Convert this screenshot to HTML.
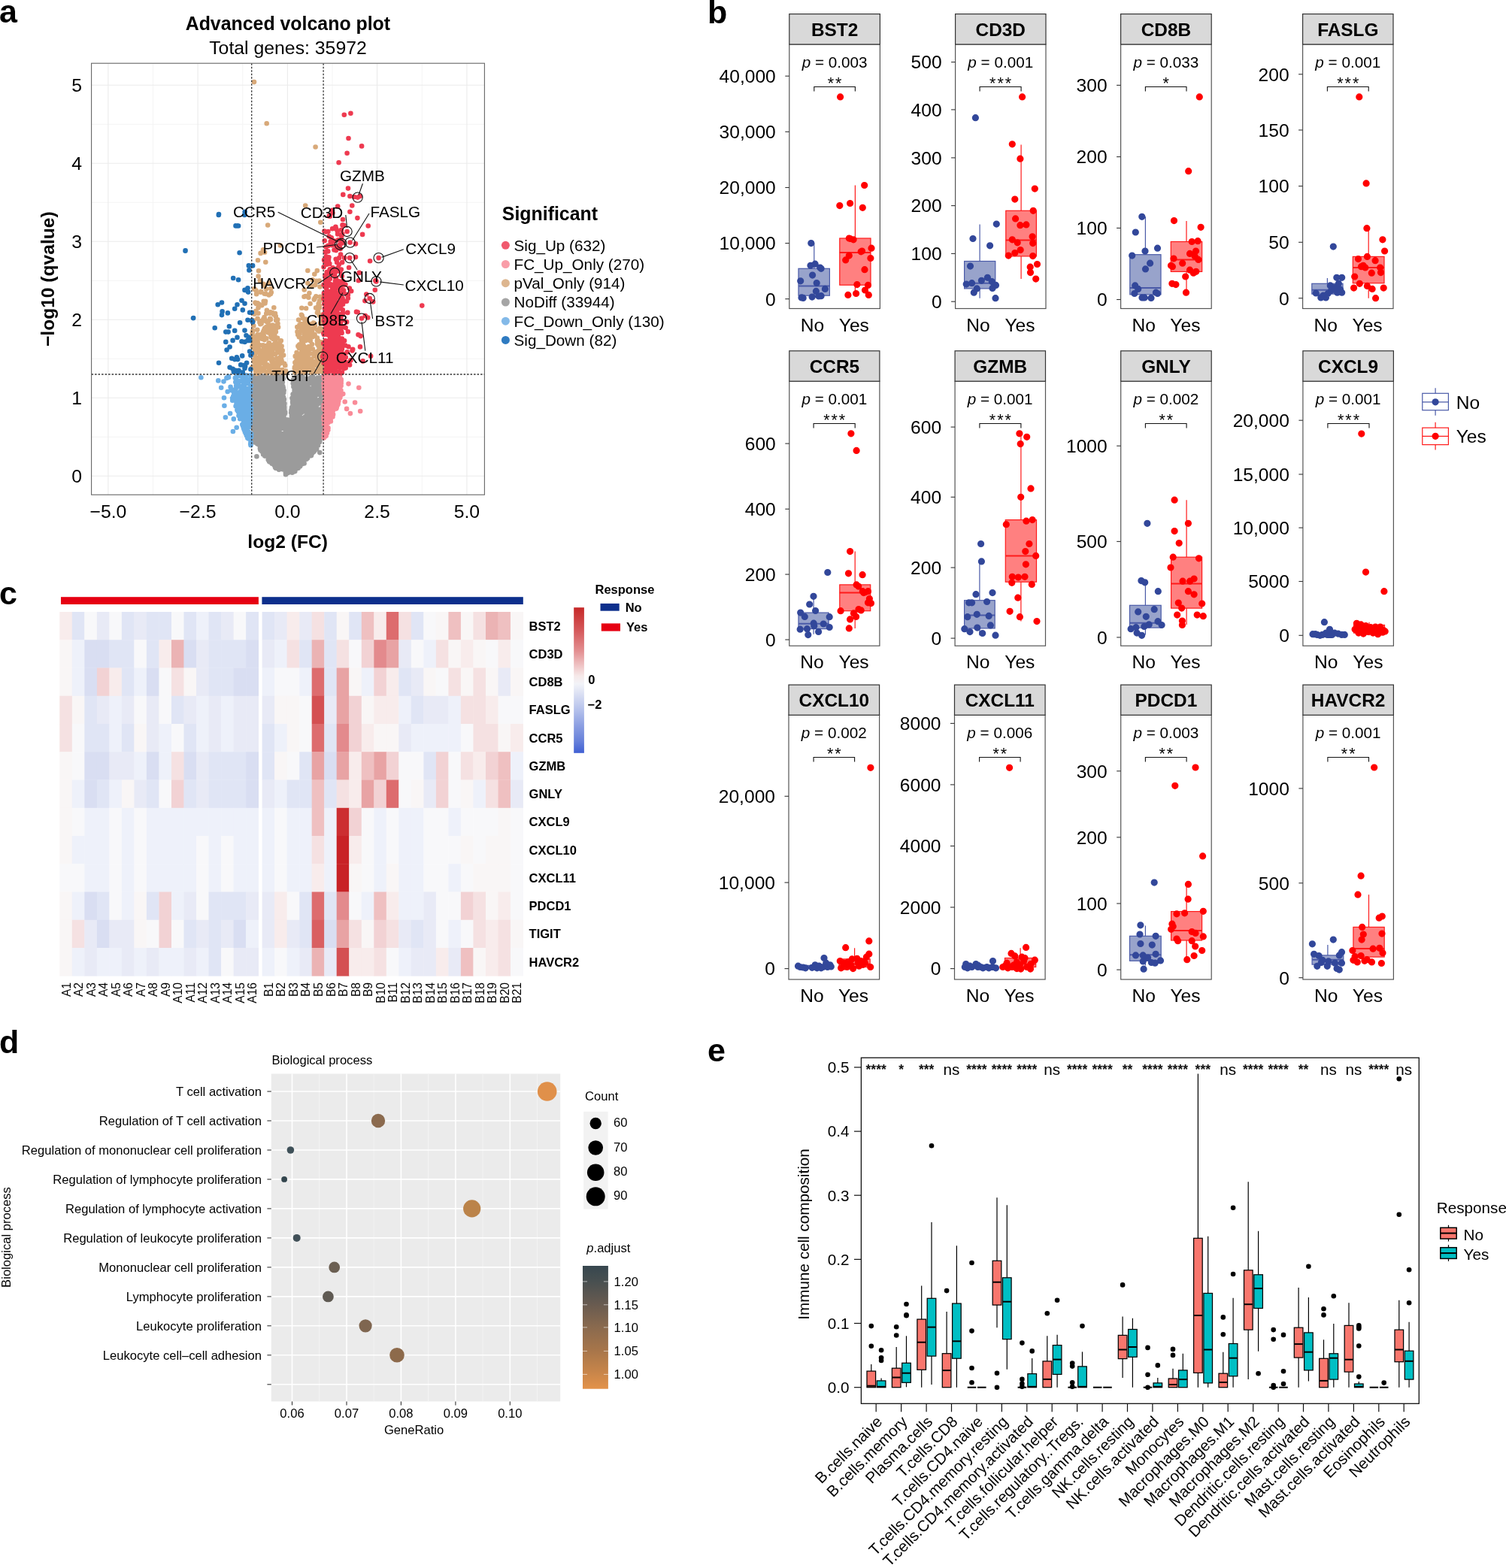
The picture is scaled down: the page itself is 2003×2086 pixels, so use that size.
<!DOCTYPE html><html><head><meta charset="utf-8"><title>Figure</title><style>html,body{margin:0;padding:0;background:#fff}svg{display:block}text{font-family:"Liberation Sans",Arial,Helvetica,sans-serif}</style></head><body>
<svg width="2003" height="2086" viewBox="0 0 2003 2086">
<rect width="2003" height="2086" fill="#fff"/>
<line x1="203.5" y1="84.2" x2="203.5" y2="658.2" stroke="#f4f4f4" stroke-width="1"/>
<line x1="322.8" y1="84.2" x2="322.8" y2="658.2" stroke="#f4f4f4" stroke-width="1"/>
<line x1="442" y1="84.2" x2="442" y2="658.2" stroke="#f4f4f4" stroke-width="1"/>
<line x1="561.3" y1="84.2" x2="561.3" y2="658.2" stroke="#f4f4f4" stroke-width="1"/>
<line x1="121.6" y1="581.3" x2="644.4" y2="581.3" stroke="#f4f4f4" stroke-width="1"/>
<line x1="121.6" y1="477.3" x2="644.4" y2="477.3" stroke="#f4f4f4" stroke-width="1"/>
<line x1="121.6" y1="373.3" x2="644.4" y2="373.3" stroke="#f4f4f4" stroke-width="1"/>
<line x1="121.6" y1="269.3" x2="644.4" y2="269.3" stroke="#f4f4f4" stroke-width="1"/>
<line x1="121.6" y1="165.3" x2="644.4" y2="165.3" stroke="#f4f4f4" stroke-width="1"/>
<line x1="143.9" y1="84.2" x2="143.9" y2="658.2" stroke="#ebebeb" stroke-width="1.1"/>
<line x1="263.1" y1="84.2" x2="263.1" y2="658.2" stroke="#ebebeb" stroke-width="1.1"/>
<line x1="382.4" y1="84.2" x2="382.4" y2="658.2" stroke="#ebebeb" stroke-width="1.1"/>
<line x1="501.6" y1="84.2" x2="501.6" y2="658.2" stroke="#ebebeb" stroke-width="1.1"/>
<line x1="620.9" y1="84.2" x2="620.9" y2="658.2" stroke="#ebebeb" stroke-width="1.1"/>
<line x1="121.6" y1="633.3" x2="644.4" y2="633.3" stroke="#ebebeb" stroke-width="1.1"/>
<line x1="121.6" y1="529.3" x2="644.4" y2="529.3" stroke="#ebebeb" stroke-width="1.1"/>
<line x1="121.6" y1="425.3" x2="644.4" y2="425.3" stroke="#ebebeb" stroke-width="1.1"/>
<line x1="121.6" y1="321.3" x2="644.4" y2="321.3" stroke="#ebebeb" stroke-width="1.1"/>
<line x1="121.6" y1="217.3" x2="644.4" y2="217.3" stroke="#ebebeb" stroke-width="1.1"/>
<line x1="121.6" y1="113.3" x2="644.4" y2="113.3" stroke="#ebebeb" stroke-width="1.1"/>
<g>
<path d="M394.3 512h0M408.7 602.9h0M363.3 515.2h0M335.2 522.3h0M410.7 570h0M363.6 595.7h0M359 573.1h0M382.8 558.5h0M338.1 563.7h0M394.7 563.8h0M382.1 599.8h0M400.7 606.2h0M360.2 514.3h0M395.7 533h0M343.4 560.1h0M369.2 552.4h0M340.4 580.9h0M365.5 613h0M412.6 582h0M428.1 553.5h0M392.4 547h0M399.2 612.9h0M376.7 600.9h0M373.1 620.2h0M398.8 592.7h0M418.1 543.8h0M347.3 519h0M424.8 511.1h0M389.1 613.6h0M353.1 507.8h0M387.4 608.9h0M419 546.6h0M389 582.4h0M373.9 600.9h0M338.3 514.8h0M379.3 559.3h0M365.4 531.7h0M337.1 583h0M427 544.4h0M375.6 562.5h0M418 586.8h0M391 540.9h0M368.6 563.1h0M407.7 510.4h0M349.1 507.1h0M335.2 531.5h0M374.7 523.1h0M336.1 548.3h0M410.4 563.9h0M403.9 602.7h0M353.6 584.2h0M351.8 586.5h0M425.2 555.8h0M367.1 596.6h0M425.5 573.2h0M428.2 563.6h0M405.6 554.8h0M375.4 514.6h0M374 508.5h0M341.3 575.2h0M358.6 524.3h0M399.2 536.3h0M394.8 501.9h0M366.4 579.5h0M355 509.5h0M392.3 568.5h0M391.4 544.2h0M364 503.3h0M379.1 548.4h0M395.3 608.4h0M340.6 577.7h0M407.6 523.1h0M421.8 524.9h0M418.4 562.5h0M358.8 599.7h0M352.6 556.6h0M338.4 553.5h0M350.5 541.7h0M424.2 560.5h0M412.1 544.3h0M393 607.4h0M389.5 627.9h0M411.2 503.5h0M367 590.3h0M345.5 548.6h0M410.8 590.9h0M417 525.5h0M347 529.6h0M389.4 546.9h0M392.8 620.3h0M397.8 547.9h0M413.3 524.7h0M365.9 535.7h0M417.4 512.6h0M396.8 604.3h0M370.9 599.1h0M378.3 544.4h0M344.3 581.8h0M347.5 543.7h0M413.9 582.3h0M370.2 560.4h0M355.2 599.9h0M366.2 571.5h0M342.5 531.5h0M389.9 592.8h0M342.1 530.1h0M421.2 596.9h0M363.9 520.7h0M393.8 608h0M376.2 513.8h0M370.5 537.2h0M343.9 535h0M408.8 521.7h0M399 583.2h0M340.8 563.2h0M407 607.5h0M360.1 560.8h0M406.1 512.1h0M411 546.2h0M424.3 519.3h0M408.8 579.9h0M395.9 608.4h0M407.2 530.9h0M403.5 573.2h0M370.8 576.5h0M337.9 519.1h0M386.4 580.9h0M371.1 521h0M422.4 580.9h0M347.8 530.5h0M402.7 521.7h0M389.6 573h0M406.3 607.5h0M379.9 628.9h0M364.6 591.1h0M403.4 571.8h0M419.5 509.4h0M358.2 580h0M337.9 565.2h0M416.8 567.8h0M352.2 542.7h0M360.1 562.1h0M361.7 563.5h0M394.7 560.8h0M372.4 526.4h0M428.2 506h0M356.7 502.2h0M354.5 564.8h0M391.9 624.3h0M357.3 570.4h0M418.7 530.4h0M413.8 530.4h0M402.2 518.4h0M399.7 533.8h0M363.5 610.6h0M406.9 610.9h0M422.4 552.6h0M366.1 506.7h0M349.5 563.7h0M343.4 502.8h0M389.6 524.6h0M361.6 524.9h0M401.8 546.3h0M425.4 574.7h0M374.3 539.7h0M414.4 588h0M398.6 605h0M340.9 534.9h0M336.2 503.7h0M379.4 578h0M403.4 562.5h0M388.4 557.8h0M377.9 548h0M387.2 623.3h0M391.3 603.3h0M353.4 514.5h0M353.6 571.9h0M406.3 537.7h0M379.1 549.4h0M412.8 541.6h0M395.9 578.4h0M388 579.7h0M405.7 581.9h0M382.7 587.6h0M413.6 581.8h0M415.3 527.1h0M377.4 536.9h0M338 580.6h0M416.8 554.9h0M387.9 543.4h0M399.3 554.4h0M374.8 608.5h0M362.6 593.7h0M368.3 572.8h0M370.2 554.7h0M425.1 513.1h0M370.7 597.2h0M419.1 566.5h0M417.4 591h0M381.9 606.5h0M374.8 521.3h0M413.7 569.3h0M408 571.4h0M370.3 559.5h0M353.9 590.5h0M402.1 529.1h0M340.1 534.2h0M412.7 573.1h0M340.7 541h0M358.2 546.3h0M370.6 547.2h0M359.3 568.9h0M354.1 503.2h0M362.3 591.9h0M375 528.9h0M402.4 606.9h0M347.8 589.8h0M408 567.3h0M422.8 544.6h0M393.9 529.5h0M406.3 586.8h0M359.2 574.1h0M381.4 614.1h0M376.8 546.8h0M351.3 595h0M380 631.3h0M378.4 611.3h0M360.4 526.2h0M352.3 549.9h0M373.5 576.8h0M422.8 512.5h0M398 552.1h0M408.4 604.4h0M425.7 513.5h0M345.6 590.7h0M337.8 521h0M393.1 543.3h0M399.4 556.2h0M425.6 551.1h0M366.7 564h0M336.5 535.4h0M400.9 576.4h0M415.9 531.2h0M366.8 622.8h0M363.7 572.8h0M420.4 541.3h0M416.1 578.8h0M358.1 614h0M411 540.5h0M355 597.1h0M401.7 615.8h0M383.9 628.5h0M407.7 551.1h0M364.5 548.3h0M362.6 530.9h0M395.3 533.2h0M370.8 535.3h0M401.3 580.9h0M337.2 503.1h0M402.8 605.6h0M404.4 595.6h0M377.4 594.4h0M355.6 596.6h0M379.1 604.3h0M405.2 508.6h0M360.7 555.9h0M383 623.1h0M346.6 513.7h0M341.1 552.9h0M417.3 516.1h0M335.2 562.8h0M369.9 530.5h0M412.2 569.8h0M372.1 612.6h0M342.5 556.5h0M425.7 555h0M396.4 589.5h0M389.2 531.6h0M390.9 524.8h0M387.2 606.5h0M390.3 566.9h0M350.5 549.6h0M373.1 596.8h0M370.2 560.1h0M400.2 557.7h0M344.9 522.7h0M358.5 609.8h0M415.7 510.2h0M338.9 588.4h0M353.1 569.8h0M351 567.5h0M376.5 614.2h0M368.4 500.5h0M411.8 591.3h0M378.2 543.8h0M383.2 610.9h0M348 594.8h0M347.1 570.5h0M368.7 554h0M366.3 531.2h0M359.1 578.6h0M406.7 578.3h0M419.3 509.2h0M364.3 533.8h0M358.8 614.4h0M376.5 551.8h0M402.7 569h0M347.3 501.8h0M401.1 615.9h0M343.5 588.5h0M422.3 550.6h0M341.1 556.4h0M378.5 557h0M405 541.6h0M412.2 577.7h0M409.4 512.7h0M424.9 582.9h0M424.4 578.4h0M370.5 531h0M379.7 572.7h0M371.5 574.8h0M406.6 557h0M398.8 524.8h0M356.7 601.7h0M361.2 592.2h0M407.3 582.7h0M365.5 547.3h0M401.2 531h0M363 547.3h0M338 578.6h0M389.8 599h0M367.9 550.9h0M391 612.5h0M358.9 606.2h0M401.7 587.9h0M338.1 558.9h0M337.6 508h0M376.2 605.6h0M358.1 503.4h0M420.3 547.3h0M343.6 590.3h0M395.1 619.7h0M349.6 511.2h0M366.7 588.3h0M343 525.7h0M399.2 559.3h0M393.6 619.7h0M359.5 554.4h0M425.5 522.8h0M395.8 563.2h0M336.1 512.9h0M400.8 523.5h0M409.7 572.1h0M415.9 501.1h0M358 516.2h0M373.1 591.2h0M376.9 606.3h0M402.7 565.4h0M417.6 512.1h0M364.9 595.4h0M424.3 565.2h0M429.2 555h0M339.9 564.2h0M382.8 574.4h0M425.5 505h0M373.6 520.5h0M394.2 534.6h0M389.7 604.9h0M401.3 607h0M386.1 625.6h0M375.6 544h0M336.4 560.3h0M371.1 565.2h0M362.9 544.5h0M351.2 510.7h0M426.3 566.6h0M362.4 524.7h0M362.1 536h0M366.6 551.8h0M411.7 560h0M370.9 585.9h0M394.1 620.1h0M398.6 503.2h0M428.3 513.1h0M417.6 514.6h0M394 562.8h0M353.8 563.1h0M362.4 616.3h0M346.9 525h0M390.3 576.2h0M375.6 605.5h0M398.1 594.2h0M372.8 570.6h0M403.3 591.5h0M420 580h0M398.9 620.5h0M350.1 604.5h0M342.9 569.5h0M391.2 590.3h0M345.1 523.7h0M411.4 557.3h0M347.8 560h0M394.8 575.4h0M417.1 580.6h0M383.4 617.9h0M388.5 529.7h0M404.5 598.6h0M429.3 536h0M375.1 577.2h0M409 609.5h0M395.7 536.1h0M379.4 570.4h0M361.9 509h0M364.9 539.3h0M373.8 506.8h0M429.6 551.5h0M341.7 566.1h0M339.4 559.1h0M352.4 583.6h0M363.8 551.9h0M413.2 506.7h0M366.1 556.3h0M335.3 583h0M417.7 545.1h0M362.7 528.1h0M362.3 512.3h0M406.3 572.6h0M348.8 563.9h0M363 559h0M405.7 517.5h0M340.3 553.2h0M428.5 571.1h0M418 554.6h0M419.4 526.9h0M403 606.7h0M360.1 589.4h0M391.1 548.4h0M353.2 584.4h0M412.7 559h0M397.2 594.1h0M343 570.8h0M418.7 552.4h0M339.8 573.8h0M371.4 554.6h0M390.7 504.7h0M367 578.1h0M393.2 513.5h0M402.1 569.6h0M412.4 567.7h0M346.9 521h0M363.1 518.7h0M392.8 564.5h0M343 527h0M341 502.8h0M418.4 592.3h0M346.9 513.6h0M380.5 616.4h0M382.3 599.9h0M373.6 546.7h0M422 525h0M350.1 568.8h0M343 564.2h0M421.9 579.4h0M359.7 558.1h0M365.2 508h0M342.7 537.1h0M362.7 511.6h0M420 506.7h0M371.7 503.2h0M401.7 509.3h0M427 536.5h0M417 519.5h0M368.9 619.9h0M404.1 614.8h0M388.1 562.8h0M369.4 589.1h0M346.8 509.5h0M419.6 552.4h0M398.8 534.2h0M382.4 626.5h0M397.4 549.9h0M385.6 626.5h0M373.8 559.4h0M403.3 506.6h0M404.9 586.3h0M341.9 537.7h0M408.6 609.5h0M378.6 562.6h0M400.3 580.2h0M402.9 570.2h0M374.1 583.9h0M381.8 595.3h0M357.8 613.2h0M376.7 593.7h0M414.5 518.7h0M367.5 549.6h0M420.8 584.7h0M387.6 573.3h0M396.7 503.5h0M347.9 502.8h0M398.2 525.7h0M395.3 515.6h0M365.8 537.6h0M359.9 564.5h0M399.7 606.1h0M340.5 526.4h0M411.9 543.3h0M365.4 544.3h0M342.7 543.7h0M389.7 549.9h0M377.3 602.9h0M403.9 570.5h0M405.8 584.1h0M343.1 560h0M394.1 508.7h0M408.3 598h0M401.2 582h0M365.4 567.3h0M395.6 541.6h0M371.3 541.7h0M367.6 551.2h0M378.5 557.2h0M336.4 565.9h0M355.7 581.1h0M341.7 544.5h0M419.9 585.4h0M344.7 549.4h0M346.8 512.8h0M346.4 584.4h0M381.9 617.4h0M365.1 596.1h0M369.3 526.4h0M348.1 554.9h0M376 594.3h0M413.1 532.4h0M347.5 593.8h0M393 515.4h0M428.6 533.2h0M396.2 603.4h0M370 549h0M423.1 592.5h0M401.2 573.3h0M410.8 601.7h0M397.6 542.3h0M379 607.8h0M373.1 532.6h0M378.8 601.6h0M411.1 522.8h0M424.9 519.8h0M396.5 608h0M413.2 534.9h0M406 539h0M413.9 593h0M398.9 563.4h0M366.9 589.1h0M349.5 566.8h0M369.9 576.3h0M415.9 541.2h0M399.6 500.3h0M355.5 564.6h0M343.5 580.2h0M407 516.3h0M376.8 585.5h0M382.9 607h0M364 592h0M356.5 506.2h0M347.9 502.7h0M416.1 545.8h0M375.5 606.6h0M368 578.3h0M422.8 560.8h0M429.2 535.8h0M348.7 558.5h0M424.7 587.6h0M396.9 571h0M335.8 536.6h0M359.2 527.8h0M381.3 560.9h0M378.3 541.9h0M429.2 525.4h0M341.3 566.4h0M353.3 599.8h0M426.3 532.6h0M416.1 538.8h0M364.8 580.4h0M376.7 593.6h0M374.9 529h0M396.3 535.3h0M364.2 595.2h0M363.1 524.7h0M422.9 552.9h0M368 585.3h0M395.1 516.5h0M367.2 607.5h0M415.9 548.9h0M369.6 525.7h0M373 547.1h0M400.3 572.2h0M352.7 502.7h0M385.7 622.4h0M352.9 606.2h0M374.3 589.8h0M369.3 522.9h0M411.8 561.1h0M376.6 597.2h0M386.4 603.3h0M416.6 521.9h0M419.4 592.9h0M397.4 517.3h0M410.9 516.7h0M378.7 597.6h0M380.6 588h0M407.9 520.9h0M371.3 570.7h0M425.9 506h0M427 534.6h0M399.3 596.7h0M414.2 596h0M342.3 590.6h0M365.5 535.4h0M420.2 517.7h0M394.7 557.7h0M355.9 515h0M407.3 564h0M350.1 604.1h0M370.9 588.5h0M340.5 578.4h0M377.5 594.5h0M371.4 588.4h0M370.7 549.6h0M382.1 606.6h0M410.6 563.9h0M378.4 536.9h0M406.5 518.5h0M412.1 542.8h0M403.5 612.1h0M401.4 598.9h0M397.4 532.2h0M395.9 520h0M360.2 570.8h0M351.1 560.4h0M367.5 544.7h0M358.2 537.7h0M404.8 535.7h0M341.2 505.4h0M389.7 596.5h0M376.1 563.3h0M384.1 599.8h0M360 584.1h0M409.2 574.2h0M338.4 572.2h0M386 584.9h0M339.8 511.5h0M374.6 582.8h0M350.7 543.8h0M409.3 530.6h0M356.6 563.7h0M401.8 581.1h0M377.6 519.6h0M374.4 545.5h0M349.3 519.8h0M353.4 538.1h0M350.1 514.1h0M353.9 534.4h0M414.7 598.8h0M343.6 554.1h0M382.3 568.5h0M409.2 570.7h0M382.1 567.4h0M378.1 578.4h0M350.1 593.4h0M360 599.7h0M354.3 562.1h0M364.5 600.8h0M370.3 565.4h0M399 501.9h0M416 575.2h0M377.8 577.1h0M357.5 504.6h0M397.9 553.6h0M361.3 506.6h0M373.8 552.7h0M343.4 512.9h0M344.5 580h0M419.2 505.5h0M420.9 521.4h0M377.8 624.8h0M365.8 605.8h0M336 565.8h0M342 511.6h0M400.3 583.3h0M415 525.6h0M365.8 518.8h0M423.4 549.5h0M368.3 511.5h0M424.6 586.3h0M342.9 516h0M398.1 601.9h0M388.8 591.6h0M422.4 587h0M355.5 571.4h0M362.8 522.3h0M343.8 507.8h0M391.2 558.2h0M400.9 591.8h0M371.3 600.7h0M362.5 609.5h0M421 513.3h0M369 539.6h0M381.5 595.3h0M368.1 502.8h0M367.3 555.1h0M404.7 524.2h0M414.6 501.5h0M402.5 501.2h0M361.3 562.8h0M376.6 536h0M362.6 520.8h0M420 533.7h0M366.5 570.7h0M414.3 585h0M411.5 527.6h0M371.4 531.9h0M395.7 588.5h0M385.9 618.3h0M429.3 502.6h0M338.3 505.6h0M385.4 616.3h0M413 574.8h0M402.7 521.5h0M386 626.6h0M413.2 539.5h0M409.6 515.3h0M368.6 577.8h0M356.8 588.5h0M345 529.8h0M375.4 556.5h0M361.9 584.6h0M406.6 569.8h0M391.6 576.2h0M360.2 563.1h0M426.5 565.9h0M358.1 530.5h0M412.5 548h0M422.2 546.6h0M392.2 580.8h0M389.2 558.3h0M421 521.5h0M405 508.4h0M341 529.2h0M363 570.1h0M362.5 567.3h0M415.9 596.8h0M413.2 600.2h0M363.6 558.4h0M397.1 514.3h0M418.6 599.5h0M405.8 547.4h0M371.5 528.4h0M420.3 568.5h0M350.6 530h0M363.8 554.2h0M382.1 613.6h0M406.7 533.1h0M348.6 598.2h0M411.1 510h0M417.7 565.4h0M369.7 573.1h0M351.5 566.2h0M356.7 611.4h0M371 624.7h0M396.8 501.4h0M419.2 547.6h0M420.3 573.2h0M410.9 594.8h0M391.8 564.8h0M409.8 591.1h0M357.4 609.3h0M359.3 505.5h0M389.5 538.2h0M408.5 581.5h0M355.7 518.1h0M356.8 566.7h0M424.6 534.8h0M388.5 562.8h0M400.9 548.6h0M366.8 620.8h0M353.9 527.5h0M395.2 525.5h0M338.9 511.5h0M371.2 508.1h0M391.4 559.3h0M412.7 548.7h0M399.1 612h0M392.4 585.1h0M380.5 597.8h0M364.6 564.4h0M354.7 605.1h0M373.1 526.5h0M338.4 520.1h0M429.2 557.7h0M369 601.7h0M352.2 589.6h0M409.7 543.1h0M404.8 542.3h0M364.6 516.9h0M354.7 575.6h0M345.7 546h0M407.8 565.7h0M397.8 534.1h0M392.6 606.6h0M401.3 617.6h0M360.4 572.7h0M396.9 533h0M370.1 580.6h0M354.5 562.8h0M390.1 507.1h0M338.6 510.4h0M403.9 521.8h0M396.8 594.2h0M394.1 514.7h0M344.9 568.4h0M336.9 519.1h0M405.9 539.8h0M346.7 562.3h0M400.5 587.9h0M395.3 565.4h0M415.9 532.9h0M414.4 555.1h0M389.7 561.6h0M404.8 588.7h0M382.1 569.8h0M397.8 604.1h0M351.8 517.4h0M403.1 531.9h0M377.1 619.4h0M370.4 613h0M394.5 567.7h0M367.7 598.3h0M401.1 590.3h0M389.6 598.2h0M406.6 582.6h0M403.2 533.7h0M367.1 519.7h0M420.2 544.2h0M414 559.7h0M404.6 616.4h0M429 525.1h0M348.3 600.5h0M389.6 530.2h0M348.9 503.4h0M406.5 567.7h0M369.3 620.3h0M343.1 548.2h0M408.5 510.6h0M369.5 506.5h0M363 506.2h0M416.8 538.2h0M401.7 519.7h0M385.9 564.8h0M369.7 516.3h0M408.4 596.1h0M352.2 606.6h0M389.4 595.5h0M365.7 528.6h0M336.8 568h0M392.2 626.6h0M362.7 510.7h0M429.6 518.3h0M350.9 530h0M377.7 610.2h0M418.4 580.4h0M340.7 511.5h0M428.8 564.2h0M356.2 559.8h0M401.1 568.1h0M368.3 599.8h0M359 504.4h0M335.5 534.9h0M410 578.6h0M391.5 603.4h0M398.4 537.6h0M404.8 566.8h0M427.3 516.2h0M389.3 541h0M360.9 505.7h0M396.2 512.3h0M362.2 500.5h0M344.8 561.6h0M371.2 607.4h0M366.8 517.5h0M400.2 538.2h0M398.1 532.6h0M406.1 536.8h0M408.4 550.6h0M385.6 621.1h0M406.1 587.2h0M381.8 619.8h0M409.1 557.6h0M357.1 503.1h0M399.8 587.8h0M416.3 581.9h0M404.8 593.9h0M375.1 547.3h0M344.6 533.3h0M355.8 565.9h0M366 601.4h0M423.9 564.7h0M396.8 538.1h0M413 597.7h0M342.2 570.1h0M422.4 548.6h0M374.2 614.9h0M407.3 561.2h0M351.3 500.5h0M425.4 508h0M413.6 561.4h0M363.4 545.2h0M349.1 549.9h0M403 587h0M401.2 527.9h0M414.4 550h0M415.5 544.2h0M423.2 512h0M371.8 599.2h0M351.6 515.2h0M407.2 603.1h0M359.3 502.5h0M407.5 572.6h0M347.7 596.9h0M428.3 526.3h0M341.4 537.7h0M370.6 536h0M362.9 615.7h0M416.8 512.8h0M399.9 532.2h0M353.3 585.4h0M377 528.4h0M362.9 544.9h0M371.9 570.4h0M378.8 595.6h0M336.5 529.7h0M401.1 519.7h0M349.3 601.3h0M391.6 506.7h0M379.7 606.1h0M391.4 503.8h0M417.5 511.8h0M373.9 597.8h0M417.8 526.8h0M415.9 580.4h0M362 600.8h0M417.8 509h0M369.7 515.1h0M371.1 572.7h0M388.7 603.4h0M360.2 597.2h0M359.5 563.6h0M344.3 527.8h0M351.4 573.3h0M395.9 614.6h0M373.7 557.2h0M414.2 559h0M399.4 611.7h0M410.8 524.4h0M355.4 520.7h0M388.9 542.9h0M415.9 578.5h0M422.4 514.2h0M411.8 581.9h0M385.1 609.9h0M407.1 512.8h0M350 532.6h0M422.2 568.5h0M409.3 587.6h0M383.7 607h0M392.6 579.6h0M411.6 543.2h0M403.6 599.3h0M340.8 514.3h0M424 546.3h0M422.6 537.8h0M392.5 576.6h0M368.6 567.1h0M355.9 575.5h0M383.1 629.1h0M372.2 594.8h0M395.2 523.5h0M393.3 543.5h0M393.3 598.7h0M370.6 519.2h0M335.7 503.3h0M416.7 551.2h0M412.6 553h0M377.1 542.6h0M355.3 536.7h0M359.7 537.3h0M411.4 576h0M429.2 547.9h0M345.5 537.1h0M424.7 548.4h0M419.8 514.7h0M394.7 575.2h0M402 600.3h0M398.4 539.4h0M386.2 598.1h0M414.2 604.6h0M418.4 517.7h0M427.1 513.7h0M377.7 614.1h0M394.1 597.5h0M412.6 606.2h0M374.8 603.6h0M416.8 549.6h0M394.9 590.8h0M351.5 517.4h0M407.6 534h0M351.7 550.9h0M362.1 564h0M378.5 557.1h0M422.6 523.8h0M374.3 522.8h0M416.8 528.7h0M381.6 619h0M360.7 544.4h0M370.9 576.1h0M373.1 607.3h0M398.9 589.5h0M394.5 523.7h0M407.4 504.4h0M341.1 581.4h0M425.3 570.5h0M340.4 512.2h0M373.9 564.6h0M427.1 579.7h0M358.3 601.7h0M384.2 570.2h0M392.5 527.7h0M366.3 505.3h0M381.7 603.2h0M365.4 573.9h0M377.4 559.2h0M379.9 628.9h0M360.2 503.2h0M337.3 534.1h0M366.4 583.3h0M366 621.7h0M338.3 514.1h0M364.6 617.1h0M391.6 519.1h0M391.9 612.8h0M373.4 597.3h0M336.3 502.7h0M378.5 615.1h0M412.5 599h0M352.9 562.3h0M390.4 514.5h0M427 510.2h0M367.3 554.1h0M346.5 563.1h0M346.3 592.5h0M364.2 538h0M397.3 542.3h0M402.5 535.9h0M397.9 558.6h0M354.9 533.1h0M353.1 561.5h0M359.5 575h0M414.3 544h0M377.2 596.3h0M411.5 544.5h0M376.7 515.8h0M400.8 500.7h0M398.1 511.6h0M340.2 526.6h0M403 506.7h0M370.2 569.9h0M421.7 577.7h0M414.3 576.3h0M366.9 595.8h0M355.1 575h0M350.1 521.4h0M399.6 592.2h0M353.6 600h0M417.2 556.5h0M357.2 605.1h0M397.2 548.2h0M365 588.1h0M395.8 557.3h0M352.1 589.7h0M418 579.9h0M415.1 506.5h0M389.9 619.5h0M406.9 543.3h0M362.4 516.6h0M380.8 625.6h0M392.9 523.1h0M394.1 577.9h0M376.8 522.3h0M422.4 502.5h0M349.1 553.9h0M383.8 579.7h0M373.5 597h0M360.5 601.1h0M344.5 558.4h0M377.2 536.9h0M395.7 504.5h0M367.1 514h0M371.4 544h0M411.5 579.7h0M377.3 548h0M345.3 561.4h0M394.1 501.9h0M348.7 563.2h0M376.8 582h0M408 537.4h0M388.3 549.3h0M390.2 541.8h0M423.2 505.3h0M428.1 517.1h0M344.7 572.2h0M409.3 593.5h0M392.6 625.8h0M354.1 579.2h0M341.4 575.9h0M356.7 516.8h0M365.1 581.8h0M411.2 557.6h0M393 606.3h0M358.4 549.1h0M381.9 596.9h0M388 547.6h0M364.1 514.5h0M339.6 586.4h0M353.3 539.3h0M417.1 539.2h0M355.4 509.5h0M362.7 526.7h0M341.9 571.6h0M414.5 559.4h0M339.6 575.2h0M399.6 578.5h0M369.5 529.5h0M343.8 522.8h0M398.7 574.4h0M402.5 579.5h0M348.4 576.9h0M376.6 521.7h0M354.1 565.6h0M428.1 521.4h0M420.7 542h0M390.9 554.6h0M392.1 570.4h0M369.1 601h0M340.9 583.4h0M408.1 558.6h0M350.3 523.2h0M338.7 507.4h0M396.9 558.1h0M374.1 521.8h0M384.3 593.1h0M373 560.8h0M338.9 500.4h0M399.3 619.9h0M405.2 561.3h0M400.2 533.6h0M353.9 582.8h0M369.5 512.2h0M384.7 624.3h0M402.9 566h0M417.2 512.6h0M335.5 568.8h0M346.3 561.7h0M343.2 513.4h0M352.2 543h0M397.1 589.9h0M355.2 509.6h0M365.9 554.3h0M369.9 618.2h0M389.1 535.4h0M401.9 567.1h0M376.8 503.6h0M354 523.2h0M403.3 511.7h0M422.6 578.8h0M399.5 504.5h0M391.5 554.5h0M341.5 552.6h0M357.7 580.8h0M370.7 501.7h0M395.5 535.3h0M351.2 592.2h0M425.6 575.5h0M371.9 563.7h0M377 569.7h0M375.1 538.4h0M361.1 610.8h0M376.2 621.4h0M377.4 566.5h0M372.6 527.8h0M367 520.2h0M371.5 529.7h0M429.1 542h0M360.7 552.9h0M425.2 551.2h0M372.9 602.5h0M387.4 586.8h0M345.3 536.9h0M400.7 501.9h0M347.8 510.2h0M410.8 599.1h0M364.7 618.8h0M381.5 574.1h0M420.8 557.7h0M375.2 501.2h0M368.3 535.1h0M357 530.9h0M406.4 521.3h0M380.9 603.3h0M395 510.2h0M352.3 507.2h0M344.1 512.7h0M371.3 539.8h0M402 574.6h0M404.6 570.9h0M386.4 591.8h0M360 596.1h0M418.5 584.4h0M344.5 548.1h0M386.1 625.5h0M368 550.7h0M410.9 565.1h0M356.1 509.6h0M383.2 610.3h0M389.1 534.6h0M392.3 627.1h0M338.2 578.3h0M396 574h0M342.9 514.8h0M369.9 513.9h0M392.8 549.3h0M375.2 542.4h0M357.9 598.5h0M371.5 532.6h0M366.2 583.8h0M357.7 513.4h0M361 588.6h0M418.8 589.9h0M415.5 602.8h0M355.4 531.6h0M413.6 602.9h0M354.4 600.4h0M347.8 576.4h0M345.9 596.8h0M352.4 506.7h0M370.3 614.5h0M398.3 501.8h0M410.5 545.7h0M370.8 578.8h0M363.5 524.3h0M411.3 567.1h0M416.9 545.1h0M400.1 597h0M357.7 602.5h0M421.8 525.1h0M420.5 522.1h0M411.5 574.3h0M407.7 610.8h0M426.8 514.4h0M350.4 529.4h0M388.7 576.5h0M393.7 513.5h0M403.7 604.8h0M387.6 557.4h0M369 609.2h0M357.3 541.9h0M426.4 571.4h0M396.3 530.4h0M398.9 544.5h0M406.8 593.7h0M424.9 548.4h0M415.2 568.8h0M395.8 575.7h0M376.7 589.2h0M351.7 569.3h0M359 512.6h0M351.8 502.5h0M416.8 581.4h0M408.4 554.8h0M414 606.1h0M335.2 567.9h0M363.4 576.2h0M380.4 570h0M421.3 509.2h0M367.7 594.4h0M397.1 606.5h0M372.9 536.2h0M335.2 528.9h0M404.7 580.9h0M358.3 560.3h0M362.9 522.3h0M391 591.8h0M411.8 551.2h0M347.3 577.3h0M365.3 572.7h0M427.9 575.7h0M372.3 608.4h0M419 558.6h0M374.9 620.3h0M364.3 610.7h0M369.2 610.8h0M405.4 588.2h0M404.2 529.1h0M347.6 531h0M424.9 556.6h0M396.2 589.7h0M351.3 532.7h0M413 605.4h0M345.5 585.7h0M394.4 583.9h0M426.7 526.3h0M422.1 552.2h0M406.8 504.7h0M338.1 555.6h0M352.5 525.8h0M356.9 533h0M366.4 545.2h0M399.5 510.4h0M417.9 574.1h0M400.4 608.6h0M344.1 536.8h0M421.2 532.4h0M404.3 556.3h0M369.3 518.3h0M369.9 511.1h0M411 526.1h0M429.1 565.5h0M370.7 534.2h0M427 548.1h0M419.4 582.6h0M384 563.9h0M384.7 565.1h0M416 596.6h0M348.6 505.3h0M426.1 502.2h0M398.7 514.3h0M411.9 597.9h0M396.2 560.9h0M406 524.2h0M418.6 507.2h0M408 581.4h0M358.4 509.9h0M374.8 567.3h0M401.3 540.2h0M400.9 549h0M372.5 597.8h0M421.4 518.9h0M403.2 610.6h0M339.1 508.6h0M372.3 538.1h0M369.1 524.2h0M400.4 582.5h0M351.3 586.1h0M387.8 550.8h0M368.4 520.9h0M387.8 553.2h0M358.5 528.3h0M391.7 520.8h0M362.7 592.5h0M349 551.8h0M385.8 560.3h0M344.9 561.6h0M360.6 606.4h0M367.5 549.7h0M417.3 601h0M374 510.5h0M427.2 509.6h0M373.9 532.7h0M397.4 601h0M366.1 604.7h0M416.9 592.7h0M425.5 531.9h0M359.9 564.4h0M350.1 578.2h0M337.2 541.1h0M391.3 596.6h0M336 506.3h0M346.6 589h0M337.1 581.5h0M373 561.2h0M365.6 599.5h0M409.7 595.6h0M366.4 566.9h0M360.8 535.1h0M342.7 589.6h0M374.9 598.4h0M414.8 585.4h0M374.8 569.9h0M413.9 603.7h0M413.8 505.1h0M360.1 610.4h0M409.9 591h0M393.3 506.6h0M418.8 553.7h0M376.5 501.3h0M397.7 504h0M400.4 539.1h0M401.6 616.3h0M392.4 612.2h0M346.6 573h0M372 606.8h0M343.2 545.8h0M364.2 592.7h0M373.9 516.2h0M372 592.3h0M407.8 519.5h0M353.5 570.8h0M427 549.4h0M394.2 589.1h0M388.1 542.1h0M412 523.3h0M371.6 596.7h0M428.2 558.5h0M361.6 614.6h0M411.3 518.6h0M389.1 581.4h0M397.6 500.8h0M389.9 526.9h0M418.8 531h0M381.1 609.2h0M401.2 520.9h0M345.5 547.3h0M393.3 597.3h0M342.5 527.5h0M363.4 576.6h0M347.2 588.6h0M347.4 598.5h0M389.9 592.9h0M398.4 511.5h0M367.7 562.1h0M393.7 587.1h0M376.7 548.6h0M378.3 595h0M373.9 581.3h0M362.6 552.1h0M383.6 577.7h0M402.4 523.4h0M396.6 587.2h0M411.5 576.3h0M372.5 519.3h0M397.2 501.6h0M342.6 560h0M345.8 594.2h0M367.5 594.7h0M375.9 520.6h0M425.4 586.4h0M425.1 587.9h0M395.7 543.9h0M376.8 616.1h0M362.9 606.8h0M364.6 571.7h0M364.4 587.9h0M375.8 508.5h0M344.2 509.9h0M374 518.9h0M369.2 588.5h0M377.9 531.4h0M342.7 508.1h0M380.2 583.8h0M401.3 595.9h0M402.7 577.1h0M380.3 607.7h0M354.1 516.8h0M389.7 576.2h0M408.6 510h0M336 550.3h0M359.9 599.2h0M376.4 536.8h0M357.4 550.9h0M373.8 590.7h0M421.4 506.1h0M412.9 586.4h0M419 537.3h0M351.3 504.4h0M358.3 541.1h0M401 510.5h0M398.3 500.4h0M353.4 555.5h0M375.1 622.1h0M354 555h0M373.1 530.1h0M407.1 566.5h0M368.9 604.4h0M362.6 585.3h0M369.2 609.1h0M379.8 618.2h0M417.6 558.9h0M343.8 589h0M359 612.2h0M380.6 608.5h0M349.2 538.4h0M375.7 542.4h0M379.5 565.2h0M364.3 575.7h0M380.6 587h0M413.5 600h0M355.7 586.8h0M409.6 518.7h0M388.6 584.5h0M396.6 521.6h0M357.9 543h0M402.4 580.5h0M348.5 551.2h0M354.8 583.5h0M339.1 546.5h0M337.3 558.8h0M346.1 544.2h0M369.1 544.8h0M352.1 596.3h0M386.6 574.1h0M413.4 566h0M416.1 554.2h0M338.2 571.2h0M337.8 551.5h0M340.9 560.3h0M349 517.6h0M343.7 544.1h0M401.8 596.1h0M391.3 588.7h0M359.4 598.2h0M336.2 542.3h0M343 524.6h0M385.2 570.1h0M390.3 524h0M394.2 563.9h0M364.6 563.4h0M428.9 556.3h0M410 505.9h0M335.6 555.3h0M347.8 557.4h0M417.7 599.2h0M387.5 585.5h0M367.4 578.8h0M360 585h0M350.2 588h0M401.4 500.3h0M353.5 516.1h0M393.3 619.6h0M336.1 513.8h0M397.2 537.8h0M420.1 565.7h0M364.5 590.3h0M354.2 547.4h0M371.6 585.7h0M342.4 552.9h0M404.1 511.5h0M360.5 509.1h0M406.1 546h0M353.2 595.8h0M344.4 512.2h0M385.4 604.5h0M407.7 555.8h0M424.9 535h0M344.3 582.9h0M389.7 510h0M370.1 607.9h0M361.7 599.7h0M349.4 586.8h0M358.5 564.3h0M420 504.3h0M349.9 556.3h0M399 612.7h0M385.4 606.3h0M369.4 589.5h0M412.4 601.6h0M366.2 507.6h0M366.4 589.2h0M400.8 567.4h0M403.8 612.6h0M348.8 533.8h0M371.8 517.4h0M357 600.8h0M417.1 584.4h0M408.1 597.4h0M392.9 531.5h0M418.3 558.8h0M366 614.7h0M408.3 557.9h0M338.9 514.6h0M391.6 573.4h0M348.1 569.8h0M422.2 554.3h0M378.5 551.1h0M387.2 549h0M335.9 520.8h0M390.5 565.7h0M382.2 593.9h0M378.1 540.3h0M365.4 543.4h0M336.6 559.5h0M421.3 507h0M357.2 593.1h0M377.4 564.5h0M412.9 572.8h0M339.3 538.7h0M355.9 514h0M354.9 593.3h0M347.8 592.4h0M392 597.2h0M339.3 554h0M375.2 624.1h0M336.3 582.7h0M362 515h0M336 545.9h0M404.7 576.9h0M382.5 599.9h0M347.8 535.4h0M378.4 564.1h0M362.8 611.5h0M362.9 531.6h0M363.1 504.7h0M351.4 562h0M386 565.6h0M339.5 559.4h0M376.7 578.6h0M401.8 511.9h0M398.1 596.9h0M399.9 540.1h0M393.1 581.5h0M379 598.2h0M365.3 555.9h0M351.9 517.8h0M380.5 583.2h0M391 595.3h0M339 554.9h0M363.7 518.9h0M400.7 535.8h0M419.6 523.8h0M366.1 556.4h0M359.4 606.1h0M357.5 602.9h0M398.9 599.3h0M339.2 576.3h0M353.9 540.1h0M355.9 558h0M351.5 568.1h0M417.4 592.3h0M385 574h0M415.1 587.3h0M400.2 577.5h0M380.9 559.2h0M369.3 569.1h0M390.9 614.2h0M404.6 603h0M376.8 593h0M371.7 584.2h0M362.1 517.3h0M414.9 507h0M394.4 511.7h0M344.9 521.4h0M382.2 600.6h0M376.6 624.3h0M369.1 578.1h0M424.8 567.1h0M354.8 502.3h0M379.9 574.2h0M370.6 514.1h0M415.2 567.2h0M392.1 513.6h0M381.9 595.9h0M385.4 565.7h0M363.2 602h0M368.8 533.9h0M357.1 596.4h0M346.4 580.3h0M370.2 541.1h0M411.9 591.6h0M373.5 616h0M419.9 582.8h0M401.2 602.7h0M377.8 542.2h0M351 562h0M379.3 608.4h0M348.4 567.1h0M378.3 546.3h0M416.5 537.8h0M366.8 567.6h0M399 519.9h0M399.8 565.4h0M347.4 515.9h0M361.5 578.5h0M343 563.9h0M410.6 578.9h0M415.1 579.7h0M361.7 616.7h0M405.3 569.8h0M397.2 601.1h0M342.2 590.2h0M417.6 518.2h0M388.4 621.7h0M375.8 555.4h0M359.4 576.2h0M369.6 621.9h0M341.2 527.7h0M345.8 590.2h0M422.2 510.2h0M407.9 599.1h0M416 522.5h0M365.6 616h0M347.6 578h0M375.7 585.4h0M397.2 589.6h0M396.4 522.1h0M413.4 519h0M362.6 596h0M346.4 598.8h0M346.1 527.3h0M410.1 529.4h0M427.6 581.4h0M339 524h0M362 528.8h0M391.8 540.8h0M388.3 561.3h0M391.7 615.6h0M340.8 586.1h0M387 599.7h0M351.8 572.9h0M373.8 597h0M423.1 505.8h0M339.2 568.4h0M357.4 587.9h0M396.6 622.7h0M419.2 524.8h0M360.4 539.8h0M388.1 570.4h0M364.3 594.4h0M343 545.8h0M353.6 576.1h0M423.2 586.2h0M364.9 507.2h0M390.4 556.2h0M355.9 546.6h0M370.9 559.8h0M372.6 622.3h0M418.4 539.8h0M361.5 615h0M363.9 589.3h0M352.2 597.5h0M362.8 517.3h0M377.3 522.5h0M341.3 563.3h0M362.4 607h0M392.8 550.9h0M352.6 560.4h0M388.6 628.8h0M415.4 502.4h0M366 528.6h0M358.5 505.1h0M341.2 571.3h0M338.4 500.8h0M394.9 556.4h0M394.4 576.8h0M419.2 536.9h0M375.8 594.9h0M348.5 590.7h0M368.4 622.4h0M386.2 624.4h0M387.4 546h0M342.3 501.4h0M350.3 597.8h0M405 587.8h0M364.7 539.7h0M416.7 513.8h0M362.2 561.5h0M373.9 541.9h0M356.4 519.9h0M402.7 609.7h0M364.7 587.9h0M423.4 571.6h0M393.5 507.5h0M372.5 505.4h0M344.5 539.7h0M371.1 520.6h0M368.3 553.9h0M401.3 582.4h0M423.3 585.9h0M341.1 519.4h0M407.5 583.5h0M415.8 559.2h0M402.8 513.7h0M390 505.2h0M372.7 582.1h0M395.8 578.5h0M402.2 561.5h0M405.5 521.7h0M409.2 517.4h0M395.2 588.3h0M418 580.3h0M405.7 600h0M394.8 511.5h0M341.4 607.3h0M425.3 602.1h0" stroke="#9b9b9b" stroke-width="6.6" stroke-linecap="round" fill="none"/>
<path d="M324.7 571.8h0M329.5 538.6h0M325.9 501.8h0M325.9 574.7h0M332.8 562.9h0M328.5 558.2h0M317.6 507.3h0M330.8 576.5h0M323 566.5h0M313.6 540.2h0M327.6 499.3h0M328.4 542.3h0M314.5 501.4h0M326.2 544.6h0M328 579.6h0M325.9 548.8h0M324 560.9h0M320.1 520.6h0M328.4 552.4h0M326.6 499.5h0M319.9 507.1h0M301.7 503h0M311.5 532.2h0M330.7 526.2h0M333.4 588.6h0M328 553.2h0M316.1 511.5h0M329.1 565.4h0M328.1 507.7h0M314.4 512.2h0M328.3 508.9h0M322.6 526.2h0M328.9 565.4h0M329.7 528.7h0M318.5 549.6h0M325.9 553h0M319.2 557.3h0M326.2 533.2h0M327 561.8h0M326.5 567.5h0M319.2 500.2h0M321 538.6h0M320.1 514.1h0M331.9 580.9h0M324.1 534.9h0M324.1 521.2h0M332.3 517.4h0M332.5 532h0M322.3 564.7h0M323.2 503.8h0M325.7 546.3h0M315.7 509.2h0M317.4 536.9h0M313.5 518.4h0M333.2 590.7h0M326 548.3h0M319.5 542.9h0M326.3 556h0M333.4 554.6h0M317.5 536.3h0M330 561.8h0M318.5 500.1h0M319.5 532.4h0M325 525.1h0M303.8 500.9h0M328.8 556.9h0M310.9 521.7h0M333.3 546.4h0M318.2 522.7h0M334 543.1h0M321.6 499.8h0M333.2 548.6h0M326.1 571.9h0M323.8 500.9h0M321.1 533.6h0M331 539h0M321.4 516.9h0M330.3 510.5h0M334.1 577.2h0M323 528.4h0M309.2 532.8h0M332 557.4h0M327.3 555.1h0M334 550.2h0M325.4 551.3h0M331.5 529.7h0M331.8 550.2h0M326 504.4h0M332.8 576.4h0M315.5 545.7h0M314.4 538.6h0M325.3 543.2h0M330.4 583.5h0M332.9 583.3h0M332.6 538.5h0M319.4 548.4h0M329.3 507.9h0M331 547.2h0M307.4 519.1h0M317.4 500.1h0M333.7 556.1h0M330.8 574.9h0M316.8 533.6h0M330.4 554.3h0M320.3 549.6h0M323.5 499.5h0M326.2 525.9h0M333.1 503.8h0M333.1 519.3h0M332.2 565.3h0M316.5 523.1h0M306.6 514.9h0M311.1 518.8h0M312.8 502.8h0M314.5 535.7h0M330.9 568.4h0M330.4 506.6h0M327.4 508.1h0M331.8 539.7h0M323.6 508.5h0M323.6 550.5h0M327.3 534.5h0M325.7 519.6h0M332.7 504.6h0M326.7 544.3h0M327.3 558.2h0M333.7 513.4h0M322.6 526.6h0M315 513.7h0M325.8 562.2h0M321.3 544.5h0M326.5 561.9h0M326.2 506.1h0M316.8 530h0M326.2 520.9h0M318.4 526.4h0M324.8 513.3h0M333.8 532.4h0M323.7 538.6h0M326 510.1h0M307.8 518.1h0M321.9 500.5h0M323.9 569.6h0M310.3 527.1h0M332.4 555.8h0M331.5 579.5h0M328 524.7h0M323.8 558.9h0M304 501.9h0M325.7 569.5h0M315.1 527.2h0M331.1 520.3h0M333.5 592.3h0M334.1 581.3h0M329 535.2h0M314.2 513.5h0M328.8 553.9h0M333.2 543h0M326.9 503.2h0M317.3 512.8h0M323.6 529.7h0M332.7 560.8h0M330 542.4h0M321.9 553.2h0M329.4 517.3h0M324.2 524.3h0M333.2 545.8h0M301.4 502.9h0M331.5 553.3h0M329.4 523.7h0M323.6 527.3h0M323 544.7h0M316.6 514.5h0M323.3 502.3h0M325.6 556.6h0M327.1 573.9h0M325.5 522.9h0M315.4 545.4h0M332.3 582.9h0M328.3 551.7h0M320.2 546.8h0M313.3 508.2h0M322.4 519h0M316.7 547.4h0M332.8 521.8h0M325.6 524.3h0M316.2 530.5h0M314 526.1h0M328 523.4h0M333.4 499.2h0M309.1 529.9h0M329.3 582.7h0M315.8 535.1h0M317.5 553h0M323.3 531.9h0M318.6 552.7h0M327 577.1h0M332 544.4h0M313.9 532.9h0M326.1 567.3h0M267.4 502.3h0M290.3 506.4h0M297.5 507.5h0M294.2 515.8h0M302.7 521h0M298 529.3h0M298.4 539.7h0M299.9 555.3h0M306.1 550.1h0M310.8 557.4h0M309.9 574h0M314.7 568.8h0" stroke="#6aaee6" stroke-width="6.6" stroke-linecap="round" fill="none"/>
<path d="M453.6 513.3h0M448.9 510.5h0M435.9 542h0M436 514.6h0M436.2 506.9h0M441.3 544.9h0M433 511.9h0M434.1 576.3h0M441.2 503.4h0M449.5 499.9h0M441.1 517.7h0M435.6 549.9h0M433.2 550.2h0M441.9 526.9h0M434.2 500.3h0M443.1 546.1h0M431 520.7h0M448.9 524.3h0M441 548.3h0M449.7 504.4h0M444.3 531.8h0M434.3 521.3h0M450.2 521.1h0M430.9 544.3h0M446.9 506.8h0M433.7 501.5h0M439.9 520h0M441.7 500.1h0M432.6 577.4h0M452.4 520.1h0M441.5 500.7h0M437.8 547.8h0M432.8 580.6h0M439 539.6h0M443.6 532.2h0M434.6 564.6h0M433.1 507h0M433.8 532.6h0M443.5 521.5h0M437.4 555.4h0M433.5 509.5h0M439.2 512.3h0M452.3 529h0M436.7 549.5h0M443.6 521.4h0M441.9 505.6h0M437.7 539.8h0M440.7 521.6h0M436.4 532.7h0M440.6 535.6h0M432.7 529.3h0M436.4 572h0M438.2 504.7h0M430.8 582.5h0M446.5 535.6h0M436 499.5h0M448 541h0M438.5 516h0M446.8 508.9h0M449.8 506.2h0M435 532.9h0M450.3 516.9h0M437.1 550.1h0M433.3 570h0M436.5 535.2h0M447.2 521.8h0M433.9 520.5h0M440.4 544.8h0M444.3 511.4h0M432.5 522.2h0M438.3 551.7h0M453.7 506.7h0M444.4 530h0M446.8 507.9h0M434.4 532.8h0M434.5 559.1h0M449.2 534.7h0M435 576.1h0M436 528.1h0M437.6 506.9h0M447.7 516.2h0M435.4 507.4h0M447.2 500.6h0M434.7 552.4h0M448.8 536.8h0M447.3 535.2h0M448.8 519.6h0M441.1 541.3h0M432 521.4h0M431.1 564.3h0M433.2 575.9h0M439.7 559.3h0M444.7 541.2h0M447.4 541.6h0M451.8 529.3h0M448.8 511h0M453.7 509.7h0M443.3 527.4h0M438.5 500.2h0M453.3 525.5h0M435.6 539h0M446.4 515.6h0M445.5 516.9h0M448.6 530.6h0M432.9 522.7h0M441.3 516.9h0M432.7 545.9h0M437.7 546.5h0M453.5 519.6h0M451.1 513.2h0M431.6 524.2h0M447.8 520.8h0M436.1 556.7h0M442.2 553.1h0M435 549.2h0M451.9 520.3h0M437.4 518.2h0M449.4 504.8h0M446.8 533.9h0M445.2 529.3h0M439.2 525.6h0M430.9 504.1h0M449.7 515.3h0M449.2 528.8h0M431.2 564.5h0M443.8 540.1h0M435.7 553h0M443.8 542.3h0M432.9 560h0M431.7 523.9h0M435.4 520.1h0M440 538.4h0M430.7 558.6h0M439.9 534.8h0M445.8 506.6h0M445.5 529.3h0M432.3 550.1h0M435.1 563.2h0M431.9 555.5h0M433.7 563.4h0M430.9 500.4h0M439.9 560.5h0M446.5 521.5h0M443.1 551.4h0M435.3 510.4h0M440.8 524.4h0M435 527.4h0M437.5 541h0M444 515.6h0M451.1 502.8h0M430.8 577.3h0M433.9 536.1h0M441.3 535.8h0M449.6 503.9h0M439.7 552.2h0M450 522.7h0M446.3 516.5h0M439.6 547.7h0M432 560.6h0M441.1 516.5h0M452.8 505.3h0M450.4 527.7h0M433.4 552.2h0M433.2 537.9h0M432.3 512.4h0M446.3 533.7h0M450.8 512.8h0M439.5 536.5h0M447.8 531h0M447.4 522h0M441.7 540.9h0M439.8 534.5h0M448.4 523.5h0M445 520.3h0M433.8 538.9h0M431.9 513.7h0M430.9 514.5h0M433.7 579.8h0M445.5 519.9h0M438.8 531.4h0M443.5 511.4h0M439.9 513.5h0M436.2 515.2h0M432.2 511.3h0M440.8 514h0M441.2 542.4h0M430.7 555.3h0M433.3 570.4h0M450.3 533.5h0M438.5 508.5h0M436.5 516.3h0M438.3 543.5h0M439.7 509.3h0M438.1 503.5h0M435.6 524h0M430.8 538.6h0M448.7 531.1h0M447.6 525.9h0M447.3 543.6h0M433.3 559.4h0M435.9 502h0M448.6 506.2h0M450.6 506.8h0M439.7 544.2h0M442.5 516.1h0M434.4 506h0M432.2 533.7h0M444.1 522.2h0M442.1 513.8h0M434.1 516.7h0M440.8 511.4h0M433.4 541.3h0M432.3 575.8h0M438.5 540h0M437.4 501.2h0M430.7 554.4h0M450.3 527.7h0M452.3 515.2h0M439.7 512.7h0M436.8 501.5h0M440.1 544.4h0M444.9 535.4h0M434.1 575.8h0M430.8 557.2h0M438.5 506.5h0M439.4 517.7h0M441.5 545.9h0M439.4 526.3h0M430.9 515.7h0M445.9 523.2h0M432.6 524.6h0M442.4 524.6h0M442.6 508.4h0M449.4 538.3h0M438.4 510.9h0M434.5 519.8h0M443.2 499.7h0M431.3 564h0M435.1 525.9h0M441.9 538.2h0M451.7 529.4h0M443.4 518.7h0M436.5 569.4h0M452.4 528.2h0M442.8 505.6h0M447.9 541.7h0M448.5 529.4h0M431.2 544.8h0M446 510.3h0M449.1 530.7h0M443.7 536.4h0M434.3 505h0M446.3 527h0M430.7 542h0M444.8 510.1h0M449.7 537.2h0M433.9 551.6h0M436.5 562.3h0M431.4 519.5h0M431.8 516.5h0M445.5 539.2h0M439.3 507.1h0M432.8 566.9h0M433.8 565.1h0M434.8 551h0M435.3 562.9h0M439.3 524.5h0M432.5 567.2h0M430.6 510.3h0M447.1 503.6h0M451.4 504.1h0M444.2 501.2h0M435.7 561.6h0M445.7 533h0M439 533.1h0M432.2 544.5h0M450 524.4h0M448.3 505.8h0M452.1 499.9h0M431.6 515.7h0M449.1 507.9h0M431.7 572.3h0M441.4 510.6h0M447.5 502.4h0M433.9 514.6h0M450 532.3h0M437 525.5h0M438.1 558.6h0M434.5 529.1h0M442.5 554.5h0M437.9 534.6h0M447.9 522.5h0M443.3 500.1h0M453.7 504.7h0M437.2 522.2h0M433.1 531.2h0M440.7 515.9h0M448.8 520.9h0M439.1 559h0M446.2 527.3h0M463.5 510.6h0M477.3 515.8h0M472.1 535.5h0M461.1 543.9h0M465.9 550.1h0M479.2 547h0M456.3 524.1h0M458.7 534.5h0" stroke="#f98b98" stroke-width="6.6" stroke-linecap="round" fill="none"/>
<path d="M416.9 436.5h0M418.6 445h0M357.7 392.4h0M362.7 477.9h0M337.2 458.5h0M361 438.3h0M411.8 446.6h0M340.1 493.2h0M360.8 462.8h0M351 439.2h0M417.8 430.1h0M342.9 448h0M358.9 487.9h0M350.7 464.9h0M348.1 466.5h0M359.9 425.3h0M350.6 426.4h0M412 481.4h0M357.2 442.3h0M421.8 360.1h0M425.9 461h0M394.4 485.8h0M427.3 455.2h0M368 492.6h0M348.2 406.3h0M346.8 474.7h0M358 464.2h0M421.3 468.1h0M348 447.6h0M372.4 467.8h0M366 458.2h0M402 439.7h0M355.8 428.8h0M427.7 494.3h0M407.9 442.2h0M426.9 464.8h0M343.5 485.1h0M342.3 468.6h0M374.6 460.6h0M401.1 452.8h0M367.3 435.7h0M336.7 462.3h0M349.9 459.3h0M357.7 376.2h0M398.1 443.8h0M356.3 438.6h0M424.3 440.7h0M336.3 440h0M425.8 475.2h0M408.5 478.1h0M406.6 487.1h0M349.9 469.4h0M421.9 449.5h0M407 424.8h0M362.6 432.5h0M422.3 456.9h0M340.4 496.5h0M373.8 453.3h0M427.4 466.5h0M405.1 474.8h0M397.9 442.6h0M400.4 431h0M412.4 480.1h0M418.3 364.7h0M406.7 494.5h0M359 463.1h0M357.1 426.9h0M347.2 387.7h0M417.8 398.6h0M417.2 484.6h0M422.8 469.5h0M345.8 495.3h0M351.5 489.6h0M351.3 441.6h0M345.3 427h0M373.7 481.9h0M359 489.8h0M350.8 461.7h0M349.8 493.5h0M362.9 469.8h0M405.2 486.1h0M413.3 487.5h0M367.6 490.3h0M395.8 483.4h0M338.8 457.5h0M342.8 496.2h0M375.3 481.7h0M351 483.7h0M372.9 454.3h0M402 456.7h0M401.3 409.8h0M354.5 427.7h0M420.3 394.4h0M339.1 460.4h0M401.7 435.3h0M395.4 485.1h0M347.2 493h0M350.7 400.8h0M428.3 494.3h0M415.2 448.1h0M338.2 487h0M354 460.1h0M403.4 451.1h0M428.5 438h0M365.1 485.5h0M341.7 482.6h0M391.8 488.9h0M415 458h0M394.6 469h0M344.4 459h0M411.4 390h0M365.7 486.7h0M360.3 467.8h0M369.1 449.9h0M367.1 437h0M373 475.1h0M415.3 439.8h0M341.2 496.9h0M366.4 455.4h0M357.1 442.1h0M335.3 451.5h0M347.6 430.5h0M357.6 474h0M393.3 485.6h0M335.7 425.7h0M344 360.2h0M364.9 462.9h0M420.8 472.8h0M424.7 373.6h0M349.3 482.5h0M407.1 473.1h0M338.9 384.9h0M410.4 395.7h0M401.3 439.3h0M417.9 473.8h0M426.1 469.9h0M340.6 386.6h0M424 471.4h0M364.7 444.6h0M342.8 475.8h0M404.5 484.9h0M365.7 440.9h0M344 463.3h0M348.8 492.8h0M339.3 466.4h0M361.2 449.5h0M410 469.5h0M361.6 469.9h0M404.5 445h0M408.9 449.2h0M362.1 416.1h0M365.3 471h0M354.5 450.3h0M345.9 459.2h0M405.8 453.2h0M413.9 495.4h0M368 461.9h0M427 477.8h0M396.1 471.5h0M406.2 394h0M362.7 480.4h0M354.2 435h0M358.3 457.4h0M370.1 435.3h0M374.3 478.5h0M422.5 494.4h0M337.1 426.6h0M368.3 494.1h0M406.2 475.8h0M377.1 472.6h0M369.5 430.5h0M407.7 485.3h0M400.9 418.8h0M400.2 470.6h0M425.9 394.8h0M348.9 450.6h0M397.7 482.6h0M337.3 433.4h0M416.9 429.5h0M422.5 408.3h0M361.7 496.1h0M350.4 377.8h0M360.6 464.5h0M342.6 446h0M421.9 453.4h0M396.6 482.8h0M402.6 433.7h0M342.3 438.8h0M352.4 436.6h0M341.1 458.7h0M349.9 441.8h0M404.7 494.8h0M347.9 477.6h0M429.6 479.9h0M346.6 479.1h0M402.3 456.8h0M408.4 433h0M392.9 490.2h0M364.3 418.4h0M352.4 482h0M350.3 424.5h0M341.1 391.2h0M401.4 477.3h0M405 438.1h0M424.2 492h0M403.2 458.9h0M398.6 433h0M419.8 485.8h0M345.4 466.3h0M335.5 461h0M359.1 432.9h0M367.1 495.3h0M397.2 479.2h0M422.7 475.6h0M339.5 485.5h0M409.7 469h0M392.7 473.9h0M402.2 462.6h0M360.7 459.9h0M365.3 461.4h0M421.7 470h0M351.9 423.7h0M353.4 390.9h0M423 414h0M346.8 388.8h0M410.5 467h0M356.2 471h0M408.5 439.3h0M397.8 448.2h0M340.8 404h0M410.8 480.7h0M358.1 494.3h0M395.7 479.7h0M379.2 494.8h0M422.1 480.3h0M364.5 462h0M409.2 474.3h0M418.6 396.8h0M402.3 487.8h0M397.8 462.9h0M396.4 460.5h0M411.3 483.4h0M405.8 475.5h0M412.6 404h0M392.7 495.5h0M412.2 463.3h0M403.4 471.2h0M421.9 416h0M350.1 468.1h0M421.5 470.5h0M351.6 452.1h0M403 450.8h0M361 434.2h0M343.6 477.3h0M338.7 451.4h0M342.3 462.2h0M414.4 477.9h0M358 471.4h0M414.6 381.1h0M414.6 490h0M395.6 492.8h0M424.9 463.5h0M419.8 470.5h0M396.7 474.5h0M413.2 462.6h0M408 464.7h0M406.6 480.2h0M371.9 456.2h0M357.5 415.2h0M414.6 437.9h0M421.9 457.6h0M379.7 494.6h0M391.8 490.2h0M366.4 491.9h0M350.8 446.6h0M346.6 445.3h0M336.5 456.1h0M397.1 425.6h0M403.2 456.2h0M338.9 458.3h0M425.5 436.4h0M347.5 490.7h0M425.5 381.5h0M377.7 496.6h0M421.7 478.4h0M405.8 495.2h0M355.6 485.4h0M429 484.2h0M410.5 451.3h0M394.4 479.6h0M351.7 379.8h0M342.6 423.8h0M361.3 433h0M404.5 394.8h0M423.7 404.1h0M352.1 436.7h0M423.6 483.8h0M420.1 409.6h0M415.9 464.2h0M343 346.3h0M362 481.5h0M368.4 426.7h0M399.5 483.8h0M350 332.2h0M406.9 471.8h0M424.4 486.5h0M371.4 462.4h0M414.8 495.6h0M427.5 430h0M426.1 429.8h0M375.3 492.1h0M413.7 482h0M409.3 376.8h0M396.7 472.6h0M423.5 460h0M400.7 449.9h0M341 489.1h0M415.8 372.4h0M404 495.4h0M359.2 423.7h0M412.5 477.8h0M395.1 479h0M353.3 470.3h0M345.8 373.4h0M423.7 466.3h0M406.9 448.1h0M371.7 457.2h0M396.9 461h0M407.9 427.1h0M354.5 495.2h0M366 463.1h0M346.3 494.6h0M345.5 470.6h0M363.5 489.5h0M358.5 469.8h0M362.2 438.4h0M395.3 435.1h0M344.1 491.6h0M364.3 409.3h0M339 473.2h0M338.6 447.9h0M393.4 489.1h0M419.6 481h0M427.4 486h0M351 460.2h0M366 417h0M355.7 461.2h0M363.4 451.1h0M350.7 489.6h0M424.6 439.2h0M398.7 488.3h0M342.7 455.1h0M338.6 478.6h0M354.6 496.1h0M395.5 441.4h0M342.5 445.3h0M415.3 444.7h0M343.1 446.4h0M351.8 390.7h0M354.9 412.7h0M408.5 432.8h0M404.7 385.5h0M337.8 480.9h0M354 384.4h0M343.5 409.5h0M410.5 442.5h0M361.7 459.7h0M349.4 492.1h0M424.6 489.1h0M345.4 429.1h0M425.8 461h0M403.3 491.9h0M424.9 400.4h0M372.5 469.2h0M344.5 480.5h0M412.9 470.5h0M359.8 415.2h0M410.5 470.4h0M406.5 478.2h0M366.9 441.5h0M352.6 480.7h0M360.3 471.9h0M352.5 403.4h0M354.8 485.9h0M345 405.1h0M364.7 470.9h0M358 456.3h0M357.6 456.4h0M338.1 472.1h0M356.8 442.5h0M402.1 459.8h0M406.8 453h0M362.4 482.9h0M369.2 468.8h0M340.8 488.2h0M347.3 445.8h0M426.8 484h0M422.4 473.1h0M400.6 437.5h0M411.9 488.6h0M408.2 486.7h0M355.2 494.9h0M342.9 451.5h0M363.9 449.8h0M339.5 402.5h0M426.6 492.8h0M345.3 487.9h0M399.6 458.1h0M357.2 489h0M354.7 462.7h0M424.7 419.5h0M402.3 488.3h0M335.2 488.9h0M378.2 496.2h0M365.3 445.9h0M397.7 459h0M351.4 473.6h0M351.1 476h0M427.8 487.9h0M351.5 422h0M427.7 418.9h0M420.9 373.7h0M426.9 421.9h0M406.3 464.9h0M367.7 433.1h0M392.4 482.2h0M405.2 433.7h0M404.2 477.2h0M423.1 453.3h0M370.2 486.3h0M415.6 448.3h0M360.1 445.2h0M364.9 457.8h0M418 470.1h0M408 472.5h0M360.3 383.8h0M428.8 477.9h0M335.7 442.8h0M404.3 460.6h0M392.5 495.8h0M346.3 431.2h0M380.3 494.2h0M405.6 428.5h0M410.8 461h0M356.8 476.9h0M348.4 450.8h0M360.8 389h0M396.2 477.9h0M425 406.8h0M422.2 439.1h0M360.2 442.6h0M350.1 449.6h0M403.1 423.6h0M409.3 360h0M360.5 447h0M375.7 466.4h0M401.5 450.6h0M342.7 403.4h0M338.3 416h0M338.4 417.7h0M378.2 483.7h0M402.2 474.6h0M351.7 379.3h0M351.2 450h0M369.2 466h0M426.3 483.1h0M409.1 490.1h0M359.5 433.5h0M372.3 495.4h0M411.7 431.8h0M343.6 367.5h0M367.5 482h0M407.1 410.3h0M369 494.1h0M370.5 478.3h0M396.2 445.3h0M401.4 467h0M402.8 433h0M343.5 416.7h0M353.8 475.9h0M411 430.9h0M424.2 489.7h0M355.2 465h0M380 493.5h0M368.4 476.5h0M361.3 475.4h0M342.1 462.6h0M379.2 486.2h0M338.3 384.2h0M416.9 491.9h0M365.6 496.2h0M419.2 379.1h0M401.8 420.1h0M360 424.8h0M398.5 458.2h0M401.5 460.8h0M366.6 470.5h0M359.9 391h0M367.2 426.2h0M345.4 449.2h0M421.8 486.6h0M398.9 463.3h0M428.3 457.7h0M380.2 495.3h0M366.8 420.9h0M362.3 446.7h0M353 400.7h0M358.4 468.8h0M361.4 480.6h0M365.3 439.8h0M407.6 462.3h0M353.1 468.7h0M352 335.7h0M338.2 452h0M335.4 445.7h0M366.9 434.3h0M369.2 425.2h0M353.3 348.7h0M349.6 473.8h0M367.3 492.3h0M350.9 465.1h0M404 438.4h0M425.2 476.9h0M359 438.6h0M356.3 460.8h0M362.7 465.3h0M359.8 486.9h0M424.8 409.5h0M340.4 413.7h0M420.9 481.2h0M407.3 488.3h0M346.7 476.1h0M358.9 416.8h0M425.5 477.6h0M398.4 432.3h0M372.4 483.6h0M406.5 434h0M412.8 453.6h0M405.9 469.4h0M412 461.8h0M407.2 487.9h0M419.4 494h0M421.2 473.2h0M428.7 485.2h0M426.8 428.5h0M409.6 437.4h0M401.3 472.8h0M427.3 397.4h0M335.2 446h0M396.6 481.3h0M351.4 489.2h0M354.2 417.3h0M410.3 478.6h0M397.4 470.9h0M399.1 494.6h0M401.3 481.7h0M370 491.1h0M341.7 492.6h0M343.4 492.8h0M418.9 433.3h0M338 109.1h0M354.7 164.3h0M419.6 195.5h0M406.2 273.5h0M356.2 299.5h0M426.3 295.8h0M346.6 336.9h0M372.9 326.5h0" stroke="#d8a979" stroke-width="6.6" stroke-linecap="round" fill="none"/>
<path d="M291 285.1h0M325.7 281.8h0M313.5 300.4h0M316.2 300.4h0M246.6 333.3h0M318.6 336.2h0M330.8 353.4h0M336.1 353.4h0M331.4 359.4h0M310.2 370h0M317.1 372.3h0M329.5 383.3h0M325.5 385.9h0M330.1 388.6h0M321.5 399.8h0M325.5 403.8h0M295 402.5h0M289.7 405.2h0M315.5 405.2h0M312.2 410.7h0M322.8 412.4h0M295.6 414.4h0M295 419.1h0M302.9 416.4h0M332.1 415.8h0M334.8 415.8h0M329.5 425.7h0M334.8 426.4h0M336.1 428.4h0M257.2 423.1h0M319.1 429.3h0M285.7 436.3h0M304.9 434.3h0M312.2 439.9h0M325.5 439.6h0M300.3 441.6h0M303.6 441.6h0M315.5 448.9h0M327.5 446.3h0M330.8 448.9h0M332.1 452.9h0M309.6 452.9h0M321.5 454.2h0M325.5 454.9h0M329.5 452.9h0M300.3 454.9h0M305.6 461.5h0M301.6 465.5h0M332.1 467.5h0M334.8 470.1h0M333.4 472.8h0M322.2 473.4h0M308.2 476.8h0M312.2 478.1h0M316.2 478.1h0M314.9 475.4h0M291 482.7h0M328.1 482.7h0M320.2 485.4h0M324.2 486h0M326.1 487.4h0M305.6 488.7h0M309.6 490.7h0M313.5 492.7h0M317.5 492.7h0M325.5 490h0M333.4 491.3h0M310.9 494.7h0M316.2 495.3h0M322.8 495.3h0M246.5 333.8h0M256.9 423.2h0M290.8 285.9h0M315.1 300.5h0M317.1 300.5h0M325.2 285.9h0" stroke="#2170b5" stroke-width="6.6" stroke-linecap="round" fill="none"/>
<path d="M438.5 447.3h0M447.1 454.8h0M449.4 467h0M431.3 404.2h0M438.2 412.9h0M456.1 404.8h0M453.1 465.8h0M437.6 399.4h0M456.9 434.8h0M444.7 413.8h0M446.4 401.5h0M436.7 417.3h0M439.9 401.6h0M445.7 495.8h0M443 411.2h0M454.8 450.6h0M456.2 453.2h0M489.2 422.5h0M445 456.6h0M447.2 445.2h0M439.5 419h0M446.4 395.3h0M452.7 454.2h0M438.8 493.8h0M453 437.1h0M442.4 283.3h0M443.2 357.6h0M448.3 417h0M439.2 461.9h0M455 419.1h0M452.6 439.5h0M453.4 463.9h0M456.1 416.6h0M446.2 452h0M434.7 433h0M448.8 307.3h0M442.1 396.9h0M441.7 487.3h0M431.4 467.5h0M462.9 396.8h0M452.8 434.7h0M459.7 489.5h0M447.5 389.5h0M432.4 379.6h0M453.1 383h0M435.5 461h0M441.8 481.4h0M442.8 438.4h0M452.8 439.9h0M433.6 328.5h0M437.8 439.1h0M438.2 461.5h0M435.9 364.1h0M485.8 420.1h0M433.2 493.1h0M444.6 438.2h0M435.5 494.2h0M454.6 483.9h0M456 434.4h0M435.9 415.1h0M436.8 361.4h0M459.7 436.1h0M439.3 398.6h0M438 408.3h0M434.1 344.1h0M435 494.7h0M441.4 409.8h0M454.3 319.7h0M436.9 439.9h0M438.5 467.6h0M464.8 383.6h0M453 409.6h0M450.2 451.1h0M438.4 379.6h0M444.1 365.3h0M453 431.6h0M475.7 415.2h0M445.5 481.4h0M442.7 414h0M440.6 416.9h0M443.9 466.7h0M437.2 436.8h0M431.1 469.1h0M453.9 466.6h0M430.6 355.3h0M453.6 394.6h0M431.8 431.5h0M443.7 487.9h0M451 389h0M456.3 389h0M446.3 488.2h0M454.7 367.2h0M453.4 439.9h0M434.3 384.3h0M432.4 366.5h0M453.8 484.3h0M445 437.6h0M442 477.7h0M433.7 341.3h0M450.8 352.1h0M444.3 494.4h0M436.3 326.9h0M448.1 413.7h0M452.8 442.2h0M442 491.5h0M431.1 421.1h0M445.7 387.8h0M459.8 475.2h0M446.2 402.6h0M431.4 307.6h0M436.4 308.1h0M442.1 304.3h0M463.5 461.2h0M446.9 465.7h0M449.5 356.3h0M432.5 348.8h0M447.4 448.2h0M451.7 418h0M435.4 462.8h0M451 402.7h0M450.3 448.7h0M446.1 472.6h0M459.2 459.5h0M468.5 466.4h0M430.8 426.4h0M459.7 485.3h0M444.7 473.1h0M451.5 439.8h0M487.3 391.5h0M453.4 381h0M443.8 365.5h0M450 487.2h0M433.3 403.8h0M434.1 453.6h0M439.7 462.2h0M445.5 396.9h0M443.8 404h0M445.1 470.1h0M436.2 442.3h0M441 441h0M456.9 379.4h0M438 479.7h0M446.3 490.4h0M438.2 486.9h0M455.8 412.2h0M443.2 460.4h0M454.8 426.6h0M437.7 439.2h0M449.5 482.5h0M433.1 375.4h0M449.8 319.2h0M430.9 390.4h0M436.7 400.1h0M453 470.3h0M455.5 299.4h0M458.2 479.7h0M440.6 379.1h0M443.8 417.5h0M456 322.8h0M452.4 361.3h0M435.8 419.2h0M436 477h0M447 457.5h0M441.3 418.8h0M442.6 479.6h0M444 401h0M431.9 410.5h0M438.7 481.5h0M436.9 433.7h0M450.7 374.2h0M436.7 423.4h0M454.4 461.4h0M438.1 481.5h0M445.1 365.7h0M437.2 414.6h0M437.7 287.4h0M443.8 468.9h0M453.2 409.7h0M441 399h0M430.9 390.2h0M439 471h0M435.4 445.2h0M432.7 410.5h0M438.1 478.3h0M437.7 468.7h0M435.6 410.9h0M456 292h0M452.7 330.9h0M430.4 472.4h0M448.1 422.6h0M432.8 400h0M438.1 468.6h0M431.5 478.9h0M438.2 465.9h0M447.6 462h0M435.1 348.7h0M437.8 467.8h0M451.8 475.8h0M433.1 462.3h0M443.8 434.8h0M444 432.3h0M456.1 456.9h0M432.8 453.3h0M438 466.2h0M434.2 456h0M432.9 463.3h0M431.2 466.2h0M441.7 386h0M441.2 428.1h0M433.6 414.2h0M432.8 368.7h0M435.6 474.9h0M441.1 362.2h0M447.3 431.7h0M444 398h0M455.1 457h0M445.9 477.6h0M462.9 441.3h0M443.5 442.5h0M461.7 468.4h0M439.7 321.4h0M443.9 452.2h0M450.6 392.6h0M454.2 397.3h0M463.7 482.4h0M434.6 420.5h0M446.4 301.9h0M454.2 401.6h0M450.9 494.4h0M451.9 458h0M439 479.1h0M464.1 356h0M454.3 314.3h0M443.6 443.4h0M439.7 438.4h0M430.3 456.9h0M493.1 473.8h0M447.8 328h0M430.5 397.2h0M446.1 426.6h0M450.4 443.6h0M445.5 468h0M442.7 356.4h0M447.3 304.7h0M462.9 392.2h0M435.7 402.1h0M454 440.8h0M450.6 469.5h0M453.8 496.2h0M441 447.6h0M442.4 446h0M445.8 404.4h0M432.7 381.5h0M476.5 445.2h0M458.1 453.2h0M442.5 424.6h0M436 484.3h0M450.5 410.7h0M446.6 371.7h0M446.5 361.5h0M435.7 471.9h0M439 455.5h0M442.3 390.5h0M456.8 485.8h0M434.6 470.2h0M444.6 378.2h0M434.7 351.7h0M436.5 407h0M447.4 345.5h0M436 388.8h0M454.3 402h0M456.4 485.2h0M443.5 426.9h0M438.3 350.9h0M437.3 416.3h0M446.6 435.3h0M432.3 458.4h0M433.7 491.3h0M454.6 442.9h0M432.5 461.4h0M452.7 484h0M446.1 369.1h0M432.8 335.2h0M440.7 443.5h0M437.4 342.3h0M454.3 455.8h0M457.5 299.7h0M443.1 382.6h0M450.4 435.8h0M447.1 444.2h0M443.4 423h0M437 460.7h0M434.6 407h0M434.6 422.1h0M445.7 476.6h0M432.4 468.3h0M431.3 444.7h0M436.3 334.4h0M437.6 394.1h0M453.8 358.5h0M451.3 464h0M432.6 381.4h0M440.5 392h0M439.4 441.6h0M442.3 492.1h0M436.4 428h0M439.6 407.1h0M436.6 420.1h0M445.2 395.3h0M445.3 408h0M445.1 449.7h0M447 376.2h0M436.8 410.7h0M446.7 344.8h0M433.4 308.5h0M440.5 396h0M437 345.8h0M455.4 479.6h0M458.4 400.9h0M440.6 463.4h0M438.8 287.8h0M449.7 357.6h0M443.5 457.4h0M440.7 402.8h0M443.6 421.2h0M441.7 326.2h0M445.5 492.6h0M435.5 407.9h0M437.8 474.4h0M432 441.9h0M451.2 343.1h0M431.7 320.2h0M443 432h0M437.8 408.4h0M435.5 490.8h0M449.8 447.1h0M439 377.9h0M451 392.4h0M453.2 422.2h0M448.5 416.7h0M439.2 431.3h0M441.3 489.2h0M432.7 492.4h0M455.2 349.1h0M433.8 341.9h0M453.4 421.2h0M442.4 452.1h0M449.7 417.8h0M435.4 414.4h0M430.6 378.7h0M450.2 410.1h0M446.8 412.3h0M458.2 343.1h0M445.9 374.1h0M431.8 399.8h0M440.3 408.8h0M446.2 398.9h0M442.3 364.7h0M438 428.4h0M462.3 415.9h0M447.5 472.3h0M449.8 438.9h0M436.2 491.4h0M449.1 311.4h0M444 405.8h0M435.2 421.7h0M447.5 383.3h0M434.4 488.1h0M435.4 442.1h0M446.9 333.1h0M438.7 358.2h0M461.2 391.7h0M432.2 479.1h0M439.2 417.4h0M436.9 348.9h0M434 436.4h0M449.3 410.7h0M437.7 314.6h0M450.1 479.6h0M433.6 410.2h0M444.5 382.2h0M438.5 405.6h0M467.2 387.3h0M447 369.6h0M432.2 401.5h0M436.8 420h0M442.7 425.8h0M437.3 453.4h0M452.2 425.4h0M441.8 483.9h0M457.2 471h0M438.4 441.1h0M433.7 472.6h0M457.3 483.4h0M436.3 485.2h0M438.6 388.1h0M437.9 444.5h0M435.4 347.3h0M448.1 349h0M449.6 417.4h0M479 461.4h0M439.4 485.4h0M442.2 463.3h0M455.3 311.2h0M446.6 471h0M455.6 397h0M442.8 357.4h0M432.9 484.7h0M439.9 437h0M444.4 431.1h0M446.5 428.4h0M437 410.7h0M450.7 452.8h0M444.8 484.5h0M455.8 473.6h0M441.5 396h0M433 492h0M452.2 435.4h0M441.5 432.2h0M431.7 393.5h0M454.9 464.2h0M433.4 437.6h0M442.3 421h0M447.5 486.3h0M448.3 488.1h0M438.3 441.2h0M446.2 380.1h0M453.8 398.2h0M441 452.8h0M432.5 403.3h0M430.3 443.5h0M440 463h0M439 489.6h0M440.6 435.7h0M446.7 421.7h0M445.3 360.5h0M430.1 420h0M444.6 398.4h0M443.7 418.8h0M433.1 494.7h0M432.7 492.8h0M433.4 371.9h0M444.3 480h0M454.9 489.1h0M438.8 433.7h0M438.9 371h0M455.8 374.1h0M431 389.7h0M442 482.9h0M431 417.7h0M439.2 486.1h0M453.1 407.7h0M452.3 396.5h0M453.7 401.4h0M446.9 392.9h0M455.7 458.9h0M452.4 488.7h0M442.4 379.1h0M443.7 433.4h0M454.1 305.8h0M442.7 476.2h0M453.1 338.5h0M446.4 418.5h0M434.7 362.1h0M444.5 332.5h0M432.7 480.7h0M431.1 345.9h0M434.8 490.2h0M444.6 320.6h0M436 433.4h0M459.4 378.6h0M435.3 401.8h0M451.9 383.4h0M496.2 401.4h0M443.5 408.4h0M465.1 485.5h0M445.2 415h0M457.2 490.6h0M455.6 417.7h0M448.1 439.8h0M461.1 400.7h0M438.6 452h0M444.2 496.3h0M450.4 379.5h0M454.9 495.8h0M439.1 470.9h0M453 382.4h0M430.6 471h0M430.9 444.9h0M439 489.5h0M435.4 429.4h0M436.4 394.7h0M439.6 432.1h0M440.2 491.8h0M448.1 425.6h0M449.2 406.3h0M440.5 456.5h0M433.2 390.2h0M457.5 401.3h0M441.1 396.1h0M436.6 411.7h0M451.5 450.1h0M439.6 407.1h0M430.9 483.3h0M446.2 429.1h0M452.9 475h0M452.5 431.9h0M436.7 374.8h0M454.7 379.6h0M441.6 457.7h0M441.6 470.3h0M434.9 403.9h0M461.1 428.4h0M440.8 316.2h0M431.8 419.2h0M442.8 489.6h0M440.6 416.9h0M447.8 465.3h0M450.3 484.9h0M442.2 384h0M457.8 152.8h0M466.4 150.7h0M463.5 184h0M481.1 194.4h0M461.6 203.8h0M450.6 216.3h0M463 250.6h0M465.4 261h0M471.1 262h0M478.8 261h0M468.3 273.5h0M465.4 281.8h0M489.7 300.5h0M482.1 311.9h0M473 324.4h0M561.3 406.6h0M498.8 385.8h0M485.4 400.3h0M476.8 373.3h0M477.8 362.9h0M474 414.9h0M479.7 447.1h0M469.2 464.8h0M466.4 479.4h0M461.1 482.5h0M482.6 480.4h0M473 342.1h0M492.1 347.3h0M499.3 373.3h0M475.4 290.1h0M456.3 258.9h0M449.2 274.5h0M442 279.7h0" stroke="#ee3a50" stroke-width="6.6" stroke-linecap="round" fill="none"/>
<path d="M475.7 262.6h0M461.6 308h0M465.6 322.6h0M454.3 323.8h0M452 325.5h0M503.6 343.1h0M465.1 343.1h0M445.2 363h0M500.4 374.4h0M457.1 386.4h0M491.7 397h0M481 423.6h0M429.2 474.6h0" stroke="#ee3a50" stroke-width="6.6" stroke-linecap="round" fill="none"/>
</g>
<line x1="334.7" y1="84.2" x2="334.7" y2="658.2" stroke="#333" stroke-width="1.3" stroke-dasharray="2.5 2"/>
<line x1="430.1" y1="84.2" x2="430.1" y2="658.2" stroke="#333" stroke-width="1.3" stroke-dasharray="2.5 2"/>
<line x1="121.6" y1="498" x2="644.4" y2="498" stroke="#333" stroke-width="1.3" stroke-dasharray="2.5 2"/>
<circle cx="475.7" cy="262.6" r="6.6" fill="none" stroke="#111" stroke-width="1.1"/>
<circle cx="461.6" cy="308" r="6.6" fill="none" stroke="#111" stroke-width="1.1"/>
<circle cx="465.6" cy="322.6" r="6.6" fill="none" stroke="#111" stroke-width="1.1"/>
<circle cx="454.3" cy="323.8" r="6.6" fill="none" stroke="#111" stroke-width="1.1"/>
<circle cx="452" cy="325.5" r="6.6" fill="none" stroke="#111" stroke-width="1.1"/>
<circle cx="503.6" cy="343.1" r="6.6" fill="none" stroke="#111" stroke-width="1.1"/>
<circle cx="465.1" cy="343.1" r="6.6" fill="none" stroke="#111" stroke-width="1.1"/>
<circle cx="445.2" cy="363" r="6.6" fill="none" stroke="#111" stroke-width="1.1"/>
<circle cx="500.4" cy="374.4" r="6.6" fill="none" stroke="#111" stroke-width="1.1"/>
<circle cx="457.1" cy="386.4" r="6.6" fill="none" stroke="#111" stroke-width="1.1"/>
<circle cx="491.7" cy="397" r="6.6" fill="none" stroke="#111" stroke-width="1.1"/>
<circle cx="481" cy="423.6" r="6.6" fill="none" stroke="#111" stroke-width="1.1"/>
<circle cx="429.2" cy="474.6" r="6.6" fill="none" stroke="#111" stroke-width="1.1"/>
<line x1="482.4" y1="244.3" x2="477" y2="259.4" stroke="#111" stroke-width="1.1"/>
<line x1="459.8" y1="286" x2="461.6" y2="303" stroke="#111" stroke-width="1.1"/>
<line x1="491" y1="284" x2="468.5" y2="320" stroke="#111" stroke-width="1.1"/>
<line x1="369.7" y1="282.2" x2="449.5" y2="321.4" stroke="#111" stroke-width="1.1"/>
<line x1="420.9" y1="329" x2="447" y2="325.5" stroke="#111" stroke-width="1.1"/>
<line x1="536.8" y1="331.7" x2="507.6" y2="342.3" stroke="#111" stroke-width="1.1"/>
<line x1="475.2" y1="359" x2="466.4" y2="345.7" stroke="#111" stroke-width="1.1"/>
<line x1="422.6" y1="377.6" x2="442.5" y2="364.3" stroke="#111" stroke-width="1.1"/>
<line x1="536.8" y1="379" x2="505" y2="375" stroke="#111" stroke-width="1.1"/>
<line x1="439.9" y1="417.5" x2="455.8" y2="389.6" stroke="#111" stroke-width="1.1"/>
<line x1="495.6" y1="424" x2="492.2" y2="400" stroke="#111" stroke-width="1.1"/>
<line x1="485.8" y1="466.6" x2="481" y2="428.1" stroke="#111" stroke-width="1.1"/>
<line x1="417.3" y1="497.3" x2="428" y2="478.1" stroke="#111" stroke-width="1.1"/>
<text x="452" y="241.3" font-size="20.7">GZMB</text>
<text x="399.8" y="290" font-size="20.7">CD3D</text>
<text x="492.5" y="289.4" font-size="20.7">FASLG</text>
<text x="309.9" y="289.3" font-size="20.7">CCR5</text>
<text x="349.5" y="337.2" font-size="20.7">PDCD1</text>
<text x="539.3" y="338.3" font-size="20.7">CXCL9</text>
<text x="452.9" y="375" font-size="20.7">GNLY</text>
<text x="336.2" y="384.3" font-size="20.7">HAVCR2</text>
<text x="538.5" y="387" font-size="20.7">CXCL10</text>
<text x="407.5" y="433.4" font-size="20.7">CD8B</text>
<text x="498.6" y="434" font-size="20.7">BST2</text>
<text x="446.8" y="483.4" font-size="20.7">CXCL11</text>
<text x="361.3" y="506.8" font-size="20.7">TIGIT</text>
<rect x="121.6" y="84.2" width="522.8" height="574" fill="none" stroke="#666" stroke-width="1.1"/>
<text x="109" y="642.2" font-size="24.8" text-anchor="end">0</text>
<text x="109" y="538.2" font-size="24.8" text-anchor="end">1</text>
<text x="109" y="434.2" font-size="24.8" text-anchor="end">2</text>
<text x="109" y="330.2" font-size="24.8" text-anchor="end">3</text>
<text x="109" y="226.2" font-size="24.8" text-anchor="end">4</text>
<text x="109" y="122.2" font-size="24.8" text-anchor="end">5</text>
<text x="143.9" y="689.3" font-size="24.8" text-anchor="middle">−5.0</text>
<text x="263.1" y="689.3" font-size="24.8" text-anchor="middle">−2.5</text>
<text x="382.4" y="689.3" font-size="24.8" text-anchor="middle">0.0</text>
<text x="501.6" y="689.3" font-size="24.8" text-anchor="middle">2.5</text>
<text x="620.9" y="689.3" font-size="24.8" text-anchor="middle">5.0</text>
<text x="382.6" y="729" font-size="24.6" text-anchor="middle" font-weight="bold">log2 (FC)</text>
<text transform="translate(71.5,371.2) rotate(-90)" font-size="24.6" text-anchor="middle" font-weight="bold">−log10 (qvalue)</text>
<text x="382.9" y="39.5" font-size="24.9" text-anchor="middle" font-weight="bold">Advanced volcano plot</text>
<text x="383" y="71.7" font-size="24.8" text-anchor="middle">Total genes: 35972</text>
<text x="667.8" y="292.6" font-size="24.9" font-weight="bold">Significant</text>
<circle cx="672.4" cy="326.3" r="5.5" fill="#f05a6e"/>
<text x="683.5" y="333.7" font-size="20.7">Sig_Up (632)</text>
<circle cx="672.4" cy="351.5" r="5.5" fill="#f99da8"/>
<text x="683.5" y="358.9" font-size="20.7">FC_Up_Only (270)</text>
<circle cx="672.4" cy="376.7" r="5.5" fill="#ddb68f"/>
<text x="683.5" y="384.1" font-size="20.7">pVal_Only (914)</text>
<circle cx="672.4" cy="402" r="5.5" fill="#a5a5a5"/>
<text x="683.5" y="409.4" font-size="20.7">NoDiff (33944)</text>
<circle cx="672.4" cy="427.2" r="5.5" fill="#83b9e8"/>
<text x="683.5" y="434.6" font-size="20.7">FC_Down_Only (130)</text>
<circle cx="672.4" cy="452.4" r="5.5" fill="#2f7bc1"/>
<text x="683.5" y="459.8" font-size="20.7">Sig_Down (82)</text>
<text x="-1" y="30" font-size="43" font-weight="bold">a</text>
<rect x="1049.8" y="59" width="120.6" height="351.5" fill="#fff" stroke="#555" stroke-width="1.2"/>
<rect x="1049.8" y="18.6" width="120.6" height="40.4" fill="#d9d9d9" stroke="#333" stroke-width="1.2"/>
<text x="1110.1" y="47.6" font-size="24.4" text-anchor="middle" font-weight="bold">BST2</text>
<line x1="1044.3" y1="101.2" x2="1049.8" y2="101.2" stroke="#333" stroke-width="1.1"/>
<text x="1031.8" y="110" font-size="24.6" text-anchor="end">40,000</text>
<line x1="1044.3" y1="175.3" x2="1049.8" y2="175.3" stroke="#333" stroke-width="1.1"/>
<text x="1031.8" y="184.1" font-size="24.6" text-anchor="end">30,000</text>
<line x1="1044.3" y1="249.5" x2="1049.8" y2="249.5" stroke="#333" stroke-width="1.1"/>
<text x="1031.8" y="258.3" font-size="24.6" text-anchor="end">20,000</text>
<line x1="1044.3" y1="323.6" x2="1049.8" y2="323.6" stroke="#333" stroke-width="1.1"/>
<text x="1031.8" y="332.4" font-size="24.6" text-anchor="end">10,000</text>
<line x1="1044.3" y1="397.7" x2="1049.8" y2="397.7" stroke="#333" stroke-width="1.1"/>
<text x="1031.8" y="406.5" font-size="24.6" text-anchor="end">0</text>
<line x1="1082.8" y1="323.6" x2="1082.8" y2="357.3" stroke="#4a5aa8" stroke-width="1.2"/>
<line x1="1082.8" y1="393.2" x2="1082.8" y2="395.9" stroke="#4a5aa8" stroke-width="1.2"/>
<rect x="1062" y="357.3" width="41.4" height="35.9" fill="#98a3cb" stroke="#4a5aa8" stroke-width="1.2"/>
<line x1="1062" y1="380.4" x2="1103.5" y2="380.4" stroke="#4a5aa8" stroke-width="2.0"/>
<path d="M1078.8 323.6h0M1078 353.3h0M1084.1 351.2h0M1090.7 356h0M1092.1 357.3h0M1080.6 366.1h0M1064.7 373.8h0M1086.2 376.5h0M1097.4 384.4h0M1085.4 387.4h0M1066 395.9h0M1068.2 396.4h0M1080.1 395.1h0M1088.9 394h0M1092.1 393.7h0" stroke="#32479a" stroke-width="9.2" stroke-linecap="round" fill="none"/>
<line x1="1137.4" y1="246.5" x2="1137.4" y2="317" stroke="#ff1a1a" stroke-width="1.2"/>
<line x1="1137.4" y1="379.1" x2="1137.4" y2="392.4" stroke="#ff1a1a" stroke-width="1.2"/>
<rect x="1116.8" y="317" width="41.2" height="62.2" fill="#ff8080" stroke="#ff1a1a" stroke-width="1.2"/>
<line x1="1116.8" y1="336.1" x2="1157.9" y2="336.1" stroke="#ff1a1a" stroke-width="2.0"/>
<path d="M1117.6 128.9h0M1149.7 246.5h0M1116.8 273.6h0M1130.6 270.5h0M1147.3 276.3h0M1129.3 317h0M1135.1 318.8h0M1130.6 317.5h0M1159 330.2h0M1146.5 334h0M1129.3 340.1h0M1124.7 345.9h0M1157.9 343.5h0M1150 358.7h0M1139.9 378.6h0M1154.5 379.4h0M1127.9 392.4h0M1138.6 390.5h0M1150.5 386h0M1155.3 392.4h0M1145.2 334.8h0" stroke="#ff0000" stroke-width="9.2" stroke-linecap="round" fill="none"/>
<text x="1080.6" y="440.7" font-size="24.6" text-anchor="middle">No</text>
<text x="1135.8" y="440.7" font-size="24.6" text-anchor="middle">Yes</text>
<text x="1110.1" y="89.5" font-size="20.7" text-anchor="middle"><tspan font-style="italic">p</tspan> = 0.003</text>
<path d="M1082.8 121.5V115.5H1137.4V121.5" fill="none" stroke="#111" stroke-width="1.1"/>
<text x="1111.1" y="117.5" font-size="21.5" text-anchor="middle" letter-spacing="2">**</text>
<rect x="1270.6" y="59" width="120.4" height="351.5" fill="#fff" stroke="#555" stroke-width="1.2"/>
<rect x="1270.6" y="18.6" width="120.4" height="40.4" fill="#d9d9d9" stroke="#333" stroke-width="1.2"/>
<text x="1330.8" y="47.6" font-size="24.4" text-anchor="middle" font-weight="bold">CD3D</text>
<line x1="1265.1" y1="82.6" x2="1270.6" y2="82.6" stroke="#333" stroke-width="1.1"/>
<text x="1252.6" y="91.4" font-size="24.6" text-anchor="end">500</text>
<line x1="1265.1" y1="145.9" x2="1270.6" y2="145.9" stroke="#333" stroke-width="1.1"/>
<text x="1252.6" y="154.7" font-size="24.6" text-anchor="end">400</text>
<line x1="1265.1" y1="209.9" x2="1270.6" y2="209.9" stroke="#333" stroke-width="1.1"/>
<text x="1252.6" y="218.7" font-size="24.6" text-anchor="end">300</text>
<line x1="1265.1" y1="273.6" x2="1270.6" y2="273.6" stroke="#333" stroke-width="1.1"/>
<text x="1252.6" y="282.4" font-size="24.6" text-anchor="end">200</text>
<line x1="1265.1" y1="337.4" x2="1270.6" y2="337.4" stroke="#333" stroke-width="1.1"/>
<text x="1252.6" y="346.2" font-size="24.6" text-anchor="end">100</text>
<line x1="1265.1" y1="401.2" x2="1270.6" y2="401.2" stroke="#333" stroke-width="1.1"/>
<text x="1252.6" y="410" font-size="24.6" text-anchor="end">0</text>
<line x1="1303.1" y1="298.4" x2="1303.1" y2="347.5" stroke="#4a5aa8" stroke-width="1.2"/>
<line x1="1303.1" y1="383.9" x2="1303.1" y2="396.7" stroke="#4a5aa8" stroke-width="1.2"/>
<rect x="1282.6" y="347.5" width="41.2" height="36.4" fill="#98a3cb" stroke="#4a5aa8" stroke-width="1.2"/>
<line x1="1282.6" y1="376.7" x2="1323.7" y2="376.7" stroke="#4a5aa8" stroke-width="2.0"/>
<path d="M1297.4 156.7h0M1294 317.5h0M1325.3 298.1h0M1316.6 326.8h0M1290.5 354.1h0M1305.4 373.3h0M1313.4 369.3h0M1285.2 378.1h0M1292.6 376.7h0M1299.3 383.9h0M1295.3 389.2h0M1319.2 374.6h0M1320 383.4h0M1324.5 379.4h0M1324 396.7h0" stroke="#32479a" stroke-width="9.2" stroke-linecap="round" fill="none"/>
<line x1="1358.1" y1="192.6" x2="1358.1" y2="280.3" stroke="#ff1a1a" stroke-width="1.2"/>
<line x1="1358.1" y1="340.9" x2="1358.1" y2="371.1" stroke="#ff1a1a" stroke-width="1.2"/>
<rect x="1337.8" y="280.3" width="40.6" height="60.6" fill="#ff8080" stroke="#ff1a1a" stroke-width="1.2"/>
<line x1="1337.8" y1="319.6" x2="1378.5" y2="319.6" stroke="#ff1a1a" stroke-width="2.0"/>
<path d="M1359.6 128.9h0M1346.3 191.8h0M1356.9 211.2h0M1376.3 251.1h0M1349.8 265.1h0M1374.2 280.3h0M1350.6 290.9h0M1356.9 299.7h0M1364.9 298.9h0M1346.3 318.8h0M1353.2 322.8h0M1373.1 314.8h0M1373.7 323.6h0M1341.3 340.1h0M1349.8 336.6h0M1357.2 332.6h0M1373.7 340.6h0M1370.2 355.2h0M1379.5 351.5h0M1370.5 362.6h0M1377.7 371.1h0" stroke="#ff0000" stroke-width="9.2" stroke-linecap="round" fill="none"/>
<text x="1300.9" y="440.7" font-size="24.6" text-anchor="middle">No</text>
<text x="1356.5" y="440.7" font-size="24.6" text-anchor="middle">Yes</text>
<text x="1330.8" y="89.5" font-size="20.7" text-anchor="middle"><tspan font-style="italic">p</tspan> = 0.001</text>
<path d="M1303.1 121.5V115.5H1358.1V121.5" fill="none" stroke="#111" stroke-width="1.1"/>
<text x="1331.6" y="117.5" font-size="21.5" text-anchor="middle" letter-spacing="2">***</text>
<rect x="1490.6" y="59" width="120.6" height="351.5" fill="#fff" stroke="#555" stroke-width="1.2"/>
<rect x="1490.6" y="18.6" width="120.6" height="40.4" fill="#d9d9d9" stroke="#333" stroke-width="1.2"/>
<text x="1550.9" y="47.6" font-size="24.4" text-anchor="middle" font-weight="bold">CD8B</text>
<line x1="1485.1" y1="113.4" x2="1490.6" y2="113.4" stroke="#333" stroke-width="1.1"/>
<text x="1472.6" y="122.2" font-size="24.6" text-anchor="end">300</text>
<line x1="1485.1" y1="208.6" x2="1490.6" y2="208.6" stroke="#333" stroke-width="1.1"/>
<text x="1472.6" y="217.4" font-size="24.6" text-anchor="end">200</text>
<line x1="1485.1" y1="303.4" x2="1490.6" y2="303.4" stroke="#333" stroke-width="1.1"/>
<text x="1472.6" y="312.2" font-size="24.6" text-anchor="end">100</text>
<line x1="1485.1" y1="398.5" x2="1490.6" y2="398.5" stroke="#333" stroke-width="1.1"/>
<text x="1472.6" y="407.3" font-size="24.6" text-anchor="end">0</text>
<line x1="1523.4" y1="288.3" x2="1523.4" y2="338.7" stroke="#4a5aa8" stroke-width="1.2"/>
<line x1="1523.4" y1="391.9" x2="1523.4" y2="395.9" stroke="#4a5aa8" stroke-width="1.2"/>
<rect x="1502.8" y="338.7" width="41.2" height="53.1" fill="#98a3cb" stroke="#4a5aa8" stroke-width="1.2"/>
<line x1="1502.8" y1="383.1" x2="1544" y2="383.1" stroke="#4a5aa8" stroke-width="2.0"/>
<path d="M1518.8 288.3h0M1510.3 309h0M1523 334h0M1539.5 330.2h0M1505.7 340.1h0M1529.6 350.2h0M1523.5 357.9h0M1509.7 379.9h0M1513.7 384.4h0M1508.9 390.5h0M1519 395.9h0M1522.2 395.9h0M1531 396.4h0M1537.4 389.2h0M1539.5 390.5h0" stroke="#32479a" stroke-width="9.2" stroke-linecap="round" fill="none"/>
<line x1="1578" y1="294.1" x2="1578" y2="321.5" stroke="#ff1a1a" stroke-width="1.2"/>
<line x1="1578" y1="361.3" x2="1578" y2="389.2" stroke="#ff1a1a" stroke-width="1.2"/>
<rect x="1557.3" y="321.5" width="41.4" height="39.9" fill="#ff8080" stroke="#ff1a1a" stroke-width="1.2"/>
<line x1="1557.3" y1="345.4" x2="1598.7" y2="345.4" stroke="#ff1a1a" stroke-width="2.0"/>
<path d="M1595.3 128.9h0M1580.7 227.7h0M1561.5 293.6h0M1597.1 302.3h0M1585.2 321.5h0M1593.1 320.7h0M1590.5 334h0M1582.5 337.4h0M1589.2 340.9h0M1593.9 345.4h0M1561 344h0M1572.7 350.2h0M1557.5 353.3h0M1558.9 377.3h0M1563.9 378.6h0M1576.7 368h0M1582.5 359.2h0M1587.3 363.2h0M1590.8 361.3h0M1577.5 389.2h0M1559.4 354.7h0" stroke="#ff0000" stroke-width="9.2" stroke-linecap="round" fill="none"/>
<text x="1521.2" y="440.7" font-size="24.6" text-anchor="middle">No</text>
<text x="1576.4" y="440.7" font-size="24.6" text-anchor="middle">Yes</text>
<text x="1550.9" y="89.5" font-size="20.7" text-anchor="middle"><tspan font-style="italic">p</tspan> = 0.033</text>
<path d="M1523.4 121.5V115.5H1578V121.5" fill="none" stroke="#111" stroke-width="1.1"/>
<text x="1551.7" y="117.5" font-size="21.5" text-anchor="middle" letter-spacing="2">*</text>
<rect x="1732.6" y="59" width="120.4" height="351.5" fill="#fff" stroke="#555" stroke-width="1.2"/>
<rect x="1732.6" y="18.6" width="120.4" height="40.4" fill="#d9d9d9" stroke="#333" stroke-width="1.2"/>
<text x="1792.8" y="47.6" font-size="24.4" text-anchor="middle" font-weight="bold">FASLG</text>
<line x1="1727.1" y1="98.8" x2="1732.6" y2="98.8" stroke="#333" stroke-width="1.1"/>
<text x="1714.6" y="107.6" font-size="24.6" text-anchor="end">200</text>
<line x1="1727.1" y1="173" x2="1732.6" y2="173" stroke="#333" stroke-width="1.1"/>
<text x="1714.6" y="181.8" font-size="24.6" text-anchor="end">150</text>
<line x1="1727.1" y1="247.6" x2="1732.6" y2="247.6" stroke="#333" stroke-width="1.1"/>
<text x="1714.6" y="256.4" font-size="24.6" text-anchor="end">100</text>
<line x1="1727.1" y1="322.3" x2="1732.6" y2="322.3" stroke="#333" stroke-width="1.1"/>
<text x="1714.6" y="331.1" font-size="24.6" text-anchor="end">50</text>
<line x1="1727.1" y1="396.7" x2="1732.6" y2="396.7" stroke="#333" stroke-width="1.1"/>
<text x="1714.6" y="405.5" font-size="24.6" text-anchor="end">0</text>
<line x1="1765.4" y1="370.1" x2="1765.4" y2="377.3" stroke="#4a5aa8" stroke-width="1.2"/>
<line x1="1765.4" y1="391.1" x2="1765.4" y2="396.7" stroke="#4a5aa8" stroke-width="1.2"/>
<rect x="1744.8" y="377.3" width="41.2" height="13.8" fill="#98a3cb" stroke="#4a5aa8" stroke-width="1.2"/>
<line x1="1744.8" y1="385.8" x2="1786" y2="385.8" stroke="#4a5aa8" stroke-width="2.0"/>
<path d="M1773.3 328.1h0M1777.8 369.3h0M1784.7 369.3h0M1769.3 379.9h0M1775.9 382.6h0M1780.4 377.3h0M1782.6 385.2h0M1784.7 389.2h0M1750.2 390h0M1756.8 395.9h0M1763.4 395.9h0M1760 393.2h0M1770.6 386.6h0M1778.6 389.2h0M1766.1 390.5h0" stroke="#32479a" stroke-width="9.2" stroke-linecap="round" fill="none"/>
<line x1="1820.2" y1="303.7" x2="1820.2" y2="341.4" stroke="#ff1a1a" stroke-width="1.2"/>
<line x1="1820.2" y1="376.7" x2="1820.2" y2="396.7" stroke="#ff1a1a" stroke-width="1.2"/>
<rect x="1799.3" y="341.4" width="41.7" height="35.3" fill="#ff8080" stroke="#ff1a1a" stroke-width="1.2"/>
<line x1="1799.3" y1="356" x2="1841" y2="356" stroke="#ff1a1a" stroke-width="2.0"/>
<path d="M1807.8 128.9h0M1817.1 243.9h0M1817.9 303.7h0M1838.9 318.8h0M1841.6 334h0M1806.5 344.6h0M1818.4 341.4h0M1829.1 346.7h0M1810.5 354.7h0M1815.8 356h0M1835.7 356h0M1824.3 363.2h0M1836.5 362.6h0M1801.7 368h0M1808.3 377.3h0M1818.4 380.4h0M1825.1 384.4h0M1800.6 383.1h0M1840.2 383.1h0M1829.6 396.7h0M1813.1 353.3h0" stroke="#ff0000" stroke-width="9.2" stroke-linecap="round" fill="none"/>
<text x="1763.2" y="440.7" font-size="24.6" text-anchor="middle">No</text>
<text x="1818.6" y="440.7" font-size="24.6" text-anchor="middle">Yes</text>
<text x="1792.8" y="89.5" font-size="20.7" text-anchor="middle"><tspan font-style="italic">p</tspan> = 0.001</text>
<path d="M1765.4 121.5V115.5H1820.2V121.5" fill="none" stroke="#111" stroke-width="1.1"/>
<text x="1793.8" y="117.5" font-size="21.5" text-anchor="middle" letter-spacing="2">***</text>
<rect x="1049.8" y="507.2" width="120.1" height="352" fill="#fff" stroke="#555" stroke-width="1.2"/>
<rect x="1049.8" y="466.8" width="120.1" height="40.4" fill="#d9d9d9" stroke="#333" stroke-width="1.2"/>
<text x="1109.9" y="495.8" font-size="24.4" text-anchor="middle" font-weight="bold">CCR5</text>
<line x1="1044.3" y1="590.1" x2="1049.8" y2="590.1" stroke="#333" stroke-width="1.1"/>
<text x="1031.8" y="598.9" font-size="24.6" text-anchor="end">600</text>
<line x1="1044.3" y1="677.2" x2="1049.8" y2="677.2" stroke="#333" stroke-width="1.1"/>
<text x="1031.8" y="686" font-size="24.6" text-anchor="end">400</text>
<line x1="1044.3" y1="764.1" x2="1049.8" y2="764.1" stroke="#333" stroke-width="1.1"/>
<text x="1031.8" y="772.9" font-size="24.6" text-anchor="end">200</text>
<line x1="1044.3" y1="851" x2="1049.8" y2="851" stroke="#333" stroke-width="1.1"/>
<text x="1031.8" y="859.8" font-size="24.6" text-anchor="end">0</text>
<line x1="1082.1" y1="793.3" x2="1082.1" y2="815.1" stroke="#4a5aa8" stroke-width="1.2"/>
<line x1="1082.1" y1="836.7" x2="1082.1" y2="843.8" stroke="#4a5aa8" stroke-width="1.2"/>
<rect x="1062" y="815.1" width="40.1" height="21.5" fill="#98a3cb" stroke="#4a5aa8" stroke-width="1.2"/>
<line x1="1062" y1="829.7" x2="1102.2" y2="829.7" stroke="#4a5aa8" stroke-width="2.0"/>
<path d="M1100.8 761.5h0M1082 793.3h0M1076.7 804h0M1064.7 815.1h0M1070.3 820.4h0M1084.6 812.5h0M1103.2 820.7h0M1082.2 829.2h0M1095.2 830h0M1103.2 834.5h0M1064.2 837.2h0M1073.5 836.7h0M1088.6 840.4h0M1074.8 844.6h0M1082.8 832.7h0" stroke="#32479a" stroke-width="9.2" stroke-linecap="round" fill="none"/>
<line x1="1137.2" y1="733.6" x2="1137.2" y2="777.9" stroke="#ff1a1a" stroke-width="1.2"/>
<line x1="1137.2" y1="812.7" x2="1137.2" y2="835.9" stroke="#ff1a1a" stroke-width="1.2"/>
<rect x="1116.8" y="777.9" width="40.9" height="34.8" fill="#ff8080" stroke="#ff1a1a" stroke-width="1.2"/>
<line x1="1116.8" y1="788.6" x2="1157.7" y2="788.6" stroke="#ff1a1a" stroke-width="2.0"/>
<path d="M1131.9 576.8h0M1139.1 599.4h0M1130.6 733.6h0M1128.5 762.8h0M1147.1 764.7h0M1139.1 777.9h0M1141.7 780.1h0M1147.3 786.7h0M1154.5 786.7h0M1148.7 788.6h0M1156.4 796.5h0M1158.5 802.6h0M1154.5 801.8h0M1118.1 812.7h0M1142 810.6h0M1135.4 815.9h0M1138.6 820.4h0M1130.6 823.9h0M1129.3 835.9h0M1150.5 788h0M1145.2 811.9h0" stroke="#ff0000" stroke-width="9.2" stroke-linecap="round" fill="none"/>
<text x="1079.9" y="889.4" font-size="24.6" text-anchor="middle">No</text>
<text x="1135.6" y="889.4" font-size="24.6" text-anchor="middle">Yes</text>
<text x="1109.9" y="537.7" font-size="20.7" text-anchor="middle"><tspan font-style="italic">p</tspan> = 0.001</text>
<path d="M1082.1 569.5V563.5H1137.2V569.5" fill="none" stroke="#111" stroke-width="1.1"/>
<text x="1110.7" y="565.5" font-size="21.5" text-anchor="middle" letter-spacing="2">***</text>
<rect x="1270.1" y="507.2" width="120.4" height="352" fill="#fff" stroke="#555" stroke-width="1.2"/>
<rect x="1270.1" y="466.8" width="120.4" height="40.4" fill="#d9d9d9" stroke="#333" stroke-width="1.2"/>
<text x="1330.2" y="495.8" font-size="24.4" text-anchor="middle" font-weight="bold">GZMB</text>
<line x1="1264.6" y1="568.1" x2="1270.1" y2="568.1" stroke="#333" stroke-width="1.1"/>
<text x="1252.1" y="576.9" font-size="24.6" text-anchor="end">600</text>
<line x1="1264.6" y1="661.3" x2="1270.1" y2="661.3" stroke="#333" stroke-width="1.1"/>
<text x="1252.1" y="670.1" font-size="24.6" text-anchor="end">400</text>
<line x1="1264.6" y1="755.1" x2="1270.1" y2="755.1" stroke="#333" stroke-width="1.1"/>
<text x="1252.1" y="763.9" font-size="24.6" text-anchor="end">200</text>
<line x1="1264.6" y1="849.1" x2="1270.1" y2="849.1" stroke="#333" stroke-width="1.1"/>
<text x="1252.1" y="857.9" font-size="24.6" text-anchor="end">0</text>
<line x1="1302.9" y1="746.9" x2="1302.9" y2="798.7" stroke="#4a5aa8" stroke-width="1.2"/>
<line x1="1302.9" y1="835.9" x2="1302.9" y2="845.2" stroke="#4a5aa8" stroke-width="1.2"/>
<rect x="1282.6" y="798.7" width="40.6" height="37.2" fill="#98a3cb" stroke="#4a5aa8" stroke-width="1.2"/>
<line x1="1282.6" y1="818.6" x2="1323.2" y2="818.6" stroke="#4a5aa8" stroke-width="2.0"/>
<path d="M1304.6 723.5h0M1305.4 746.9h0M1298 790.7h0M1320 788.6h0M1288.7 801.8h0M1292.6 801.8h0M1312.6 800.5h0M1299.3 817.3h0M1315.2 819.4h0M1286.8 820.7h0M1317.4 831.9h0M1299.8 835.1h0M1282.8 836.7h0M1290 840.6h0M1306.7 842.5h0M1324 845.2h0" stroke="#32479a" stroke-width="9.2" stroke-linecap="round" fill="none"/>
<line x1="1357.9" y1="576.8" x2="1357.9" y2="691.6" stroke="#ff1a1a" stroke-width="1.2"/>
<line x1="1357.9" y1="774.2" x2="1357.9" y2="826.6" stroke="#ff1a1a" stroke-width="1.2"/>
<rect x="1337.3" y="691.6" width="41.2" height="82.6" fill="#ff8080" stroke="#ff1a1a" stroke-width="1.2"/>
<line x1="1337.3" y1="739.4" x2="1378.5" y2="739.4" stroke="#ff1a1a" stroke-width="2.0"/>
<path d="M1355.9 576.8h0M1365.7 581.3h0M1357.2 590.6h0M1371 649.9h0M1357.7 661.3h0M1338.3 697.7h0M1364.9 693.2h0M1373.1 691.6h0M1368.9 723.5h0M1363.8 733.6h0M1377.7 739.4h0M1364.4 750.8h0M1346.3 767.3h0M1354.3 768.1h0M1363 767.3h0M1345.8 775.3h0M1372.3 777.4h0M1353.8 795.2h0M1343.1 813.3h0M1356.4 820.7h0M1379 826.6h0" stroke="#ff0000" stroke-width="9.2" stroke-linecap="round" fill="none"/>
<text x="1300.7" y="889.4" font-size="24.6" text-anchor="middle">No</text>
<text x="1356.3" y="889.4" font-size="24.6" text-anchor="middle">Yes</text>
<text x="1330.2" y="537.7" font-size="20.7" text-anchor="middle"><tspan font-style="italic">p</tspan> = 0.001</text>
<path d="M1302.9 569.5V563.5H1357.9V569.5" fill="none" stroke="#111" stroke-width="1.1"/>
<text x="1331.4" y="565.5" font-size="21.5" text-anchor="middle" letter-spacing="2">***</text>
<rect x="1490.7" y="507.2" width="120.5" height="352" fill="#fff" stroke="#555" stroke-width="1.2"/>
<rect x="1490.7" y="466.8" width="120.5" height="40.4" fill="#d9d9d9" stroke="#333" stroke-width="1.2"/>
<text x="1550.9" y="495.8" font-size="24.4" text-anchor="middle" font-weight="bold">GNLY</text>
<line x1="1485.2" y1="593.2" x2="1490.7" y2="593.2" stroke="#333" stroke-width="1.1"/>
<text x="1472.7" y="602" font-size="24.6" text-anchor="end">1000</text>
<line x1="1485.2" y1="720.4" x2="1490.7" y2="720.4" stroke="#333" stroke-width="1.1"/>
<text x="1472.7" y="729.2" font-size="24.6" text-anchor="end">500</text>
<line x1="1485.2" y1="847.9" x2="1490.7" y2="847.9" stroke="#333" stroke-width="1.1"/>
<text x="1472.7" y="856.7" font-size="24.6" text-anchor="end">0</text>
<line x1="1523.4" y1="774.8" x2="1523.4" y2="805.3" stroke="#4a5aa8" stroke-width="1.2"/>
<line x1="1523.4" y1="835.1" x2="1523.4" y2="844.4" stroke="#4a5aa8" stroke-width="1.2"/>
<rect x="1502.5" y="805.3" width="41.7" height="29.8" fill="#98a3cb" stroke="#4a5aa8" stroke-width="1.2"/>
<line x1="1502.5" y1="828.7" x2="1544.2" y2="828.7" stroke="#4a5aa8" stroke-width="2.0"/>
<path d="M1525.9 696.3h0M1517.9 772.6h0M1522.7 774.8h0M1540.3 786.7h0M1513.7 813.9h0M1535.2 810.7h0M1524.3 820.3h0M1528.2 830.9h0M1540 826.7h0M1545.1 831.5h0M1521.8 833.5h0M1510.9 834.7h0M1504.1 836.7h0M1512.1 842.1h0M1518.6 845.3h0" stroke="#32479a" stroke-width="9.2" stroke-linecap="round" fill="none"/>
<line x1="1578.1" y1="665.2" x2="1578.1" y2="741.2" stroke="#ff1a1a" stroke-width="1.2"/>
<line x1="1578.1" y1="809.1" x2="1578.1" y2="830.9" stroke="#ff1a1a" stroke-width="1.2"/>
<rect x="1557.6" y="741.2" width="41" height="67.9" fill="#ff8080" stroke="#ff1a1a" stroke-width="1.2"/>
<line x1="1557.6" y1="776.4" x2="1598.7" y2="776.4" stroke="#ff1a1a" stroke-width="2.0"/>
<path d="M1562.1 665.2h0M1580.4 696.3h0M1562.1 706.6h0M1568.2 722.6h0M1560.2 741.2h0M1594.5 742.8h0M1557 755h0M1573 773.2h0M1588.1 770h0M1580.4 786.7h0M1588.1 790.8h0M1567.3 802.1h0M1598.7 803h0M1571.7 809.1h0M1565.7 818.1h0M1600.3 819.7h0M1572.4 826.1h0M1572.4 831.5h0M1582.6 773.2h0M1592.2 818.1h0" stroke="#ff0000" stroke-width="9.2" stroke-linecap="round" fill="none"/>
<text x="1521.2" y="889.4" font-size="24.6" text-anchor="middle">No</text>
<text x="1576.5" y="889.4" font-size="24.6" text-anchor="middle">Yes</text>
<text x="1550.9" y="537.7" font-size="20.7" text-anchor="middle"><tspan font-style="italic">p</tspan> = 0.002</text>
<path d="M1523.4 569.5V563.5H1578.1V569.5" fill="none" stroke="#111" stroke-width="1.1"/>
<text x="1551.8" y="565.5" font-size="21.5" text-anchor="middle" letter-spacing="2">**</text>
<rect x="1732.9" y="507.2" width="120.5" height="352" fill="#fff" stroke="#555" stroke-width="1.2"/>
<rect x="1732.9" y="466.8" width="120.5" height="40.4" fill="#d9d9d9" stroke="#333" stroke-width="1.2"/>
<text x="1793.1" y="495.8" font-size="24.4" text-anchor="middle" font-weight="bold">CXCL9</text>
<line x1="1727.4" y1="559.2" x2="1732.9" y2="559.2" stroke="#333" stroke-width="1.1"/>
<text x="1714.9" y="568" font-size="24.6" text-anchor="end">20,000</text>
<line x1="1727.4" y1="631" x2="1732.9" y2="631" stroke="#333" stroke-width="1.1"/>
<text x="1714.9" y="639.8" font-size="24.6" text-anchor="end">15,000</text>
<line x1="1727.4" y1="702.1" x2="1732.9" y2="702.1" stroke="#333" stroke-width="1.1"/>
<text x="1714.9" y="710.9" font-size="24.6" text-anchor="end">10,000</text>
<line x1="1727.4" y1="773.5" x2="1732.9" y2="773.5" stroke="#333" stroke-width="1.1"/>
<text x="1714.9" y="782.3" font-size="24.6" text-anchor="end">5000</text>
<line x1="1727.4" y1="845.3" x2="1732.9" y2="845.3" stroke="#333" stroke-width="1.1"/>
<text x="1714.9" y="854.1" font-size="24.6" text-anchor="end">0</text>
<line x1="1765.9" y1="840.5" x2="1765.9" y2="843.1" stroke="#4a5aa8" stroke-width="1.2"/>
<line x1="1765.9" y1="845" x2="1765.9" y2="845.3" stroke="#4a5aa8" stroke-width="1.2"/>
<rect x="1745.1" y="843.1" width="41.7" height="1.9" fill="#98a3cb" stroke="#4a5aa8" stroke-width="1.2"/>
<line x1="1745.1" y1="844.4" x2="1786.7" y2="844.4" stroke="#4a5aa8" stroke-width="2.0"/>
<path d="M1761.4 827.7h0M1768.5 837.3h0M1751.8 844.4h0M1758.9 844.4h0M1765.3 844.4h0M1771.7 844.4h0M1779.7 843.1h0M1788.3 844.4h0M1749.2 843.7h0M1755.7 845.3h0M1763.7 842.1h0M1774.9 842.1h0M1784.5 844.4h0M1746 843.7h0M1768.5 844.4h0" stroke="#32479a" stroke-width="9.2" stroke-linecap="round" fill="none"/>
<line x1="1821" y1="827.7" x2="1821" y2="831.5" stroke="#ff1a1a" stroke-width="1.2"/>
<line x1="1821" y1="842.1" x2="1821" y2="845.3" stroke="#ff1a1a" stroke-width="1.2"/>
<rect x="1800.5" y="831.5" width="41" height="10.6" fill="#ff8080" stroke="#ff1a1a" stroke-width="1.2"/>
<line x1="1800.5" y1="837.3" x2="1841.5" y2="837.3" stroke="#ff1a1a" stroke-width="2.0"/>
<path d="M1810.8 577.1h0M1816.5 761.1h0M1840.9 786.7h0M1804.4 829.3h0M1810.1 830.9h0M1816.5 832.5h0M1822.9 834.7h0M1829.3 834.1h0M1835.8 834.1h0M1840.6 838.9h0M1802.1 837.3h0M1806.9 842.1h0M1813.3 843.1h0M1819.7 840.5h0M1826.1 842.1h0M1832.6 843.7h0M1839 841.2h0M1805.3 834.1h0M1813.3 837.3h0M1834.2 838.9h0M1842.2 839.9h0" stroke="#ff0000" stroke-width="9.2" stroke-linecap="round" fill="none"/>
<text x="1763.7" y="889.4" font-size="24.6" text-anchor="middle">No</text>
<text x="1819.4" y="889.4" font-size="24.6" text-anchor="middle">Yes</text>
<text x="1793.1" y="537.7" font-size="20.7" text-anchor="middle"><tspan font-style="italic">p</tspan> = 0.001</text>
<path d="M1765.9 569.5V563.5H1821V569.5" fill="none" stroke="#111" stroke-width="1.1"/>
<text x="1794.5" y="565.5" font-size="21.5" text-anchor="middle" letter-spacing="2">***</text>
<rect x="1049" y="951.3" width="120.6" height="351.7" fill="#fff" stroke="#555" stroke-width="1.2"/>
<rect x="1049" y="911.1" width="120.6" height="40.2" fill="#d9d9d9" stroke="#333" stroke-width="1.2"/>
<text x="1109.3" y="940" font-size="24.4" text-anchor="middle" font-weight="bold">CXCL10</text>
<line x1="1043.5" y1="1059.3" x2="1049" y2="1059.3" stroke="#333" stroke-width="1.1"/>
<text x="1031" y="1068.1" font-size="24.6" text-anchor="end">20,000</text>
<line x1="1043.5" y1="1174.1" x2="1049" y2="1174.1" stroke="#333" stroke-width="1.1"/>
<text x="1031" y="1182.9" font-size="24.6" text-anchor="end">10,000</text>
<line x1="1043.5" y1="1288.6" x2="1049" y2="1288.6" stroke="#333" stroke-width="1.1"/>
<text x="1031" y="1297.4" font-size="24.6" text-anchor="end">0</text>
<line x1="1082.1" y1="1282.5" x2="1082.1" y2="1284.4" stroke="#4a5aa8" stroke-width="1.2"/>
<line x1="1082.1" y1="1288.1" x2="1082.1" y2="1288.6" stroke="#4a5aa8" stroke-width="1.2"/>
<rect x="1061.5" y="1284.4" width="41.2" height="3.7" fill="#98a3cb" stroke="#4a5aa8" stroke-width="1.2"/>
<line x1="1061.5" y1="1286.5" x2="1102.7" y2="1286.5" stroke="#4a5aa8" stroke-width="2.0"/>
<path d="M1061.5 1285.2h0M1068.2 1287h0M1071.3 1287.8h0M1084.1 1283.8h0M1086.7 1287.8h0M1092.1 1287.8h0M1096 1274.5h0M1098.7 1281.2h0M1100.6 1286.5h0M1105.3 1286h0M1064.2 1286.5h0M1080.1 1287.3h0M1089.4 1285.2h0M1094.7 1286.5h0M1104 1283.8h0" stroke="#32479a" stroke-width="9.2" stroke-linecap="round" fill="none"/>
<line x1="1136.6" y1="1261.2" x2="1136.6" y2="1275.9" stroke="#ff1a1a" stroke-width="1.2"/>
<line x1="1136.6" y1="1286.5" x2="1136.6" y2="1288.6" stroke="#ff1a1a" stroke-width="1.2"/>
<rect x="1116" y="1275.9" width="41.2" height="10.6" fill="#ff8080" stroke="#ff1a1a" stroke-width="1.2"/>
<line x1="1116" y1="1282.5" x2="1157.2" y2="1282.5" stroke="#ff1a1a" stroke-width="2.0"/>
<path d="M1157.9 1021.3h0M1155.8 1251.9h0M1124.7 1260.7h0M1155.8 1269.2h0M1152.4 1273.2h0M1117.3 1278.5h0M1121.8 1281.2h0M1127.9 1279.8h0M1133.2 1275.9h0M1139.9 1275.3h0M1145.2 1278.5h0M1150.5 1281.2h0M1118.6 1287.8h0M1126.6 1286.5h0M1134.6 1288.6h0M1142.5 1285.2h0M1147.9 1283.3h0M1157.7 1286.5h0M1131.9 1283.8h0M1141.2 1281.2h0M1122.6 1286h0" stroke="#ff0000" stroke-width="9.2" stroke-linecap="round" fill="none"/>
<text x="1079.9" y="1333.2" font-size="24.6" text-anchor="middle">No</text>
<text x="1135" y="1333.2" font-size="24.6" text-anchor="middle">Yes</text>
<text x="1109.3" y="981.8" font-size="20.7" text-anchor="middle"><tspan font-style="italic">p</tspan> = 0.002</text>
<path d="M1082.1 1013.5V1007.5H1136.6V1013.5" fill="none" stroke="#111" stroke-width="1.1"/>
<text x="1110.3" y="1009.5" font-size="21.5" text-anchor="middle" letter-spacing="2">**</text>
<rect x="1269.5" y="951.3" width="120.6" height="351.7" fill="#fff" stroke="#555" stroke-width="1.2"/>
<rect x="1269.5" y="911.1" width="120.6" height="40.2" fill="#d9d9d9" stroke="#333" stroke-width="1.2"/>
<text x="1329.8" y="940" font-size="24.4" text-anchor="middle" font-weight="bold">CXCL11</text>
<line x1="1264" y1="962.4" x2="1269.5" y2="962.4" stroke="#333" stroke-width="1.1"/>
<text x="1251.5" y="971.2" font-size="24.6" text-anchor="end">8000</text>
<line x1="1264" y1="1043.9" x2="1269.5" y2="1043.9" stroke="#333" stroke-width="1.1"/>
<text x="1251.5" y="1052.7" font-size="24.6" text-anchor="end">6000</text>
<line x1="1264" y1="1125.5" x2="1269.5" y2="1125.5" stroke="#333" stroke-width="1.1"/>
<text x="1251.5" y="1134.3" font-size="24.6" text-anchor="end">4000</text>
<line x1="1264" y1="1207" x2="1269.5" y2="1207" stroke="#333" stroke-width="1.1"/>
<text x="1251.5" y="1215.8" font-size="24.6" text-anchor="end">2000</text>
<line x1="1264" y1="1288.6" x2="1269.5" y2="1288.6" stroke="#333" stroke-width="1.1"/>
<text x="1251.5" y="1297.4" font-size="24.6" text-anchor="end">0</text>
<line x1="1302.6" y1="1279.8" x2="1302.6" y2="1283.8" stroke="#4a5aa8" stroke-width="1.2"/>
<line x1="1302.6" y1="1288.1" x2="1302.6" y2="1288.6" stroke="#4a5aa8" stroke-width="1.2"/>
<rect x="1282" y="1283.8" width="41.2" height="4.3" fill="#98a3cb" stroke="#4a5aa8" stroke-width="1.2"/>
<line x1="1282" y1="1286.5" x2="1323.2" y2="1286.5" stroke="#4a5aa8" stroke-width="2.0"/>
<path d="M1284.7 1282.5h0M1286.8 1287.8h0M1292.6 1286.5h0M1298 1282.5h0M1301.9 1285.2h0M1307.3 1287.8h0M1312.6 1286.5h0M1320.5 1278.5h0M1320 1286.5h0M1324.5 1287.8h0M1283.3 1286.5h0M1290 1285.2h0M1304.6 1286.5h0M1315.2 1287.8h0M1300.6 1286.5h0" stroke="#32479a" stroke-width="9.2" stroke-linecap="round" fill="none"/>
<line x1="1357.1" y1="1261.2" x2="1357.1" y2="1274.5" stroke="#ff1a1a" stroke-width="1.2"/>
<line x1="1357.1" y1="1286.5" x2="1357.1" y2="1289.1" stroke="#ff1a1a" stroke-width="1.2"/>
<rect x="1336.5" y="1274.5" width="41.2" height="12" fill="#ff8080" stroke="#ff1a1a" stroke-width="1.2"/>
<line x1="1336.5" y1="1282.5" x2="1377.7" y2="1282.5" stroke="#ff1a1a" stroke-width="2.0"/>
<path d="M1342.6 1021.3h0M1364.6 1260.4h0M1345 1268.4h0M1349.8 1271.9h0M1359.1 1273.2h0M1363 1274.5h0M1376.3 1277.2h0M1339.1 1281.2h0M1352.4 1279.8h0M1361.7 1278.5h0M1333.8 1286.5h0M1340.5 1287.8h0M1345.8 1286.5h0M1352.4 1288.6h0M1357.7 1289.1h0M1365.7 1286.5h0M1370.5 1289.1h0M1348.4 1283.8h0M1356.4 1283.8h0M1371 1282.5h0M1336.5 1285.2h0" stroke="#ff0000" stroke-width="9.2" stroke-linecap="round" fill="none"/>
<text x="1300.4" y="1333.2" font-size="24.6" text-anchor="middle">No</text>
<text x="1355.5" y="1333.2" font-size="24.6" text-anchor="middle">Yes</text>
<text x="1329.8" y="981.8" font-size="20.7" text-anchor="middle"><tspan font-style="italic">p</tspan> = 0.006</text>
<path d="M1302.6 1013.5V1007.5H1357.1V1013.5" fill="none" stroke="#111" stroke-width="1.1"/>
<text x="1330.8" y="1009.5" font-size="21.5" text-anchor="middle" letter-spacing="2">**</text>
<rect x="1490.7" y="951.3" width="120.5" height="351.7" fill="#fff" stroke="#555" stroke-width="1.2"/>
<rect x="1490.7" y="911.1" width="120.5" height="40.2" fill="#d9d9d9" stroke="#333" stroke-width="1.2"/>
<text x="1550.9" y="940" font-size="24.4" text-anchor="middle" font-weight="bold">PDCD1</text>
<line x1="1485.2" y1="1025.8" x2="1490.7" y2="1025.8" stroke="#333" stroke-width="1.1"/>
<text x="1472.7" y="1034.6" font-size="24.6" text-anchor="end">300</text>
<line x1="1485.2" y1="1113.9" x2="1490.7" y2="1113.9" stroke="#333" stroke-width="1.1"/>
<text x="1472.7" y="1122.7" font-size="24.6" text-anchor="end">200</text>
<line x1="1485.2" y1="1202" x2="1490.7" y2="1202" stroke="#333" stroke-width="1.1"/>
<text x="1472.7" y="1210.8" font-size="24.6" text-anchor="end">100</text>
<line x1="1485.2" y1="1290.1" x2="1490.7" y2="1290.1" stroke="#333" stroke-width="1.1"/>
<text x="1472.7" y="1298.9" font-size="24.6" text-anchor="end">0</text>
<line x1="1523.4" y1="1231.5" x2="1523.4" y2="1245.3" stroke="#4a5aa8" stroke-width="1.2"/>
<line x1="1523.4" y1="1278.3" x2="1523.4" y2="1284.4" stroke="#4a5aa8" stroke-width="1.2"/>
<rect x="1502.5" y="1245.3" width="41.7" height="33" fill="#98a3cb" stroke="#4a5aa8" stroke-width="1.2"/>
<line x1="1502.5" y1="1270.3" x2="1544.2" y2="1270.3" stroke="#4a5aa8" stroke-width="2.0"/>
<path d="M1535.2 1174.1h0M1516.9 1230.8h0M1516 1243h0M1537.1 1245.3h0M1516.9 1255.5h0M1532.3 1257.1h0M1520.2 1270.9h0M1537.1 1269.3h0M1520.2 1278.9h0M1531.4 1280.5h0M1536.2 1281.2h0M1543.5 1277.9h0M1521.1 1289.2h0M1510.5 1270.9h0M1526.6 1274.1h0" stroke="#32479a" stroke-width="9.2" stroke-linecap="round" fill="none"/>
<line x1="1578.1" y1="1176.4" x2="1578.1" y2="1212.6" stroke="#ff1a1a" stroke-width="1.2"/>
<line x1="1578.1" y1="1251" x2="1578.1" y2="1276.3" stroke="#ff1a1a" stroke-width="1.2"/>
<rect x="1557.6" y="1212.6" width="41" height="38.4" fill="#ff8080" stroke="#ff1a1a" stroke-width="1.2"/>
<line x1="1557.6" y1="1237.9" x2="1598.7" y2="1237.9" stroke="#ff1a1a" stroke-width="2.0"/>
<path d="M1590 1021h0M1562.8 1045.3h0M1599.6 1138.9h0M1580.4 1176.4h0M1580.1 1196.2h0M1565 1215.8h0M1575.6 1214.8h0M1600.3 1212.3h0M1558.9 1229.2h0M1557.6 1236.3h0M1585.2 1239.5h0M1590 1241.4h0M1600.3 1245.9h0M1565 1249.1h0M1566.6 1251.7h0M1585.2 1251.7h0M1589.7 1259h0M1598.7 1264.5h0M1588.1 1271.5h0M1578.8 1276.7h0M1560.2 1232.5h0" stroke="#ff0000" stroke-width="9.2" stroke-linecap="round" fill="none"/>
<text x="1521.2" y="1333.2" font-size="24.6" text-anchor="middle">No</text>
<text x="1576.5" y="1333.2" font-size="24.6" text-anchor="middle">Yes</text>
<text x="1550.9" y="981.8" font-size="20.7" text-anchor="middle"><tspan font-style="italic">p</tspan> = 0.003</text>
<path d="M1523.4 1013.5V1007.5H1578.1V1013.5" fill="none" stroke="#111" stroke-width="1.1"/>
<text x="1551.8" y="1009.5" font-size="21.5" text-anchor="middle" letter-spacing="2">**</text>
<rect x="1732.9" y="951.3" width="120.5" height="351.7" fill="#fff" stroke="#555" stroke-width="1.2"/>
<rect x="1732.9" y="911.1" width="120.5" height="40.2" fill="#d9d9d9" stroke="#333" stroke-width="1.2"/>
<text x="1793.1" y="940" font-size="24.4" text-anchor="middle" font-weight="bold">HAVCR2</text>
<line x1="1727.4" y1="1048.9" x2="1732.9" y2="1048.9" stroke="#333" stroke-width="1.1"/>
<text x="1714.9" y="1057.7" font-size="24.6" text-anchor="end">1000</text>
<line x1="1727.4" y1="1174.8" x2="1732.9" y2="1174.8" stroke="#333" stroke-width="1.1"/>
<text x="1714.9" y="1183.6" font-size="24.6" text-anchor="end">500</text>
<line x1="1727.4" y1="1300.7" x2="1732.9" y2="1300.7" stroke="#333" stroke-width="1.1"/>
<text x="1714.9" y="1309.5" font-size="24.6" text-anchor="end">0</text>
<line x1="1765.9" y1="1257.1" x2="1765.9" y2="1270.9" stroke="#4a5aa8" stroke-width="1.2"/>
<line x1="1765.9" y1="1283.1" x2="1765.9" y2="1288.5" stroke="#4a5aa8" stroke-width="1.2"/>
<rect x="1745.1" y="1270.9" width="41.7" height="12.2" fill="#98a3cb" stroke="#4a5aa8" stroke-width="1.2"/>
<line x1="1745.1" y1="1276.7" x2="1786.7" y2="1276.7" stroke="#4a5aa8" stroke-width="2.0"/>
<path d="M1773.3 1250.1h0M1745.4 1255.8h0M1747.6 1269.3h0M1754.1 1271.5h0M1784.5 1266.7h0M1781.3 1270.9h0M1766.9 1278.9h0M1757.3 1280.5h0M1775.5 1281.2h0M1784.5 1281.2h0M1751.8 1285.3h0M1765.3 1285.3h0M1778.1 1288.5h0M1781.3 1290.1h0M1758.9 1277.3h0" stroke="#32479a" stroke-width="9.2" stroke-linecap="round" fill="none"/>
<line x1="1820.5" y1="1190.2" x2="1820.5" y2="1233.4" stroke="#ff1a1a" stroke-width="1.2"/>
<line x1="1820.5" y1="1273.1" x2="1820.5" y2="1282.1" stroke="#ff1a1a" stroke-width="1.2"/>
<rect x="1799.9" y="1233.4" width="41.3" height="39.7" fill="#ff8080" stroke="#ff1a1a" stroke-width="1.2"/>
<line x1="1799.9" y1="1261.9" x2="1841.2" y2="1261.9" stroke="#ff1a1a" stroke-width="2.0"/>
<path d="M1827.7 1021h0M1810.1 1165.2h0M1806 1190.2h0M1834.2 1221.2h0M1838.3 1219h0M1811.7 1233.4h0M1813.3 1243h0M1838 1242.1h0M1811.1 1250.1h0M1798.9 1264.5h0M1826.1 1262.2h0M1834.8 1261.3h0M1839 1267.7h0M1802.1 1272.5h0M1810.1 1271.5h0M1818.1 1276.7h0M1805.3 1279.9h0M1814.9 1278.3h0M1824.5 1279.9h0M1837.4 1281.5h0M1799.9 1277.3h0" stroke="#ff0000" stroke-width="9.2" stroke-linecap="round" fill="none"/>
<text x="1763.7" y="1333.2" font-size="24.6" text-anchor="middle">No</text>
<text x="1818.9" y="1333.2" font-size="24.6" text-anchor="middle">Yes</text>
<text x="1793.1" y="981.8" font-size="20.7" text-anchor="middle"><tspan font-style="italic">p</tspan> = 0.001</text>
<path d="M1765.9 1013.5V1007.5H1820.5V1013.5" fill="none" stroke="#111" stroke-width="1.1"/>
<text x="1794.2" y="1009.5" font-size="21.5" text-anchor="middle" letter-spacing="2">**</text>
<line x1="1909.1" y1="516.3" x2="1909.1" y2="552.8" stroke="#4a5aa8" stroke-width="1.2"/>
<rect x="1891.8" y="523.3" width="34.6" height="22.4" fill="#fff" stroke="#4a5aa8" stroke-width="1.2"/>
<line x1="1891.8" y1="534.8" x2="1926.4" y2="534.8" stroke="#4a5aa8" stroke-width="1.2"/>
<circle cx="1909.1" cy="534.8" r="4.6" fill="#32479a"/>
<text x="1936.7" y="544.2" font-size="24.6">No</text>
<line x1="1909.1" y1="561.8" x2="1909.1" y2="598.6" stroke="#ff1a1a" stroke-width="1.2"/>
<rect x="1891.8" y="569.1" width="34.6" height="22.5" fill="#fff" stroke="#ff1a1a" stroke-width="1.2"/>
<line x1="1891.8" y1="580.3" x2="1926.4" y2="580.3" stroke="#ff1a1a" stroke-width="1.2"/>
<circle cx="1909.1" cy="580.3" r="4.6" fill="#ff0000"/>
<text x="1936.7" y="589.2" font-size="24.6">Yes</text>
<text x="941" y="31.3" font-size="43" font-weight="bold">b</text>
<rect x="79.3" y="814" width="16.9" height="37.6" fill="#f8ecec"/>
<rect x="95.8" y="814" width="16.9" height="37.6" fill="#e0e5f5"/>
<rect x="112.3" y="814" width="16.9" height="37.6" fill="#f8f8fa"/>
<rect x="128.9" y="814" width="16.9" height="37.6" fill="#e8eaf6"/>
<rect x="145.4" y="814" width="16.9" height="37.6" fill="#f8f8fa"/>
<rect x="161.9" y="814" width="16.9" height="37.6" fill="#e0e5f5"/>
<rect x="178.4" y="814" width="16.9" height="37.6" fill="#e8eaf6"/>
<rect x="194.9" y="814" width="16.9" height="37.6" fill="#e0e5f5"/>
<rect x="211.5" y="814" width="16.9" height="37.6" fill="#e0e5f5"/>
<rect x="228" y="814" width="16.9" height="37.6" fill="#f8f8fa"/>
<rect x="244.5" y="814" width="16.9" height="37.6" fill="#e0e5f5"/>
<rect x="261" y="814" width="16.9" height="37.6" fill="#eef1fa"/>
<rect x="277.5" y="814" width="16.9" height="37.6" fill="#e0e5f5"/>
<rect x="294.1" y="814" width="16.9" height="37.6" fill="#e8eaf6"/>
<rect x="310.6" y="814" width="16.9" height="37.6" fill="#f8f8fa"/>
<rect x="327.1" y="814" width="16.9" height="37.6" fill="#e0e5f5"/>
<rect x="348.6" y="814" width="16.9" height="37.6" fill="#e0e5f5"/>
<rect x="365.1" y="814" width="16.9" height="37.6" fill="#e8eaf6"/>
<rect x="381.6" y="814" width="16.9" height="37.6" fill="#f8ecec"/>
<rect x="398.2" y="814" width="16.9" height="37.6" fill="#e8eaf6"/>
<rect x="414.7" y="814" width="16.9" height="37.6" fill="#f5e1e2"/>
<rect x="431.2" y="814" width="16.9" height="37.6" fill="#e0e5f5"/>
<rect x="447.7" y="814" width="16.9" height="37.6" fill="#f9f6f6"/>
<rect x="464.2" y="814" width="16.9" height="37.6" fill="#e0e5f5"/>
<rect x="480.8" y="814" width="16.9" height="37.6" fill="#efc0c1"/>
<rect x="497.3" y="814" width="16.9" height="37.6" fill="#f8ecec"/>
<rect x="513.8" y="814" width="16.9" height="37.6" fill="#dd6c6e"/>
<rect x="530.3" y="814" width="16.9" height="37.6" fill="#f5e1e2"/>
<rect x="546.8" y="814" width="16.9" height="37.6" fill="#e0e5f5"/>
<rect x="563.4" y="814" width="16.9" height="37.6" fill="#f8f8fa"/>
<rect x="579.9" y="814" width="16.9" height="37.6" fill="#f9f6f6"/>
<rect x="596.4" y="814" width="16.9" height="37.6" fill="#efc0c1"/>
<rect x="612.9" y="814" width="16.9" height="37.6" fill="#f9f6f6"/>
<rect x="629.4" y="814" width="16.9" height="37.6" fill="#f5e1e2"/>
<rect x="646" y="814" width="16.9" height="37.6" fill="#ebb3b4"/>
<rect x="662.5" y="814" width="16.9" height="37.6" fill="#efc0c1"/>
<rect x="679" y="814" width="16.9" height="37.6" fill="#f9f6f6"/>
<text x="703.6" y="838.6" font-size="16.5" font-weight="bold">BST2</text>
<rect x="79.3" y="851.2" width="16.9" height="37.6" fill="#f9f6f6"/>
<rect x="95.8" y="851.2" width="16.9" height="37.6" fill="#eef1fa"/>
<rect x="112.3" y="851.2" width="16.9" height="37.6" fill="#d9def2"/>
<rect x="128.9" y="851.2" width="16.9" height="37.6" fill="#d9def2"/>
<rect x="145.4" y="851.2" width="16.9" height="37.6" fill="#e0e5f5"/>
<rect x="161.9" y="851.2" width="16.9" height="37.6" fill="#e0e5f5"/>
<rect x="178.4" y="851.2" width="16.9" height="37.6" fill="#f8f8fa"/>
<rect x="194.9" y="851.2" width="16.9" height="37.6" fill="#e0e5f5"/>
<rect x="211.5" y="851.2" width="16.9" height="37.6" fill="#f8ecec"/>
<rect x="228" y="851.2" width="16.9" height="37.6" fill="#ebb3b4"/>
<rect x="244.5" y="851.2" width="16.9" height="37.6" fill="#d9def2"/>
<rect x="261" y="851.2" width="16.9" height="37.6" fill="#e8eaf6"/>
<rect x="277.5" y="851.2" width="16.9" height="37.6" fill="#e0e5f5"/>
<rect x="294.1" y="851.2" width="16.9" height="37.6" fill="#e0e5f5"/>
<rect x="310.6" y="851.2" width="16.9" height="37.6" fill="#e0e5f5"/>
<rect x="327.1" y="851.2" width="16.9" height="37.6" fill="#d9def2"/>
<rect x="348.6" y="851.2" width="16.9" height="37.6" fill="#e8eaf6"/>
<rect x="365.1" y="851.2" width="16.9" height="37.6" fill="#eef1fa"/>
<rect x="381.6" y="851.2" width="16.9" height="37.6" fill="#f5e1e2"/>
<rect x="398.2" y="851.2" width="16.9" height="37.6" fill="#e0e5f5"/>
<rect x="414.7" y="851.2" width="16.9" height="37.6" fill="#ebb3b4"/>
<rect x="431.2" y="851.2" width="16.9" height="37.6" fill="#e0e5f5"/>
<rect x="447.7" y="851.2" width="16.9" height="37.6" fill="#f5e1e2"/>
<rect x="464.2" y="851.2" width="16.9" height="37.6" fill="#f8f8fa"/>
<rect x="480.8" y="851.2" width="16.9" height="37.6" fill="#f2d2d4"/>
<rect x="497.3" y="851.2" width="16.9" height="37.6" fill="#e38a8d"/>
<rect x="513.8" y="851.2" width="16.9" height="37.6" fill="#e8a3a4"/>
<rect x="530.3" y="851.2" width="16.9" height="37.6" fill="#e8eaf6"/>
<rect x="546.8" y="851.2" width="16.9" height="37.6" fill="#f8f8fa"/>
<rect x="563.4" y="851.2" width="16.9" height="37.6" fill="#eef1fa"/>
<rect x="579.9" y="851.2" width="16.9" height="37.6" fill="#f5e1e2"/>
<rect x="596.4" y="851.2" width="16.9" height="37.6" fill="#f9f6f6"/>
<rect x="612.9" y="851.2" width="16.9" height="37.6" fill="#f8ecec"/>
<rect x="629.4" y="851.2" width="16.9" height="37.6" fill="#f9f6f6"/>
<rect x="646" y="851.2" width="16.9" height="37.6" fill="#f8f8fa"/>
<rect x="662.5" y="851.2" width="16.9" height="37.6" fill="#f8ecec"/>
<rect x="679" y="851.2" width="16.9" height="37.6" fill="#f8f8fa"/>
<text x="703.6" y="875.9" font-size="16.5" font-weight="bold">CD3D</text>
<rect x="79.3" y="888.5" width="16.9" height="37.6" fill="#f9f6f6"/>
<rect x="95.8" y="888.5" width="16.9" height="37.6" fill="#eef1fa"/>
<rect x="112.3" y="888.5" width="16.9" height="37.6" fill="#d9def2"/>
<rect x="128.9" y="888.5" width="16.9" height="37.6" fill="#f2d2d4"/>
<rect x="145.4" y="888.5" width="16.9" height="37.6" fill="#f8ecec"/>
<rect x="161.9" y="888.5" width="16.9" height="37.6" fill="#e0e5f5"/>
<rect x="178.4" y="888.5" width="16.9" height="37.6" fill="#eef1fa"/>
<rect x="194.9" y="888.5" width="16.9" height="37.6" fill="#d9def2"/>
<rect x="211.5" y="888.5" width="16.9" height="37.6" fill="#f8f8fa"/>
<rect x="228" y="888.5" width="16.9" height="37.6" fill="#f5e1e2"/>
<rect x="244.5" y="888.5" width="16.9" height="37.6" fill="#f9f6f6"/>
<rect x="261" y="888.5" width="16.9" height="37.6" fill="#e8eaf6"/>
<rect x="277.5" y="888.5" width="16.9" height="37.6" fill="#e0e5f5"/>
<rect x="294.1" y="888.5" width="16.9" height="37.6" fill="#e0e5f5"/>
<rect x="310.6" y="888.5" width="16.9" height="37.6" fill="#d9def2"/>
<rect x="327.1" y="888.5" width="16.9" height="37.6" fill="#d9def2"/>
<rect x="348.6" y="888.5" width="16.9" height="37.6" fill="#eef1fa"/>
<rect x="365.1" y="888.5" width="16.9" height="37.6" fill="#f8f8fa"/>
<rect x="381.6" y="888.5" width="16.9" height="37.6" fill="#f8f8fa"/>
<rect x="398.2" y="888.5" width="16.9" height="37.6" fill="#eef1fa"/>
<rect x="414.7" y="888.5" width="16.9" height="37.6" fill="#dd6c6e"/>
<rect x="431.2" y="888.5" width="16.9" height="37.6" fill="#e0e5f5"/>
<rect x="447.7" y="888.5" width="16.9" height="37.6" fill="#e8a3a4"/>
<rect x="464.2" y="888.5" width="16.9" height="37.6" fill="#f9f6f6"/>
<rect x="480.8" y="888.5" width="16.9" height="37.6" fill="#eef1fa"/>
<rect x="497.3" y="888.5" width="16.9" height="37.6" fill="#f2d2d4"/>
<rect x="513.8" y="888.5" width="16.9" height="37.6" fill="#f8ecec"/>
<rect x="530.3" y="888.5" width="16.9" height="37.6" fill="#e0e5f5"/>
<rect x="546.8" y="888.5" width="16.9" height="37.6" fill="#e8eaf6"/>
<rect x="563.4" y="888.5" width="16.9" height="37.6" fill="#f9f6f6"/>
<rect x="579.9" y="888.5" width="16.9" height="37.6" fill="#f8f8fa"/>
<rect x="596.4" y="888.5" width="16.9" height="37.6" fill="#f5e1e2"/>
<rect x="612.9" y="888.5" width="16.9" height="37.6" fill="#f9f6f6"/>
<rect x="629.4" y="888.5" width="16.9" height="37.6" fill="#f5e1e2"/>
<rect x="646" y="888.5" width="16.9" height="37.6" fill="#f9f6f6"/>
<rect x="662.5" y="888.5" width="16.9" height="37.6" fill="#e8eaf6"/>
<rect x="679" y="888.5" width="16.9" height="37.6" fill="#f9f6f6"/>
<text x="703.6" y="913.1" font-size="16.5" font-weight="bold">CD8B</text>
<rect x="79.3" y="925.8" width="16.9" height="37.6" fill="#f5e1e2"/>
<rect x="95.8" y="925.8" width="16.9" height="37.6" fill="#f9f6f6"/>
<rect x="112.3" y="925.8" width="16.9" height="37.6" fill="#e0e5f5"/>
<rect x="128.9" y="925.8" width="16.9" height="37.6" fill="#e8eaf6"/>
<rect x="145.4" y="925.8" width="16.9" height="37.6" fill="#eef1fa"/>
<rect x="161.9" y="925.8" width="16.9" height="37.6" fill="#e8eaf6"/>
<rect x="178.4" y="925.8" width="16.9" height="37.6" fill="#f8f8fa"/>
<rect x="194.9" y="925.8" width="16.9" height="37.6" fill="#e8eaf6"/>
<rect x="211.5" y="925.8" width="16.9" height="37.6" fill="#f8f8fa"/>
<rect x="228" y="925.8" width="16.9" height="37.6" fill="#e0e5f5"/>
<rect x="244.5" y="925.8" width="16.9" height="37.6" fill="#e8eaf6"/>
<rect x="261" y="925.8" width="16.9" height="37.6" fill="#eef1fa"/>
<rect x="277.5" y="925.8" width="16.9" height="37.6" fill="#e8eaf6"/>
<rect x="294.1" y="925.8" width="16.9" height="37.6" fill="#eef1fa"/>
<rect x="310.6" y="925.8" width="16.9" height="37.6" fill="#e8eaf6"/>
<rect x="327.1" y="925.8" width="16.9" height="37.6" fill="#e8eaf6"/>
<rect x="348.6" y="925.8" width="16.9" height="37.6" fill="#e8eaf6"/>
<rect x="365.1" y="925.8" width="16.9" height="37.6" fill="#f9f6f6"/>
<rect x="381.6" y="925.8" width="16.9" height="37.6" fill="#f9f6f6"/>
<rect x="398.2" y="925.8" width="16.9" height="37.6" fill="#f8f8fa"/>
<rect x="414.7" y="925.8" width="16.9" height="37.6" fill="#d45052"/>
<rect x="431.2" y="925.8" width="16.9" height="37.6" fill="#e8eaf6"/>
<rect x="447.7" y="925.8" width="16.9" height="37.6" fill="#e8a3a4"/>
<rect x="464.2" y="925.8" width="16.9" height="37.6" fill="#f2d2d4"/>
<rect x="480.8" y="925.8" width="16.9" height="37.6" fill="#f9f6f6"/>
<rect x="497.3" y="925.8" width="16.9" height="37.6" fill="#f8ecec"/>
<rect x="513.8" y="925.8" width="16.9" height="37.6" fill="#f8ecec"/>
<rect x="530.3" y="925.8" width="16.9" height="37.6" fill="#eef1fa"/>
<rect x="546.8" y="925.8" width="16.9" height="37.6" fill="#e0e5f5"/>
<rect x="563.4" y="925.8" width="16.9" height="37.6" fill="#e8eaf6"/>
<rect x="579.9" y="925.8" width="16.9" height="37.6" fill="#e8eaf6"/>
<rect x="596.4" y="925.8" width="16.9" height="37.6" fill="#eef1fa"/>
<rect x="612.9" y="925.8" width="16.9" height="37.6" fill="#f5e1e2"/>
<rect x="629.4" y="925.8" width="16.9" height="37.6" fill="#f5e1e2"/>
<rect x="646" y="925.8" width="16.9" height="37.6" fill="#f8ecec"/>
<rect x="662.5" y="925.8" width="16.9" height="37.6" fill="#f8f8fa"/>
<rect x="679" y="925.8" width="16.9" height="37.6" fill="#f8f8fa"/>
<text x="703.6" y="950.4" font-size="16.5" font-weight="bold">FASLG</text>
<rect x="79.3" y="963" width="16.9" height="37.6" fill="#f5e1e2"/>
<rect x="95.8" y="963" width="16.9" height="37.6" fill="#f8f8fa"/>
<rect x="112.3" y="963" width="16.9" height="37.6" fill="#e0e5f5"/>
<rect x="128.9" y="963" width="16.9" height="37.6" fill="#e0e5f5"/>
<rect x="145.4" y="963" width="16.9" height="37.6" fill="#eef1fa"/>
<rect x="161.9" y="963" width="16.9" height="37.6" fill="#e0e5f5"/>
<rect x="178.4" y="963" width="16.9" height="37.6" fill="#f9f6f6"/>
<rect x="194.9" y="963" width="16.9" height="37.6" fill="#e8eaf6"/>
<rect x="211.5" y="963" width="16.9" height="37.6" fill="#eef1fa"/>
<rect x="228" y="963" width="16.9" height="37.6" fill="#f8f8fa"/>
<rect x="244.5" y="963" width="16.9" height="37.6" fill="#e0e5f5"/>
<rect x="261" y="963" width="16.9" height="37.6" fill="#eef1fa"/>
<rect x="277.5" y="963" width="16.9" height="37.6" fill="#e8eaf6"/>
<rect x="294.1" y="963" width="16.9" height="37.6" fill="#eef1fa"/>
<rect x="310.6" y="963" width="16.9" height="37.6" fill="#e8eaf6"/>
<rect x="327.1" y="963" width="16.9" height="37.6" fill="#e8eaf6"/>
<rect x="348.6" y="963" width="16.9" height="37.6" fill="#e0e5f5"/>
<rect x="365.1" y="963" width="16.9" height="37.6" fill="#eef1fa"/>
<rect x="381.6" y="963" width="16.9" height="37.6" fill="#f9f6f6"/>
<rect x="398.2" y="963" width="16.9" height="37.6" fill="#f8f8fa"/>
<rect x="414.7" y="963" width="16.9" height="37.6" fill="#dd6c6e"/>
<rect x="431.2" y="963" width="16.9" height="37.6" fill="#e0e5f5"/>
<rect x="447.7" y="963" width="16.9" height="37.6" fill="#e38a8d"/>
<rect x="464.2" y="963" width="16.9" height="37.6" fill="#f2d2d4"/>
<rect x="480.8" y="963" width="16.9" height="37.6" fill="#f8ecec"/>
<rect x="497.3" y="963" width="16.9" height="37.6" fill="#f9f6f6"/>
<rect x="513.8" y="963" width="16.9" height="37.6" fill="#f9f6f6"/>
<rect x="530.3" y="963" width="16.9" height="37.6" fill="#e8eaf6"/>
<rect x="546.8" y="963" width="16.9" height="37.6" fill="#eef1fa"/>
<rect x="563.4" y="963" width="16.9" height="37.6" fill="#eef1fa"/>
<rect x="579.9" y="963" width="16.9" height="37.6" fill="#eef1fa"/>
<rect x="596.4" y="963" width="16.9" height="37.6" fill="#eef1fa"/>
<rect x="612.9" y="963" width="16.9" height="37.6" fill="#f8f8fa"/>
<rect x="629.4" y="963" width="16.9" height="37.6" fill="#f5e1e2"/>
<rect x="646" y="963" width="16.9" height="37.6" fill="#f5e1e2"/>
<rect x="662.5" y="963" width="16.9" height="37.6" fill="#f9f6f6"/>
<rect x="679" y="963" width="16.9" height="37.6" fill="#f8ecec"/>
<text x="703.6" y="987.6" font-size="16.5" font-weight="bold">CCR5</text>
<rect x="79.3" y="1000.2" width="16.9" height="37.6" fill="#f9f6f6"/>
<rect x="95.8" y="1000.2" width="16.9" height="37.6" fill="#f8f8fa"/>
<rect x="112.3" y="1000.2" width="16.9" height="37.6" fill="#d9def2"/>
<rect x="128.9" y="1000.2" width="16.9" height="37.6" fill="#d9def2"/>
<rect x="145.4" y="1000.2" width="16.9" height="37.6" fill="#e8eaf6"/>
<rect x="161.9" y="1000.2" width="16.9" height="37.6" fill="#e8eaf6"/>
<rect x="178.4" y="1000.2" width="16.9" height="37.6" fill="#eef1fa"/>
<rect x="194.9" y="1000.2" width="16.9" height="37.6" fill="#d9def2"/>
<rect x="211.5" y="1000.2" width="16.9" height="37.6" fill="#eef1fa"/>
<rect x="228" y="1000.2" width="16.9" height="37.6" fill="#f5e1e2"/>
<rect x="244.5" y="1000.2" width="16.9" height="37.6" fill="#d9def2"/>
<rect x="261" y="1000.2" width="16.9" height="37.6" fill="#e8eaf6"/>
<rect x="277.5" y="1000.2" width="16.9" height="37.6" fill="#e0e5f5"/>
<rect x="294.1" y="1000.2" width="16.9" height="37.6" fill="#e0e5f5"/>
<rect x="310.6" y="1000.2" width="16.9" height="37.6" fill="#e0e5f5"/>
<rect x="327.1" y="1000.2" width="16.9" height="37.6" fill="#d9def2"/>
<rect x="348.6" y="1000.2" width="16.9" height="37.6" fill="#e0e5f5"/>
<rect x="365.1" y="1000.2" width="16.9" height="37.6" fill="#f9f6f6"/>
<rect x="381.6" y="1000.2" width="16.9" height="37.6" fill="#f8f8fa"/>
<rect x="398.2" y="1000.2" width="16.9" height="37.6" fill="#e0e5f5"/>
<rect x="414.7" y="1000.2" width="16.9" height="37.6" fill="#e8a3a4"/>
<rect x="431.2" y="1000.2" width="16.9" height="37.6" fill="#d9def2"/>
<rect x="447.7" y="1000.2" width="16.9" height="37.6" fill="#e8a3a4"/>
<rect x="464.2" y="1000.2" width="16.9" height="37.6" fill="#f8ecec"/>
<rect x="480.8" y="1000.2" width="16.9" height="37.6" fill="#efc0c1"/>
<rect x="497.3" y="1000.2" width="16.9" height="37.6" fill="#e8a3a4"/>
<rect x="513.8" y="1000.2" width="16.9" height="37.6" fill="#f2d2d4"/>
<rect x="530.3" y="1000.2" width="16.9" height="37.6" fill="#f8f8fa"/>
<rect x="546.8" y="1000.2" width="16.9" height="37.6" fill="#f8f8fa"/>
<rect x="563.4" y="1000.2" width="16.9" height="37.6" fill="#e0e5f5"/>
<rect x="579.9" y="1000.2" width="16.9" height="37.6" fill="#f2d2d4"/>
<rect x="596.4" y="1000.2" width="16.9" height="37.6" fill="#f8f8fa"/>
<rect x="612.9" y="1000.2" width="16.9" height="37.6" fill="#f5e1e2"/>
<rect x="629.4" y="1000.2" width="16.9" height="37.6" fill="#f8ecec"/>
<rect x="646" y="1000.2" width="16.9" height="37.6" fill="#f2d2d4"/>
<rect x="662.5" y="1000.2" width="16.9" height="37.6" fill="#efc0c1"/>
<rect x="679" y="1000.2" width="16.9" height="37.6" fill="#eef1fa"/>
<text x="703.6" y="1024.9" font-size="16.5" font-weight="bold">GZMB</text>
<rect x="79.3" y="1037.5" width="16.9" height="37.6" fill="#f9f6f6"/>
<rect x="95.8" y="1037.5" width="16.9" height="37.6" fill="#eef1fa"/>
<rect x="112.3" y="1037.5" width="16.9" height="37.6" fill="#d9def2"/>
<rect x="128.9" y="1037.5" width="16.9" height="37.6" fill="#e0e5f5"/>
<rect x="145.4" y="1037.5" width="16.9" height="37.6" fill="#eef1fa"/>
<rect x="161.9" y="1037.5" width="16.9" height="37.6" fill="#f9f6f6"/>
<rect x="178.4" y="1037.5" width="16.9" height="37.6" fill="#e8eaf6"/>
<rect x="194.9" y="1037.5" width="16.9" height="37.6" fill="#e0e5f5"/>
<rect x="211.5" y="1037.5" width="16.9" height="37.6" fill="#f8f8fa"/>
<rect x="228" y="1037.5" width="16.9" height="37.6" fill="#f2d2d4"/>
<rect x="244.5" y="1037.5" width="16.9" height="37.6" fill="#e0e5f5"/>
<rect x="261" y="1037.5" width="16.9" height="37.6" fill="#e8eaf6"/>
<rect x="277.5" y="1037.5" width="16.9" height="37.6" fill="#e0e5f5"/>
<rect x="294.1" y="1037.5" width="16.9" height="37.6" fill="#e0e5f5"/>
<rect x="310.6" y="1037.5" width="16.9" height="37.6" fill="#e0e5f5"/>
<rect x="327.1" y="1037.5" width="16.9" height="37.6" fill="#d9def2"/>
<rect x="348.6" y="1037.5" width="16.9" height="37.6" fill="#e8eaf6"/>
<rect x="365.1" y="1037.5" width="16.9" height="37.6" fill="#eef1fa"/>
<rect x="381.6" y="1037.5" width="16.9" height="37.6" fill="#e0e5f5"/>
<rect x="398.2" y="1037.5" width="16.9" height="37.6" fill="#e0e5f5"/>
<rect x="414.7" y="1037.5" width="16.9" height="37.6" fill="#efc0c1"/>
<rect x="431.2" y="1037.5" width="16.9" height="37.6" fill="#e0e5f5"/>
<rect x="447.7" y="1037.5" width="16.9" height="37.6" fill="#f5e1e2"/>
<rect x="464.2" y="1037.5" width="16.9" height="37.6" fill="#f8ecec"/>
<rect x="480.8" y="1037.5" width="16.9" height="37.6" fill="#e8a3a4"/>
<rect x="497.3" y="1037.5" width="16.9" height="37.6" fill="#f2d2d4"/>
<rect x="513.8" y="1037.5" width="16.9" height="37.6" fill="#dd6c6e"/>
<rect x="530.3" y="1037.5" width="16.9" height="37.6" fill="#f8f8fa"/>
<rect x="546.8" y="1037.5" width="16.9" height="37.6" fill="#f9f6f6"/>
<rect x="563.4" y="1037.5" width="16.9" height="37.6" fill="#e8eaf6"/>
<rect x="579.9" y="1037.5" width="16.9" height="37.6" fill="#f2d2d4"/>
<rect x="596.4" y="1037.5" width="16.9" height="37.6" fill="#f8f8fa"/>
<rect x="612.9" y="1037.5" width="16.9" height="37.6" fill="#f9f6f6"/>
<rect x="629.4" y="1037.5" width="16.9" height="37.6" fill="#eef1fa"/>
<rect x="646" y="1037.5" width="16.9" height="37.6" fill="#f5e1e2"/>
<rect x="662.5" y="1037.5" width="16.9" height="37.6" fill="#efc0c1"/>
<rect x="679" y="1037.5" width="16.9" height="37.6" fill="#e8eaf6"/>
<text x="703.6" y="1062.1" font-size="16.5" font-weight="bold">GNLY</text>
<rect x="79.3" y="1074.8" width="16.9" height="37.6" fill="#f9f6f6"/>
<rect x="95.8" y="1074.8" width="16.9" height="37.6" fill="#f8f8fa"/>
<rect x="112.3" y="1074.8" width="16.9" height="37.6" fill="#eef1fa"/>
<rect x="128.9" y="1074.8" width="16.9" height="37.6" fill="#eef1fa"/>
<rect x="145.4" y="1074.8" width="16.9" height="37.6" fill="#f8f8fa"/>
<rect x="161.9" y="1074.8" width="16.9" height="37.6" fill="#eef1fa"/>
<rect x="178.4" y="1074.8" width="16.9" height="37.6" fill="#f8f8fa"/>
<rect x="194.9" y="1074.8" width="16.9" height="37.6" fill="#eef1fa"/>
<rect x="211.5" y="1074.8" width="16.9" height="37.6" fill="#eef1fa"/>
<rect x="228" y="1074.8" width="16.9" height="37.6" fill="#eef1fa"/>
<rect x="244.5" y="1074.8" width="16.9" height="37.6" fill="#eef1fa"/>
<rect x="261" y="1074.8" width="16.9" height="37.6" fill="#eef1fa"/>
<rect x="277.5" y="1074.8" width="16.9" height="37.6" fill="#eef1fa"/>
<rect x="294.1" y="1074.8" width="16.9" height="37.6" fill="#eef1fa"/>
<rect x="310.6" y="1074.8" width="16.9" height="37.6" fill="#eef1fa"/>
<rect x="327.1" y="1074.8" width="16.9" height="37.6" fill="#eef1fa"/>
<rect x="348.6" y="1074.8" width="16.9" height="37.6" fill="#eef1fa"/>
<rect x="365.1" y="1074.8" width="16.9" height="37.6" fill="#f8f8fa"/>
<rect x="381.6" y="1074.8" width="16.9" height="37.6" fill="#eef1fa"/>
<rect x="398.2" y="1074.8" width="16.9" height="37.6" fill="#eef1fa"/>
<rect x="414.7" y="1074.8" width="16.9" height="37.6" fill="#efc0c1"/>
<rect x="431.2" y="1074.8" width="16.9" height="37.6" fill="#eef1fa"/>
<rect x="447.7" y="1074.8" width="16.9" height="37.6" fill="#cc2e31"/>
<rect x="464.2" y="1074.8" width="16.9" height="37.6" fill="#f2d2d4"/>
<rect x="480.8" y="1074.8" width="16.9" height="37.6" fill="#f8f8fa"/>
<rect x="497.3" y="1074.8" width="16.9" height="37.6" fill="#eef1fa"/>
<rect x="513.8" y="1074.8" width="16.9" height="37.6" fill="#f8f8fa"/>
<rect x="530.3" y="1074.8" width="16.9" height="37.6" fill="#eef1fa"/>
<rect x="546.8" y="1074.8" width="16.9" height="37.6" fill="#eef1fa"/>
<rect x="563.4" y="1074.8" width="16.9" height="37.6" fill="#f8f8fa"/>
<rect x="579.9" y="1074.8" width="16.9" height="37.6" fill="#f8f8fa"/>
<rect x="596.4" y="1074.8" width="16.9" height="37.6" fill="#eef1fa"/>
<rect x="612.9" y="1074.8" width="16.9" height="37.6" fill="#f8f8fa"/>
<rect x="629.4" y="1074.8" width="16.9" height="37.6" fill="#f8f8fa"/>
<rect x="646" y="1074.8" width="16.9" height="37.6" fill="#f8f8fa"/>
<rect x="662.5" y="1074.8" width="16.9" height="37.6" fill="#f9f6f6"/>
<rect x="679" y="1074.8" width="16.9" height="37.6" fill="#f8f8fa"/>
<text x="703.6" y="1099.4" font-size="16.5" font-weight="bold">CXCL9</text>
<rect x="79.3" y="1112" width="16.9" height="37.6" fill="#f9f6f6"/>
<rect x="95.8" y="1112" width="16.9" height="37.6" fill="#eef1fa"/>
<rect x="112.3" y="1112" width="16.9" height="37.6" fill="#eef1fa"/>
<rect x="128.9" y="1112" width="16.9" height="37.6" fill="#eef1fa"/>
<rect x="145.4" y="1112" width="16.9" height="37.6" fill="#f8f8fa"/>
<rect x="161.9" y="1112" width="16.9" height="37.6" fill="#eef1fa"/>
<rect x="178.4" y="1112" width="16.9" height="37.6" fill="#f8f8fa"/>
<rect x="194.9" y="1112" width="16.9" height="37.6" fill="#eef1fa"/>
<rect x="211.5" y="1112" width="16.9" height="37.6" fill="#eef1fa"/>
<rect x="228" y="1112" width="16.9" height="37.6" fill="#eef1fa"/>
<rect x="244.5" y="1112" width="16.9" height="37.6" fill="#eef1fa"/>
<rect x="261" y="1112" width="16.9" height="37.6" fill="#f8f8fa"/>
<rect x="277.5" y="1112" width="16.9" height="37.6" fill="#eef1fa"/>
<rect x="294.1" y="1112" width="16.9" height="37.6" fill="#f8f8fa"/>
<rect x="310.6" y="1112" width="16.9" height="37.6" fill="#eef1fa"/>
<rect x="327.1" y="1112" width="16.9" height="37.6" fill="#eef1fa"/>
<rect x="348.6" y="1112" width="16.9" height="37.6" fill="#eef1fa"/>
<rect x="365.1" y="1112" width="16.9" height="37.6" fill="#f8f8fa"/>
<rect x="381.6" y="1112" width="16.9" height="37.6" fill="#eef1fa"/>
<rect x="398.2" y="1112" width="16.9" height="37.6" fill="#eef1fa"/>
<rect x="414.7" y="1112" width="16.9" height="37.6" fill="#f5e1e2"/>
<rect x="431.2" y="1112" width="16.9" height="37.6" fill="#eef1fa"/>
<rect x="447.7" y="1112" width="16.9" height="37.6" fill="#c82226"/>
<rect x="464.2" y="1112" width="16.9" height="37.6" fill="#f8ecec"/>
<rect x="480.8" y="1112" width="16.9" height="37.6" fill="#f8f8fa"/>
<rect x="497.3" y="1112" width="16.9" height="37.6" fill="#eef1fa"/>
<rect x="513.8" y="1112" width="16.9" height="37.6" fill="#f8f8fa"/>
<rect x="530.3" y="1112" width="16.9" height="37.6" fill="#eef1fa"/>
<rect x="546.8" y="1112" width="16.9" height="37.6" fill="#eef1fa"/>
<rect x="563.4" y="1112" width="16.9" height="37.6" fill="#f8f8fa"/>
<rect x="579.9" y="1112" width="16.9" height="37.6" fill="#f8f8fa"/>
<rect x="596.4" y="1112" width="16.9" height="37.6" fill="#f8f8fa"/>
<rect x="612.9" y="1112" width="16.9" height="37.6" fill="#f9f6f6"/>
<rect x="629.4" y="1112" width="16.9" height="37.6" fill="#f8f8fa"/>
<rect x="646" y="1112" width="16.9" height="37.6" fill="#f9f6f6"/>
<rect x="662.5" y="1112" width="16.9" height="37.6" fill="#f9f6f6"/>
<rect x="679" y="1112" width="16.9" height="37.6" fill="#f8f8fa"/>
<text x="703.6" y="1136.6" font-size="16.5" font-weight="bold">CXCL10</text>
<rect x="79.3" y="1149.2" width="16.9" height="37.6" fill="#f8f8fa"/>
<rect x="95.8" y="1149.2" width="16.9" height="37.6" fill="#f8f8fa"/>
<rect x="112.3" y="1149.2" width="16.9" height="37.6" fill="#eef1fa"/>
<rect x="128.9" y="1149.2" width="16.9" height="37.6" fill="#eef1fa"/>
<rect x="145.4" y="1149.2" width="16.9" height="37.6" fill="#f8f8fa"/>
<rect x="161.9" y="1149.2" width="16.9" height="37.6" fill="#eef1fa"/>
<rect x="178.4" y="1149.2" width="16.9" height="37.6" fill="#f8f8fa"/>
<rect x="194.9" y="1149.2" width="16.9" height="37.6" fill="#eef1fa"/>
<rect x="211.5" y="1149.2" width="16.9" height="37.6" fill="#eef1fa"/>
<rect x="228" y="1149.2" width="16.9" height="37.6" fill="#eef1fa"/>
<rect x="244.5" y="1149.2" width="16.9" height="37.6" fill="#eef1fa"/>
<rect x="261" y="1149.2" width="16.9" height="37.6" fill="#f8f8fa"/>
<rect x="277.5" y="1149.2" width="16.9" height="37.6" fill="#eef1fa"/>
<rect x="294.1" y="1149.2" width="16.9" height="37.6" fill="#f8f8fa"/>
<rect x="310.6" y="1149.2" width="16.9" height="37.6" fill="#eef1fa"/>
<rect x="327.1" y="1149.2" width="16.9" height="37.6" fill="#eef1fa"/>
<rect x="348.6" y="1149.2" width="16.9" height="37.6" fill="#eef1fa"/>
<rect x="365.1" y="1149.2" width="16.9" height="37.6" fill="#f8f8fa"/>
<rect x="381.6" y="1149.2" width="16.9" height="37.6" fill="#eef1fa"/>
<rect x="398.2" y="1149.2" width="16.9" height="37.6" fill="#eef1fa"/>
<rect x="414.7" y="1149.2" width="16.9" height="37.6" fill="#f8ecec"/>
<rect x="431.2" y="1149.2" width="16.9" height="37.6" fill="#eef1fa"/>
<rect x="447.7" y="1149.2" width="16.9" height="37.6" fill="#c82226"/>
<rect x="464.2" y="1149.2" width="16.9" height="37.6" fill="#f9f6f6"/>
<rect x="480.8" y="1149.2" width="16.9" height="37.6" fill="#f8f8fa"/>
<rect x="497.3" y="1149.2" width="16.9" height="37.6" fill="#eef1fa"/>
<rect x="513.8" y="1149.2" width="16.9" height="37.6" fill="#f9f6f6"/>
<rect x="530.3" y="1149.2" width="16.9" height="37.6" fill="#eef1fa"/>
<rect x="546.8" y="1149.2" width="16.9" height="37.6" fill="#eef1fa"/>
<rect x="563.4" y="1149.2" width="16.9" height="37.6" fill="#f8f8fa"/>
<rect x="579.9" y="1149.2" width="16.9" height="37.6" fill="#f8f8fa"/>
<rect x="596.4" y="1149.2" width="16.9" height="37.6" fill="#eef1fa"/>
<rect x="612.9" y="1149.2" width="16.9" height="37.6" fill="#f8f8fa"/>
<rect x="629.4" y="1149.2" width="16.9" height="37.6" fill="#f9f6f6"/>
<rect x="646" y="1149.2" width="16.9" height="37.6" fill="#f9f6f6"/>
<rect x="662.5" y="1149.2" width="16.9" height="37.6" fill="#f9f6f6"/>
<rect x="679" y="1149.2" width="16.9" height="37.6" fill="#f8f8fa"/>
<text x="703.6" y="1173.9" font-size="16.5" font-weight="bold">CXCL11</text>
<rect x="79.3" y="1186.5" width="16.9" height="37.6" fill="#f9f6f6"/>
<rect x="95.8" y="1186.5" width="16.9" height="37.6" fill="#eef1fa"/>
<rect x="112.3" y="1186.5" width="16.9" height="37.6" fill="#d9def2"/>
<rect x="128.9" y="1186.5" width="16.9" height="37.6" fill="#e0e5f5"/>
<rect x="145.4" y="1186.5" width="16.9" height="37.6" fill="#f8f8fa"/>
<rect x="161.9" y="1186.5" width="16.9" height="37.6" fill="#eef1fa"/>
<rect x="178.4" y="1186.5" width="16.9" height="37.6" fill="#f9f6f6"/>
<rect x="194.9" y="1186.5" width="16.9" height="37.6" fill="#e0e5f5"/>
<rect x="211.5" y="1186.5" width="16.9" height="37.6" fill="#f2d2d4"/>
<rect x="228" y="1186.5" width="16.9" height="37.6" fill="#eef1fa"/>
<rect x="244.5" y="1186.5" width="16.9" height="37.6" fill="#e8eaf6"/>
<rect x="261" y="1186.5" width="16.9" height="37.6" fill="#f8f8fa"/>
<rect x="277.5" y="1186.5" width="16.9" height="37.6" fill="#e0e5f5"/>
<rect x="294.1" y="1186.5" width="16.9" height="37.6" fill="#e0e5f5"/>
<rect x="310.6" y="1186.5" width="16.9" height="37.6" fill="#e0e5f5"/>
<rect x="327.1" y="1186.5" width="16.9" height="37.6" fill="#e8eaf6"/>
<rect x="348.6" y="1186.5" width="16.9" height="37.6" fill="#e8eaf6"/>
<rect x="365.1" y="1186.5" width="16.9" height="37.6" fill="#f8ecec"/>
<rect x="381.6" y="1186.5" width="16.9" height="37.6" fill="#f8f8fa"/>
<rect x="398.2" y="1186.5" width="16.9" height="37.6" fill="#e0e5f5"/>
<rect x="414.7" y="1186.5" width="16.9" height="37.6" fill="#dd6c6e"/>
<rect x="431.2" y="1186.5" width="16.9" height="37.6" fill="#e0e5f5"/>
<rect x="447.7" y="1186.5" width="16.9" height="37.6" fill="#e38a8d"/>
<rect x="464.2" y="1186.5" width="16.9" height="37.6" fill="#f8f8fa"/>
<rect x="480.8" y="1186.5" width="16.9" height="37.6" fill="#eef1fa"/>
<rect x="497.3" y="1186.5" width="16.9" height="37.6" fill="#efc0c1"/>
<rect x="513.8" y="1186.5" width="16.9" height="37.6" fill="#f8ecec"/>
<rect x="530.3" y="1186.5" width="16.9" height="37.6" fill="#eef1fa"/>
<rect x="546.8" y="1186.5" width="16.9" height="37.6" fill="#eef1fa"/>
<rect x="563.4" y="1186.5" width="16.9" height="37.6" fill="#e8eaf6"/>
<rect x="579.9" y="1186.5" width="16.9" height="37.6" fill="#f8f8fa"/>
<rect x="596.4" y="1186.5" width="16.9" height="37.6" fill="#f8f8fa"/>
<rect x="612.9" y="1186.5" width="16.9" height="37.6" fill="#f2d2d4"/>
<rect x="629.4" y="1186.5" width="16.9" height="37.6" fill="#f5e1e2"/>
<rect x="646" y="1186.5" width="16.9" height="37.6" fill="#f9f6f6"/>
<rect x="662.5" y="1186.5" width="16.9" height="37.6" fill="#f8ecec"/>
<rect x="679" y="1186.5" width="16.9" height="37.6" fill="#f8f8fa"/>
<text x="703.6" y="1211.1" font-size="16.5" font-weight="bold">PDCD1</text>
<rect x="79.3" y="1223.8" width="16.9" height="37.6" fill="#f9f6f6"/>
<rect x="95.8" y="1223.8" width="16.9" height="37.6" fill="#f5e1e2"/>
<rect x="112.3" y="1223.8" width="16.9" height="37.6" fill="#e8eaf6"/>
<rect x="128.9" y="1223.8" width="16.9" height="37.6" fill="#d9def2"/>
<rect x="145.4" y="1223.8" width="16.9" height="37.6" fill="#e8eaf6"/>
<rect x="161.9" y="1223.8" width="16.9" height="37.6" fill="#e8eaf6"/>
<rect x="178.4" y="1223.8" width="16.9" height="37.6" fill="#f9f6f6"/>
<rect x="194.9" y="1223.8" width="16.9" height="37.6" fill="#f8f8fa"/>
<rect x="211.5" y="1223.8" width="16.9" height="37.6" fill="#f2d2d4"/>
<rect x="228" y="1223.8" width="16.9" height="37.6" fill="#f8f8fa"/>
<rect x="244.5" y="1223.8" width="16.9" height="37.6" fill="#e0e5f5"/>
<rect x="261" y="1223.8" width="16.9" height="37.6" fill="#e8eaf6"/>
<rect x="277.5" y="1223.8" width="16.9" height="37.6" fill="#e0e5f5"/>
<rect x="294.1" y="1223.8" width="16.9" height="37.6" fill="#e8eaf6"/>
<rect x="310.6" y="1223.8" width="16.9" height="37.6" fill="#d9def2"/>
<rect x="327.1" y="1223.8" width="16.9" height="37.6" fill="#eef1fa"/>
<rect x="348.6" y="1223.8" width="16.9" height="37.6" fill="#e8eaf6"/>
<rect x="365.1" y="1223.8" width="16.9" height="37.6" fill="#f8ecec"/>
<rect x="381.6" y="1223.8" width="16.9" height="37.6" fill="#e8eaf6"/>
<rect x="398.2" y="1223.8" width="16.9" height="37.6" fill="#e0e5f5"/>
<rect x="414.7" y="1223.8" width="16.9" height="37.6" fill="#d95f61"/>
<rect x="431.2" y="1223.8" width="16.9" height="37.6" fill="#d9def2"/>
<rect x="447.7" y="1223.8" width="16.9" height="37.6" fill="#e8a3a4"/>
<rect x="464.2" y="1223.8" width="16.9" height="37.6" fill="#f5e1e2"/>
<rect x="480.8" y="1223.8" width="16.9" height="37.6" fill="#f9f6f6"/>
<rect x="497.3" y="1223.8" width="16.9" height="37.6" fill="#f2d2d4"/>
<rect x="513.8" y="1223.8" width="16.9" height="37.6" fill="#f5e1e2"/>
<rect x="530.3" y="1223.8" width="16.9" height="37.6" fill="#e8eaf6"/>
<rect x="546.8" y="1223.8" width="16.9" height="37.6" fill="#e0e5f5"/>
<rect x="563.4" y="1223.8" width="16.9" height="37.6" fill="#e8eaf6"/>
<rect x="579.9" y="1223.8" width="16.9" height="37.6" fill="#f8f8fa"/>
<rect x="596.4" y="1223.8" width="16.9" height="37.6" fill="#eef1fa"/>
<rect x="612.9" y="1223.8" width="16.9" height="37.6" fill="#f8f8fa"/>
<rect x="629.4" y="1223.8" width="16.9" height="37.6" fill="#f5e1e2"/>
<rect x="646" y="1223.8" width="16.9" height="37.6" fill="#f8ecec"/>
<rect x="662.5" y="1223.8" width="16.9" height="37.6" fill="#f5e1e2"/>
<rect x="679" y="1223.8" width="16.9" height="37.6" fill="#f9f6f6"/>
<text x="703.6" y="1248.4" font-size="16.5" font-weight="bold">TIGIT</text>
<rect x="79.3" y="1261" width="16.9" height="37.6" fill="#f9f6f6"/>
<rect x="95.8" y="1261" width="16.9" height="37.6" fill="#eef1fa"/>
<rect x="112.3" y="1261" width="16.9" height="37.6" fill="#e8eaf6"/>
<rect x="128.9" y="1261" width="16.9" height="37.6" fill="#eef1fa"/>
<rect x="145.4" y="1261" width="16.9" height="37.6" fill="#eef1fa"/>
<rect x="161.9" y="1261" width="16.9" height="37.6" fill="#e8eaf6"/>
<rect x="178.4" y="1261" width="16.9" height="37.6" fill="#eef1fa"/>
<rect x="194.9" y="1261" width="16.9" height="37.6" fill="#e8eaf6"/>
<rect x="211.5" y="1261" width="16.9" height="37.6" fill="#eef1fa"/>
<rect x="228" y="1261" width="16.9" height="37.6" fill="#eef1fa"/>
<rect x="244.5" y="1261" width="16.9" height="37.6" fill="#e8eaf6"/>
<rect x="261" y="1261" width="16.9" height="37.6" fill="#eef1fa"/>
<rect x="277.5" y="1261" width="16.9" height="37.6" fill="#e0e5f5"/>
<rect x="294.1" y="1261" width="16.9" height="37.6" fill="#f8f8fa"/>
<rect x="310.6" y="1261" width="16.9" height="37.6" fill="#e8eaf6"/>
<rect x="327.1" y="1261" width="16.9" height="37.6" fill="#e8eaf6"/>
<rect x="348.6" y="1261" width="16.9" height="37.6" fill="#eef1fa"/>
<rect x="365.1" y="1261" width="16.9" height="37.6" fill="#f8f8fa"/>
<rect x="381.6" y="1261" width="16.9" height="37.6" fill="#eef1fa"/>
<rect x="398.2" y="1261" width="16.9" height="37.6" fill="#e8eaf6"/>
<rect x="414.7" y="1261" width="16.9" height="37.6" fill="#ebb3b4"/>
<rect x="431.2" y="1261" width="16.9" height="37.6" fill="#e8eaf6"/>
<rect x="447.7" y="1261" width="16.9" height="37.6" fill="#d45052"/>
<rect x="464.2" y="1261" width="16.9" height="37.6" fill="#f8ecec"/>
<rect x="480.8" y="1261" width="16.9" height="37.6" fill="#f8ecec"/>
<rect x="497.3" y="1261" width="16.9" height="37.6" fill="#f5e1e2"/>
<rect x="513.8" y="1261" width="16.9" height="37.6" fill="#f8f8fa"/>
<rect x="530.3" y="1261" width="16.9" height="37.6" fill="#eef1fa"/>
<rect x="546.8" y="1261" width="16.9" height="37.6" fill="#e8eaf6"/>
<rect x="563.4" y="1261" width="16.9" height="37.6" fill="#e8eaf6"/>
<rect x="579.9" y="1261" width="16.9" height="37.6" fill="#f8ecec"/>
<rect x="596.4" y="1261" width="16.9" height="37.6" fill="#e8eaf6"/>
<rect x="612.9" y="1261" width="16.9" height="37.6" fill="#efc0c1"/>
<rect x="629.4" y="1261" width="16.9" height="37.6" fill="#f9f6f6"/>
<rect x="646" y="1261" width="16.9" height="37.6" fill="#f8ecec"/>
<rect x="662.5" y="1261" width="16.9" height="37.6" fill="#f5e1e2"/>
<rect x="679" y="1261" width="16.9" height="37.6" fill="#f8f8fa"/>
<text x="703.6" y="1285.6" font-size="16.5" font-weight="bold">HAVCR2</text>
<rect x="81" y="794.2" width="262.9" height="9.8" fill="#e60012"/>
<rect x="348.4" y="794.2" width="347.4" height="9.8" fill="#0d2f8c"/>
<text transform="translate(93.6,1307) rotate(-90)" font-size="15.6" text-anchor="end">A1</text>
<text transform="translate(110.1,1307) rotate(-90)" font-size="15.6" text-anchor="end">A2</text>
<text transform="translate(126.6,1307) rotate(-90)" font-size="15.6" text-anchor="end">A3</text>
<text transform="translate(143.1,1307) rotate(-90)" font-size="15.6" text-anchor="end">A4</text>
<text transform="translate(159.6,1307) rotate(-90)" font-size="15.6" text-anchor="end">A5</text>
<text transform="translate(176.2,1307) rotate(-90)" font-size="15.6" text-anchor="end">A6</text>
<text transform="translate(192.7,1307) rotate(-90)" font-size="15.6" text-anchor="end">A7</text>
<text transform="translate(209.2,1307) rotate(-90)" font-size="15.6" text-anchor="end">A8</text>
<text transform="translate(225.7,1307) rotate(-90)" font-size="15.6" text-anchor="end">A9</text>
<text transform="translate(242.2,1307) rotate(-90)" font-size="15.6" text-anchor="end">A10</text>
<text transform="translate(258.8,1307) rotate(-90)" font-size="15.6" text-anchor="end">A11</text>
<text transform="translate(275.3,1307) rotate(-90)" font-size="15.6" text-anchor="end">A12</text>
<text transform="translate(291.8,1307) rotate(-90)" font-size="15.6" text-anchor="end">A13</text>
<text transform="translate(308.3,1307) rotate(-90)" font-size="15.6" text-anchor="end">A14</text>
<text transform="translate(324.8,1307) rotate(-90)" font-size="15.6" text-anchor="end">A15</text>
<text transform="translate(341.4,1307) rotate(-90)" font-size="15.6" text-anchor="end">A16</text>
<text transform="translate(362.9,1307) rotate(-90)" font-size="15.6" text-anchor="end">B1</text>
<text transform="translate(379.4,1307) rotate(-90)" font-size="15.6" text-anchor="end">B2</text>
<text transform="translate(395.9,1307) rotate(-90)" font-size="15.6" text-anchor="end">B3</text>
<text transform="translate(412.4,1307) rotate(-90)" font-size="15.6" text-anchor="end">B4</text>
<text transform="translate(428.9,1307) rotate(-90)" font-size="15.6" text-anchor="end">B5</text>
<text transform="translate(445.5,1307) rotate(-90)" font-size="15.6" text-anchor="end">B6</text>
<text transform="translate(462,1307) rotate(-90)" font-size="15.6" text-anchor="end">B7</text>
<text transform="translate(478.5,1307) rotate(-90)" font-size="15.6" text-anchor="end">B8</text>
<text transform="translate(495,1307) rotate(-90)" font-size="15.6" text-anchor="end">B9</text>
<text transform="translate(511.5,1307) rotate(-90)" font-size="15.6" text-anchor="end">B10</text>
<text transform="translate(528.1,1307) rotate(-90)" font-size="15.6" text-anchor="end">B11</text>
<text transform="translate(544.6,1307) rotate(-90)" font-size="15.6" text-anchor="end">B12</text>
<text transform="translate(561.1,1307) rotate(-90)" font-size="15.6" text-anchor="end">B13</text>
<text transform="translate(577.6,1307) rotate(-90)" font-size="15.6" text-anchor="end">B14</text>
<text transform="translate(594.1,1307) rotate(-90)" font-size="15.6" text-anchor="end">B15</text>
<text transform="translate(610.7,1307) rotate(-90)" font-size="15.6" text-anchor="end">B16</text>
<text transform="translate(627.2,1307) rotate(-90)" font-size="15.6" text-anchor="end">B17</text>
<text transform="translate(643.7,1307) rotate(-90)" font-size="15.6" text-anchor="end">B18</text>
<text transform="translate(660.2,1307) rotate(-90)" font-size="15.6" text-anchor="end">B19</text>
<text transform="translate(676.7,1307) rotate(-90)" font-size="15.6" text-anchor="end">B20</text>
<text transform="translate(693.3,1307) rotate(-90)" font-size="15.6" text-anchor="end">B21</text>
<defs><linearGradient id="hg" x1="0" y1="0" x2="0" y2="1"><stop offset="0" stop-color="#c62828"/><stop offset="0.16" stop-color="#d5595b"/><stop offset="0.3" stop-color="#e38f91"/><stop offset="0.4" stop-color="#efc4c5"/><stop offset="0.47" stop-color="#f6e9e9"/><stop offset="0.525" stop-color="#f2f3f8"/><stop offset="0.61" stop-color="#d5dbf2"/><stop offset="0.71" stop-color="#b2bfeb"/><stop offset="0.81" stop-color="#8c9fe2"/><stop offset="0.92" stop-color="#6680da"/><stop offset="1" stop-color="#3f5fd3"/></linearGradient><linearGradient id="pg" x1="0" y1="0" x2="0" y2="1"><stop offset="0" stop-color="#37474f"/><stop offset="0.12" stop-color="#474f50"/><stop offset="0.3" stop-color="#665a50"/><stop offset="0.5" stop-color="#8a6a4e"/><stop offset="0.68" stop-color="#a6754a"/><stop offset="0.85" stop-color="#c5844a"/><stop offset="1" stop-color="#e3924a"/></linearGradient></defs>
<rect x="763.2" y="808.2" width="13.7" height="193.6" fill="url(#hg)"/>
<text x="782.2" y="910" font-size="16.5" font-weight="bold">0</text>
<text x="781.5" y="943.1" font-size="16.5" font-weight="bold">−2</text>
<text x="791.5" y="789.9" font-size="16.5" font-weight="bold">Response</text>
<rect x="798.5" y="802.9" width="25.2" height="9.8" fill="#0d2f8c"/>
<text x="831.7" y="813.7" font-size="16.5" font-weight="bold">No</text>
<rect x="799.8" y="829.4" width="25.2" height="10.2" fill="#e60012"/>
<text x="833" y="840.3" font-size="16.5" font-weight="bold">Yes</text>
<text x="-1" y="804" font-size="43" font-weight="bold">c</text>
<rect x="360.8" y="1428.5" width="384.4" height="435.9" fill="#ebebeb"/>
<line x1="424.7" y1="1428.5" x2="424.7" y2="1864.4" stroke="#f5f5f5" stroke-width="0.8"/>
<line x1="497.2" y1="1428.5" x2="497.2" y2="1864.4" stroke="#f5f5f5" stroke-width="0.8"/>
<line x1="569.6" y1="1428.5" x2="569.6" y2="1864.4" stroke="#f5f5f5" stroke-width="0.8"/>
<line x1="642.1" y1="1428.5" x2="642.1" y2="1864.4" stroke="#f5f5f5" stroke-width="0.8"/>
<line x1="714.5" y1="1428.5" x2="714.5" y2="1864.4" stroke="#f5f5f5" stroke-width="0.8"/>
<line x1="388.5" y1="1428.5" x2="388.5" y2="1864.4" stroke="#fff" stroke-width="1.6"/>
<line x1="461" y1="1428.5" x2="461" y2="1864.4" stroke="#fff" stroke-width="1.6"/>
<line x1="533.4" y1="1428.5" x2="533.4" y2="1864.4" stroke="#fff" stroke-width="1.6"/>
<line x1="605.9" y1="1428.5" x2="605.9" y2="1864.4" stroke="#fff" stroke-width="1.6"/>
<line x1="678.3" y1="1428.5" x2="678.3" y2="1864.4" stroke="#fff" stroke-width="1.6"/>
<line x1="360.8" y1="1452" x2="745.2" y2="1452" stroke="#fff" stroke-width="1.6"/>
<line x1="355.4" y1="1452" x2="360.8" y2="1452" stroke="#333" stroke-width="1.1"/>
<text x="348" y="1458" font-size="16.6" text-anchor="end">T cell activation</text>
<line x1="360.8" y1="1491" x2="745.2" y2="1491" stroke="#fff" stroke-width="1.6"/>
<line x1="355.4" y1="1491" x2="360.8" y2="1491" stroke="#333" stroke-width="1.1"/>
<text x="348" y="1497" font-size="16.6" text-anchor="end">Regulation of T cell activation</text>
<line x1="360.8" y1="1530" x2="745.2" y2="1530" stroke="#fff" stroke-width="1.6"/>
<line x1="355.4" y1="1530" x2="360.8" y2="1530" stroke="#333" stroke-width="1.1"/>
<text x="348" y="1536" font-size="16.6" text-anchor="end">Regulation of mononuclear cell proliferation</text>
<line x1="360.8" y1="1568.9" x2="745.2" y2="1568.9" stroke="#fff" stroke-width="1.6"/>
<line x1="355.4" y1="1568.9" x2="360.8" y2="1568.9" stroke="#333" stroke-width="1.1"/>
<text x="348" y="1574.9" font-size="16.6" text-anchor="end">Regulation of lymphocyte proliferation</text>
<line x1="360.8" y1="1607.9" x2="745.2" y2="1607.9" stroke="#fff" stroke-width="1.6"/>
<line x1="355.4" y1="1607.9" x2="360.8" y2="1607.9" stroke="#333" stroke-width="1.1"/>
<text x="348" y="1613.9" font-size="16.6" text-anchor="end">Regulation of lymphocyte activation</text>
<line x1="360.8" y1="1646.9" x2="745.2" y2="1646.9" stroke="#fff" stroke-width="1.6"/>
<line x1="355.4" y1="1646.9" x2="360.8" y2="1646.9" stroke="#333" stroke-width="1.1"/>
<text x="348" y="1652.9" font-size="16.6" text-anchor="end">Regulation of leukocyte proliferation</text>
<line x1="360.8" y1="1685.9" x2="745.2" y2="1685.9" stroke="#fff" stroke-width="1.6"/>
<line x1="355.4" y1="1685.9" x2="360.8" y2="1685.9" stroke="#333" stroke-width="1.1"/>
<text x="348" y="1691.9" font-size="16.6" text-anchor="end">Mononuclear cell proliferation</text>
<line x1="360.8" y1="1724.9" x2="745.2" y2="1724.9" stroke="#fff" stroke-width="1.6"/>
<line x1="355.4" y1="1724.9" x2="360.8" y2="1724.9" stroke="#333" stroke-width="1.1"/>
<text x="348" y="1730.9" font-size="16.6" text-anchor="end">Lymphocyte proliferation</text>
<line x1="360.8" y1="1763.8" x2="745.2" y2="1763.8" stroke="#fff" stroke-width="1.6"/>
<line x1="355.4" y1="1763.8" x2="360.8" y2="1763.8" stroke="#333" stroke-width="1.1"/>
<text x="348" y="1769.8" font-size="16.6" text-anchor="end">Leukocyte proliferation</text>
<line x1="360.8" y1="1802.8" x2="745.2" y2="1802.8" stroke="#fff" stroke-width="1.6"/>
<line x1="355.4" y1="1802.8" x2="360.8" y2="1802.8" stroke="#333" stroke-width="1.1"/>
<text x="348" y="1808.8" font-size="16.6" text-anchor="end">Leukocyte cell–cell adhesion</text>
<line x1="360.8" y1="1841.8" x2="745.2" y2="1841.8" stroke="#fff" stroke-width="1.6"/>
<line x1="355.4" y1="1841.8" x2="360.8" y2="1841.8" stroke="#333" stroke-width="1.1"/>
<circle cx="727.7" cy="1452" r="12.8" fill="#e0904a"/>
<circle cx="503" cy="1491" r="9.2" fill="#8b6a4e"/>
<circle cx="386.4" cy="1530" r="4.8" fill="#3e5058"/>
<circle cx="378.1" cy="1568.9" r="3.9" fill="#33454d"/>
<circle cx="627.7" cy="1607.9" r="11.6" fill="#bb8349"/>
<circle cx="394.7" cy="1646.9" r="5" fill="#415058"/>
<circle cx="444.7" cy="1685.9" r="7.4" fill="#6b5f52"/>
<circle cx="436.4" cy="1724.9" r="7.4" fill="#5f5a53"/>
<circle cx="486.1" cy="1763.8" r="8.6" fill="#7f6650"/>
<circle cx="528" cy="1802.8" r="9.8" fill="#8d6a4b"/>
<line x1="388.5" y1="1864.4" x2="388.5" y2="1869.4" stroke="#333" stroke-width="1.1"/>
<text x="388.5" y="1885.8" font-size="16.6" text-anchor="middle">0.06</text>
<line x1="461" y1="1864.4" x2="461" y2="1869.4" stroke="#333" stroke-width="1.1"/>
<text x="461" y="1885.8" font-size="16.6" text-anchor="middle">0.07</text>
<line x1="533.4" y1="1864.4" x2="533.4" y2="1869.4" stroke="#333" stroke-width="1.1"/>
<text x="533.4" y="1885.8" font-size="16.6" text-anchor="middle">0.08</text>
<line x1="605.9" y1="1864.4" x2="605.9" y2="1869.4" stroke="#333" stroke-width="1.1"/>
<text x="605.9" y="1885.8" font-size="16.6" text-anchor="middle">0.09</text>
<line x1="678.3" y1="1864.4" x2="678.3" y2="1869.4" stroke="#333" stroke-width="1.1"/>
<text x="678.3" y="1885.8" font-size="16.6" text-anchor="middle">0.10</text>
<text x="550.6" y="1908.1" font-size="16.6" text-anchor="middle">GeneRatio</text>
<text x="361.5" y="1415.7" font-size="16.6">Biological process</text>
<text transform="translate(13.6,1646) rotate(-90)" font-size="16.6" text-anchor="middle">Biological process</text>
<text x="778" y="1463.9" font-size="16.6">Count</text>
<rect x="776.2" y="1478.8" width="32.4" height="129.7" fill="#f2f2f2"/>
<circle cx="792.2" cy="1494.5" r="7.7" fill="#000"/>
<text x="816" y="1499.1" font-size="16.6">60</text>
<circle cx="792.2" cy="1527" r="9.8" fill="#000"/>
<text x="816" y="1531.6" font-size="16.6">70</text>
<circle cx="792.2" cy="1559.7" r="11.3" fill="#000"/>
<text x="816" y="1564.3" font-size="16.6">80</text>
<circle cx="792.2" cy="1591.8" r="12.5" fill="#000"/>
<text x="816" y="1596.4" font-size="16.6">90</text>
<text x="780.3" y="1665.6" font-size="16.6"><tspan font-style="italic">p</tspan>.adjust</text>
<rect x="775" y="1684" width="33.9" height="163.7" fill="url(#pg)"/>
<line x1="775" y1="1704.9" x2="781" y2="1704.9" stroke="#fff" stroke-width="1" stroke-opacity="0.6"/>
<line x1="802.9" y1="1704.9" x2="808.9" y2="1704.9" stroke="#fff" stroke-width="1" stroke-opacity="0.6"/>
<text x="816.6" y="1710.9" font-size="16.6">1.20</text>
<line x1="775" y1="1735.8" x2="781" y2="1735.8" stroke="#fff" stroke-width="1" stroke-opacity="0.6"/>
<line x1="802.9" y1="1735.8" x2="808.9" y2="1735.8" stroke="#fff" stroke-width="1" stroke-opacity="0.6"/>
<text x="816.6" y="1741.8" font-size="16.6">1.15</text>
<line x1="775" y1="1765.9" x2="781" y2="1765.9" stroke="#fff" stroke-width="1" stroke-opacity="0.6"/>
<line x1="802.9" y1="1765.9" x2="808.9" y2="1765.9" stroke="#fff" stroke-width="1" stroke-opacity="0.6"/>
<text x="816.6" y="1771.9" font-size="16.6">1.10</text>
<line x1="775" y1="1797.4" x2="781" y2="1797.4" stroke="#fff" stroke-width="1" stroke-opacity="0.6"/>
<line x1="802.9" y1="1797.4" x2="808.9" y2="1797.4" stroke="#fff" stroke-width="1" stroke-opacity="0.6"/>
<text x="816.6" y="1803.4" font-size="16.6">1.05</text>
<line x1="775" y1="1828.4" x2="781" y2="1828.4" stroke="#fff" stroke-width="1" stroke-opacity="0.6"/>
<line x1="802.9" y1="1828.4" x2="808.9" y2="1828.4" stroke="#fff" stroke-width="1" stroke-opacity="0.6"/>
<text x="816.6" y="1834.4" font-size="16.6">1.00</text>
<text x="-1" y="1400.6" font-size="43" font-weight="bold">d</text>
<rect x="1145.4" y="1407.2" width="741.9" height="460.1" fill="#fff"/>
<line x1="1158.8" y1="1815" x2="1158.8" y2="1824.1" stroke="#000" stroke-width="1.2"/>
<rect x="1153" y="1824.1" width="11.6" height="21.6" fill="#f8766d" stroke="#000" stroke-width="1.25"/>
<line x1="1153" y1="1843.7" x2="1164.6" y2="1843.7" stroke="#000" stroke-width="2.0"/>
<circle cx="1158.8" cy="1764.1" r="3.3" fill="#000"/>
<circle cx="1158.8" cy="1790.8" r="3.3" fill="#000"/>
<line x1="1172.1" y1="1833.4" x2="1172.1" y2="1836.9" stroke="#000" stroke-width="1.2"/>
<rect x="1166.3" y="1836.9" width="11.6" height="8.8" fill="#00bfc4" stroke="#000" stroke-width="1.25"/>
<line x1="1166.3" y1="1844.8" x2="1177.9" y2="1844.8" stroke="#000" stroke-width="2.0"/>
<circle cx="1172.1" cy="1796.3" r="3.3" fill="#000"/>
<circle cx="1172.1" cy="1806.2" r="3.3" fill="#000"/>
<circle cx="1172.1" cy="1810" r="3.3" fill="#000"/>
<line x1="1165.2" y1="1867.3" x2="1165.2" y2="1878.3" stroke="#111" stroke-width="1.2"/>
<text transform="translate(1174.7,1892.7) rotate(-45)" font-size="20.7" text-anchor="end">B.cells.naive</text>
<text x="1165.2" y="1429.3" font-size="17.5" text-anchor="middle" font-weight="bold" fill="#111">****</text>
<line x1="1192.2" y1="1791.9" x2="1192.2" y2="1820.2" stroke="#000" stroke-width="1.2"/>
<rect x="1186.4" y="1820.2" width="11.6" height="25.5" fill="#f8766d" stroke="#000" stroke-width="1.25"/>
<line x1="1186.4" y1="1832.5" x2="1198" y2="1832.5" stroke="#000" stroke-width="2.0"/>
<circle cx="1192.2" cy="1765.3" r="3.3" fill="#000"/>
<circle cx="1192.2" cy="1776.5" r="3.3" fill="#000"/>
<line x1="1205.5" y1="1777.3" x2="1205.5" y2="1813.3" stroke="#000" stroke-width="1.2"/>
<line x1="1205.5" y1="1839.2" x2="1205.5" y2="1845.3" stroke="#000" stroke-width="1.2"/>
<rect x="1199.7" y="1813.3" width="11.6" height="26" fill="#00bfc4" stroke="#000" stroke-width="1.25"/>
<line x1="1199.7" y1="1826.7" x2="1211.3" y2="1826.7" stroke="#000" stroke-width="2.0"/>
<circle cx="1205.5" cy="1735" r="3.3" fill="#000"/>
<circle cx="1205.5" cy="1749.3" r="3.3" fill="#000"/>
<circle cx="1205.5" cy="1750.2" r="3.3" fill="#000"/>
<line x1="1198.6" y1="1867.3" x2="1198.6" y2="1878.3" stroke="#111" stroke-width="1.2"/>
<text transform="translate(1208.1,1892.7) rotate(-45)" font-size="20.7" text-anchor="end">B.cells.memory</text>
<text x="1198.6" y="1429.3" font-size="17.5" text-anchor="middle" font-weight="bold" fill="#111">*</text>
<line x1="1225.7" y1="1710.6" x2="1225.7" y2="1755.1" stroke="#000" stroke-width="1.2"/>
<line x1="1225.7" y1="1822.3" x2="1225.7" y2="1845.7" stroke="#000" stroke-width="1.2"/>
<rect x="1219.9" y="1755.1" width="11.6" height="67.2" fill="#f8766d" stroke="#000" stroke-width="1.25"/>
<line x1="1219.9" y1="1785.7" x2="1231.5" y2="1785.7" stroke="#000" stroke-width="2.0"/>
<line x1="1239" y1="1625.9" x2="1239" y2="1727.3" stroke="#000" stroke-width="1.2"/>
<line x1="1239" y1="1804.1" x2="1239" y2="1842.1" stroke="#000" stroke-width="1.2"/>
<rect x="1233.2" y="1727.3" width="11.6" height="76.8" fill="#00bfc4" stroke="#000" stroke-width="1.25"/>
<line x1="1233.2" y1="1765.6" x2="1244.8" y2="1765.6" stroke="#000" stroke-width="2.0"/>
<circle cx="1239" cy="1524.2" r="3.3" fill="#000"/>
<line x1="1232.1" y1="1867.3" x2="1232.1" y2="1878.3" stroke="#111" stroke-width="1.2"/>
<text transform="translate(1241.6,1892.7) rotate(-45)" font-size="20.7" text-anchor="end">Plasma.cells</text>
<text x="1232.1" y="1429.3" font-size="17.5" text-anchor="middle" font-weight="bold" fill="#111">***</text>
<line x1="1259.1" y1="1744.9" x2="1259.1" y2="1800.7" stroke="#000" stroke-width="1.2"/>
<rect x="1253.3" y="1800.7" width="11.6" height="45" fill="#f8766d" stroke="#000" stroke-width="1.25"/>
<line x1="1253.3" y1="1823.1" x2="1264.9" y2="1823.1" stroke="#000" stroke-width="2.0"/>
<circle cx="1259.1" cy="1717.1" r="3.3" fill="#000"/>
<line x1="1272.4" y1="1657.2" x2="1272.4" y2="1734.1" stroke="#000" stroke-width="1.2"/>
<line x1="1272.4" y1="1807.1" x2="1272.4" y2="1845.7" stroke="#000" stroke-width="1.2"/>
<rect x="1266.6" y="1734.1" width="11.6" height="73.1" fill="#00bfc4" stroke="#000" stroke-width="1.25"/>
<line x1="1266.6" y1="1784.3" x2="1278.2" y2="1784.3" stroke="#000" stroke-width="2.0"/>
<line x1="1265.5" y1="1867.3" x2="1265.5" y2="1878.3" stroke="#111" stroke-width="1.2"/>
<text transform="translate(1275,1892.7) rotate(-45)" font-size="20.7" text-anchor="end">T.cells.CD8</text>
<text x="1265.5" y="1430" font-size="20.7" text-anchor="middle">ns</text>
<rect x="1286.7" y="1845.7" width="11.6" height="0" fill="#f8766d" stroke="#000" stroke-width="1.25"/>
<line x1="1286.7" y1="1845.7" x2="1298.3" y2="1845.7" stroke="#000" stroke-width="2.0"/>
<circle cx="1292.5" cy="1680" r="3.3" fill="#000"/>
<circle cx="1292.5" cy="1770.6" r="3.3" fill="#000"/>
<circle cx="1292.5" cy="1820" r="3.3" fill="#000"/>
<circle cx="1292.5" cy="1839.2" r="3.3" fill="#000"/>
<rect x="1300" y="1845.7" width="11.6" height="0" fill="#00bfc4" stroke="#000" stroke-width="1.25"/>
<line x1="1300" y1="1845.7" x2="1311.6" y2="1845.7" stroke="#000" stroke-width="2.0"/>
<line x1="1298.9" y1="1867.3" x2="1298.9" y2="1878.3" stroke="#111" stroke-width="1.2"/>
<text transform="translate(1308.4,1892.7) rotate(-45)" font-size="20.7" text-anchor="end">T.cells.CD4.naive</text>
<text x="1298.9" y="1429.3" font-size="17.5" text-anchor="middle" font-weight="bold" fill="#111">****</text>
<line x1="1326" y1="1593.2" x2="1326" y2="1677.3" stroke="#000" stroke-width="1.2"/>
<line x1="1326" y1="1736.1" x2="1326" y2="1766.2" stroke="#000" stroke-width="1.2"/>
<rect x="1320.2" y="1677.3" width="11.6" height="58.8" fill="#f8766d" stroke="#000" stroke-width="1.25"/>
<line x1="1320.2" y1="1705.7" x2="1331.8" y2="1705.7" stroke="#000" stroke-width="2.0"/>
<circle cx="1326" cy="1826.7" r="3.3" fill="#000"/>
<circle cx="1326" cy="1845.7" r="3.3" fill="#000"/>
<line x1="1339.3" y1="1603.2" x2="1339.3" y2="1699.8" stroke="#000" stroke-width="1.2"/>
<line x1="1339.3" y1="1781.7" x2="1339.3" y2="1821.7" stroke="#000" stroke-width="1.2"/>
<rect x="1333.5" y="1699.8" width="11.6" height="81.8" fill="#00bfc4" stroke="#000" stroke-width="1.25"/>
<line x1="1333.5" y1="1731.7" x2="1345.1" y2="1731.7" stroke="#000" stroke-width="2.0"/>
<line x1="1332.4" y1="1867.3" x2="1332.4" y2="1878.3" stroke="#111" stroke-width="1.2"/>
<text transform="translate(1341.9,1892.7) rotate(-45)" font-size="20.7" text-anchor="end">T.cells.CD4.memory.resting</text>
<text x="1332.4" y="1429.3" font-size="17.5" text-anchor="middle" font-weight="bold" fill="#111">****</text>
<rect x="1353.6" y="1845.7" width="11.6" height="0" fill="#f8766d" stroke="#000" stroke-width="1.25"/>
<line x1="1353.6" y1="1845.7" x2="1365.2" y2="1845.7" stroke="#000" stroke-width="2.0"/>
<circle cx="1359.4" cy="1786.6" r="3.3" fill="#000"/>
<circle cx="1359.4" cy="1834.9" r="3.3" fill="#000"/>
<circle cx="1359.4" cy="1840.7" r="3.3" fill="#000"/>
<circle cx="1359.4" cy="1844.8" r="3.3" fill="#000"/>
<line x1="1372.7" y1="1807.1" x2="1372.7" y2="1827.6" stroke="#000" stroke-width="1.2"/>
<rect x="1366.9" y="1827.6" width="11.6" height="18.1" fill="#00bfc4" stroke="#000" stroke-width="1.25"/>
<line x1="1366.9" y1="1844.8" x2="1378.5" y2="1844.8" stroke="#000" stroke-width="2.0"/>
<circle cx="1372.7" cy="1797.4" r="3.3" fill="#000"/>
<line x1="1365.8" y1="1867.3" x2="1365.8" y2="1878.3" stroke="#111" stroke-width="1.2"/>
<text transform="translate(1375.3,1892.7) rotate(-45)" font-size="20.7" text-anchor="end">T.cells.CD4.memory.activated</text>
<text x="1365.8" y="1429.3" font-size="17.5" text-anchor="middle" font-weight="bold" fill="#111">****</text>
<line x1="1392.8" y1="1777.3" x2="1392.8" y2="1810.9" stroke="#000" stroke-width="1.2"/>
<rect x="1387" y="1810.9" width="11.6" height="34.8" fill="#f8766d" stroke="#000" stroke-width="1.25"/>
<line x1="1387" y1="1834.9" x2="1398.6" y2="1834.9" stroke="#000" stroke-width="2.0"/>
<circle cx="1392.8" cy="1747.2" r="3.3" fill="#000"/>
<line x1="1406.1" y1="1775.8" x2="1406.1" y2="1789.6" stroke="#000" stroke-width="1.2"/>
<line x1="1406.1" y1="1828.4" x2="1406.1" y2="1845.7" stroke="#000" stroke-width="1.2"/>
<rect x="1400.3" y="1789.6" width="11.6" height="38.8" fill="#00bfc4" stroke="#000" stroke-width="1.25"/>
<line x1="1400.3" y1="1808.6" x2="1411.9" y2="1808.6" stroke="#000" stroke-width="2.0"/>
<circle cx="1406.1" cy="1729.7" r="3.3" fill="#000"/>
<line x1="1399.2" y1="1867.3" x2="1399.2" y2="1878.3" stroke="#111" stroke-width="1.2"/>
<text transform="translate(1408.7,1892.7) rotate(-45)" font-size="20.7" text-anchor="end">T.cells.follicular.helper</text>
<text x="1399.2" y="1430" font-size="20.7" text-anchor="middle">ns</text>
<rect x="1420.4" y="1845.7" width="11.6" height="0" fill="#f8766d" stroke="#000" stroke-width="1.25"/>
<line x1="1420.4" y1="1845.7" x2="1432" y2="1845.7" stroke="#000" stroke-width="2.0"/>
<circle cx="1426.2" cy="1813.5" r="3.3" fill="#000"/>
<circle cx="1426.2" cy="1817.6" r="3.3" fill="#000"/>
<circle cx="1426.2" cy="1839.2" r="3.3" fill="#000"/>
<circle cx="1426.2" cy="1844.8" r="3.3" fill="#000"/>
<line x1="1439.5" y1="1798.4" x2="1439.5" y2="1817.9" stroke="#000" stroke-width="1.2"/>
<rect x="1433.7" y="1817.9" width="11.6" height="27.8" fill="#00bfc4" stroke="#000" stroke-width="1.25"/>
<line x1="1433.7" y1="1844.8" x2="1445.3" y2="1844.8" stroke="#000" stroke-width="2.0"/>
<circle cx="1439.5" cy="1764.1" r="3.3" fill="#000"/>
<line x1="1432.6" y1="1867.3" x2="1432.6" y2="1878.3" stroke="#111" stroke-width="1.2"/>
<text transform="translate(1442.1,1892.7) rotate(-45)" font-size="20.7" text-anchor="end">T.cells.regulatory..Tregs.</text>
<text x="1432.6" y="1429.3" font-size="17.5" text-anchor="middle" font-weight="bold" fill="#111">****</text>
<rect x="1453.9" y="1845.7" width="11.6" height="0" fill="#f8766d" stroke="#000" stroke-width="1.25"/>
<line x1="1453.9" y1="1845.7" x2="1465.5" y2="1845.7" stroke="#000" stroke-width="2.0"/>
<rect x="1467.2" y="1845.7" width="11.6" height="0" fill="#00bfc4" stroke="#000" stroke-width="1.25"/>
<line x1="1467.2" y1="1845.7" x2="1478.8" y2="1845.7" stroke="#000" stroke-width="2.0"/>
<line x1="1466.1" y1="1867.3" x2="1466.1" y2="1878.3" stroke="#111" stroke-width="1.2"/>
<text transform="translate(1475.6,1892.7) rotate(-45)" font-size="20.7" text-anchor="end">T.cells.gamma.delta</text>
<text x="1466.1" y="1429.3" font-size="17.5" text-anchor="middle" font-weight="bold" fill="#111">****</text>
<line x1="1493.1" y1="1751.4" x2="1493.1" y2="1776.4" stroke="#000" stroke-width="1.2"/>
<line x1="1493.1" y1="1807.5" x2="1493.1" y2="1833.1" stroke="#000" stroke-width="1.2"/>
<rect x="1487.3" y="1776.4" width="11.6" height="31.2" fill="#f8766d" stroke="#000" stroke-width="1.25"/>
<line x1="1487.3" y1="1795.5" x2="1498.9" y2="1795.5" stroke="#000" stroke-width="2.0"/>
<circle cx="1493.1" cy="1709.4" r="3.3" fill="#000"/>
<line x1="1506.4" y1="1753.7" x2="1506.4" y2="1768.5" stroke="#000" stroke-width="1.2"/>
<line x1="1506.4" y1="1805.2" x2="1506.4" y2="1845.7" stroke="#000" stroke-width="1.2"/>
<rect x="1500.6" y="1768.5" width="11.6" height="36.8" fill="#00bfc4" stroke="#000" stroke-width="1.25"/>
<line x1="1500.6" y1="1792" x2="1512.2" y2="1792" stroke="#000" stroke-width="2.0"/>
<line x1="1499.5" y1="1867.3" x2="1499.5" y2="1878.3" stroke="#111" stroke-width="1.2"/>
<text transform="translate(1509,1892.7) rotate(-45)" font-size="20.7" text-anchor="end">NK.cells.resting</text>
<text x="1499.5" y="1429.3" font-size="17.5" text-anchor="middle" font-weight="bold" fill="#111">**</text>
<rect x="1520.7" y="1845.7" width="11.6" height="0" fill="#f8766d" stroke="#000" stroke-width="1.25"/>
<line x1="1520.7" y1="1845.7" x2="1532.3" y2="1845.7" stroke="#000" stroke-width="2.0"/>
<circle cx="1526.5" cy="1792.9" r="3.3" fill="#000"/>
<circle cx="1526.5" cy="1828.7" r="3.3" fill="#000"/>
<circle cx="1526.5" cy="1845.7" r="3.3" fill="#000"/>
<line x1="1539.8" y1="1833.1" x2="1539.8" y2="1839.9" stroke="#000" stroke-width="1.2"/>
<rect x="1534" y="1839.9" width="11.6" height="5.8" fill="#00bfc4" stroke="#000" stroke-width="1.25"/>
<line x1="1534" y1="1844.8" x2="1545.6" y2="1844.8" stroke="#000" stroke-width="2.0"/>
<circle cx="1539.8" cy="1816.4" r="3.3" fill="#000"/>
<line x1="1532.9" y1="1867.3" x2="1532.9" y2="1878.3" stroke="#111" stroke-width="1.2"/>
<text transform="translate(1542.4,1892.7) rotate(-45)" font-size="20.7" text-anchor="end">NK.cells.activated</text>
<text x="1532.9" y="1429.3" font-size="17.5" text-anchor="middle" font-weight="bold" fill="#111">****</text>
<line x1="1560" y1="1820.7" x2="1560" y2="1834" stroke="#000" stroke-width="1.2"/>
<rect x="1554.2" y="1834" width="11.6" height="11.7" fill="#f8766d" stroke="#000" stroke-width="1.25"/>
<line x1="1554.2" y1="1842" x2="1565.8" y2="1842" stroke="#000" stroke-width="2.0"/>
<circle cx="1560" cy="1794.9" r="3.3" fill="#000"/>
<circle cx="1560" cy="1802.9" r="3.3" fill="#000"/>
<line x1="1573.3" y1="1800.8" x2="1573.3" y2="1822.9" stroke="#000" stroke-width="1.2"/>
<rect x="1567.5" y="1822.9" width="11.6" height="22.8" fill="#00bfc4" stroke="#000" stroke-width="1.25"/>
<line x1="1567.5" y1="1835.1" x2="1579.1" y2="1835.1" stroke="#000" stroke-width="2.0"/>
<line x1="1566.4" y1="1867.3" x2="1566.4" y2="1878.3" stroke="#111" stroke-width="1.2"/>
<text transform="translate(1575.9,1892.7) rotate(-45)" font-size="20.7" text-anchor="end">Monocytes</text>
<text x="1566.4" y="1429.3" font-size="17.5" text-anchor="middle" font-weight="bold" fill="#111">****</text>
<line x1="1593.4" y1="1428.4" x2="1593.4" y2="1647.3" stroke="#000" stroke-width="1.2"/>
<line x1="1593.4" y1="1826.4" x2="1593.4" y2="1845.7" stroke="#000" stroke-width="1.2"/>
<rect x="1587.6" y="1647.3" width="11.6" height="179.1" fill="#f8766d" stroke="#000" stroke-width="1.25"/>
<line x1="1587.6" y1="1750" x2="1599.2" y2="1750" stroke="#000" stroke-width="2.0"/>
<line x1="1606.7" y1="1644.7" x2="1606.7" y2="1720.5" stroke="#000" stroke-width="1.2"/>
<line x1="1606.7" y1="1839.9" x2="1606.7" y2="1845.7" stroke="#000" stroke-width="1.2"/>
<rect x="1600.9" y="1720.5" width="11.6" height="119.4" fill="#00bfc4" stroke="#000" stroke-width="1.25"/>
<line x1="1600.9" y1="1795.5" x2="1612.5" y2="1795.5" stroke="#000" stroke-width="2.0"/>
<line x1="1599.8" y1="1867.3" x2="1599.8" y2="1878.3" stroke="#111" stroke-width="1.2"/>
<text transform="translate(1609.3,1892.7) rotate(-45)" font-size="20.7" text-anchor="end">Macrophages.M0</text>
<text x="1599.8" y="1429.3" font-size="17.5" text-anchor="middle" font-weight="bold" fill="#111">***</text>
<line x1="1626.8" y1="1798.7" x2="1626.8" y2="1827.2" stroke="#000" stroke-width="1.2"/>
<rect x="1621" y="1827.2" width="11.6" height="18.5" fill="#f8766d" stroke="#000" stroke-width="1.25"/>
<line x1="1621" y1="1839" x2="1632.6" y2="1839" stroke="#000" stroke-width="2.0"/>
<circle cx="1626.8" cy="1752.4" r="3.3" fill="#000"/>
<circle cx="1626.8" cy="1775.3" r="3.3" fill="#000"/>
<line x1="1640.1" y1="1726.7" x2="1640.1" y2="1787.5" stroke="#000" stroke-width="1.2"/>
<line x1="1640.1" y1="1830.8" x2="1640.1" y2="1845.7" stroke="#000" stroke-width="1.2"/>
<rect x="1634.3" y="1787.5" width="11.6" height="43.3" fill="#00bfc4" stroke="#000" stroke-width="1.25"/>
<line x1="1634.3" y1="1806.7" x2="1645.9" y2="1806.7" stroke="#000" stroke-width="2.0"/>
<circle cx="1640.1" cy="1606.8" r="3.3" fill="#000"/>
<circle cx="1640.1" cy="1695" r="3.3" fill="#000"/>
<line x1="1633.2" y1="1867.3" x2="1633.2" y2="1878.3" stroke="#111" stroke-width="1.2"/>
<text transform="translate(1642.7,1892.7) rotate(-45)" font-size="20.7" text-anchor="end">Macrophages.M1</text>
<text x="1633.2" y="1430" font-size="20.7" text-anchor="middle">ns</text>
<line x1="1660.2" y1="1572.3" x2="1660.2" y2="1689.8" stroke="#000" stroke-width="1.2"/>
<line x1="1660.2" y1="1769.1" x2="1660.2" y2="1835.1" stroke="#000" stroke-width="1.2"/>
<rect x="1654.5" y="1689.8" width="11.6" height="79.3" fill="#f8766d" stroke="#000" stroke-width="1.25"/>
<line x1="1654.5" y1="1735.2" x2="1666" y2="1735.2" stroke="#000" stroke-width="2.0"/>
<line x1="1673.6" y1="1637.7" x2="1673.6" y2="1695.8" stroke="#000" stroke-width="1.2"/>
<line x1="1673.6" y1="1740.5" x2="1673.6" y2="1797.8" stroke="#000" stroke-width="1.2"/>
<rect x="1667.8" y="1695.8" width="11.6" height="44.7" fill="#00bfc4" stroke="#000" stroke-width="1.25"/>
<line x1="1667.8" y1="1714.1" x2="1679.4" y2="1714.1" stroke="#000" stroke-width="2.0"/>
<circle cx="1673.6" cy="1827.2" r="3.3" fill="#000"/>
<line x1="1666.7" y1="1867.3" x2="1666.7" y2="1878.3" stroke="#111" stroke-width="1.2"/>
<text transform="translate(1676.2,1892.7) rotate(-45)" font-size="20.7" text-anchor="end">Macrophages.M2</text>
<text x="1666.7" y="1429.3" font-size="17.5" text-anchor="middle" font-weight="bold" fill="#111">****</text>
<rect x="1687.9" y="1845.7" width="11.6" height="0" fill="#f8766d" stroke="#000" stroke-width="1.25"/>
<line x1="1687.9" y1="1845.7" x2="1699.5" y2="1845.7" stroke="#000" stroke-width="2.0"/>
<circle cx="1693.7" cy="1769.1" r="3.3" fill="#000"/>
<circle cx="1693.7" cy="1781.7" r="3.3" fill="#000"/>
<circle cx="1693.7" cy="1843.1" r="3.3" fill="#000"/>
<circle cx="1693.7" cy="1845.7" r="3.3" fill="#000"/>
<rect x="1701.2" y="1845.7" width="11.6" height="0" fill="#00bfc4" stroke="#000" stroke-width="1.25"/>
<line x1="1701.2" y1="1845.7" x2="1712.8" y2="1845.7" stroke="#000" stroke-width="2.0"/>
<circle cx="1707" cy="1775.9" r="3.3" fill="#000"/>
<circle cx="1707" cy="1824.3" r="3.3" fill="#000"/>
<circle cx="1707" cy="1841" r="3.3" fill="#000"/>
<line x1="1700.1" y1="1867.3" x2="1700.1" y2="1878.3" stroke="#111" stroke-width="1.2"/>
<text transform="translate(1709.6,1892.7) rotate(-45)" font-size="20.7" text-anchor="end">Dendritic.cells.resting</text>
<text x="1700.1" y="1429.3" font-size="17.5" text-anchor="middle" font-weight="bold" fill="#111">****</text>
<line x1="1727.1" y1="1712.9" x2="1727.1" y2="1766.2" stroke="#000" stroke-width="1.2"/>
<line x1="1727.1" y1="1806.1" x2="1727.1" y2="1845.7" stroke="#000" stroke-width="1.2"/>
<rect x="1721.3" y="1766.2" width="11.6" height="39.9" fill="#f8766d" stroke="#000" stroke-width="1.25"/>
<line x1="1721.3" y1="1788.1" x2="1732.9" y2="1788.1" stroke="#000" stroke-width="2.0"/>
<line x1="1740.4" y1="1725.9" x2="1740.4" y2="1772.9" stroke="#000" stroke-width="1.2"/>
<line x1="1740.4" y1="1822.9" x2="1740.4" y2="1837.5" stroke="#000" stroke-width="1.2"/>
<rect x="1734.6" y="1772.9" width="11.6" height="50" fill="#00bfc4" stroke="#000" stroke-width="1.25"/>
<line x1="1734.6" y1="1798.7" x2="1746.2" y2="1798.7" stroke="#000" stroke-width="2.0"/>
<circle cx="1740.4" cy="1684.7" r="3.3" fill="#000"/>
<line x1="1733.5" y1="1867.3" x2="1733.5" y2="1878.3" stroke="#111" stroke-width="1.2"/>
<text transform="translate(1743,1892.7) rotate(-45)" font-size="20.7" text-anchor="end">Dendritic.cells.activated</text>
<text x="1733.5" y="1429.3" font-size="17.5" text-anchor="middle" font-weight="bold" fill="#111">**</text>
<line x1="1760.5" y1="1782.3" x2="1760.5" y2="1807.3" stroke="#000" stroke-width="1.2"/>
<rect x="1754.7" y="1807.3" width="11.6" height="38.4" fill="#f8766d" stroke="#000" stroke-width="1.25"/>
<line x1="1754.7" y1="1836.9" x2="1766.3" y2="1836.9" stroke="#000" stroke-width="2.0"/>
<circle cx="1760.5" cy="1741.2" r="3.3" fill="#000"/>
<circle cx="1760.5" cy="1749.4" r="3.3" fill="#000"/>
<line x1="1773.8" y1="1761.1" x2="1773.8" y2="1800.8" stroke="#000" stroke-width="1.2"/>
<line x1="1773.8" y1="1835.1" x2="1773.8" y2="1845.7" stroke="#000" stroke-width="1.2"/>
<rect x="1768" y="1800.8" width="11.6" height="34.3" fill="#00bfc4" stroke="#000" stroke-width="1.25"/>
<line x1="1768" y1="1806.7" x2="1779.6" y2="1806.7" stroke="#000" stroke-width="2.0"/>
<circle cx="1773.8" cy="1724.3" r="3.3" fill="#000"/>
<line x1="1766.9" y1="1867.3" x2="1766.9" y2="1878.3" stroke="#111" stroke-width="1.2"/>
<text transform="translate(1776.4,1892.7) rotate(-45)" font-size="20.7" text-anchor="end">Mast.cells.resting</text>
<text x="1766.9" y="1430" font-size="20.7" text-anchor="middle">ns</text>
<line x1="1794" y1="1733.2" x2="1794" y2="1763.4" stroke="#000" stroke-width="1.2"/>
<line x1="1794" y1="1825.2" x2="1794" y2="1845.7" stroke="#000" stroke-width="1.2"/>
<rect x="1788.2" y="1763.4" width="11.6" height="61.7" fill="#f8766d" stroke="#000" stroke-width="1.25"/>
<line x1="1788.2" y1="1808.7" x2="1799.8" y2="1808.7" stroke="#000" stroke-width="2.0"/>
<line x1="1807.3" y1="1838" x2="1807.3" y2="1841" stroke="#000" stroke-width="1.2"/>
<rect x="1801.5" y="1841" width="11.6" height="4.7" fill="#00bfc4" stroke="#000" stroke-width="1.25"/>
<line x1="1801.5" y1="1844.8" x2="1813.1" y2="1844.8" stroke="#000" stroke-width="2.0"/>
<circle cx="1807.3" cy="1763.4" r="3.3" fill="#000"/>
<circle cx="1807.3" cy="1765.6" r="3.3" fill="#000"/>
<circle cx="1807.3" cy="1767.4" r="3.3" fill="#000"/>
<circle cx="1807.3" cy="1790.5" r="3.3" fill="#000"/>
<circle cx="1807.3" cy="1831.6" r="3.3" fill="#000"/>
<line x1="1800.4" y1="1867.3" x2="1800.4" y2="1878.3" stroke="#111" stroke-width="1.2"/>
<text transform="translate(1809.9,1892.7) rotate(-45)" font-size="20.7" text-anchor="end">Mast.cells.activated</text>
<text x="1800.4" y="1430" font-size="20.7" text-anchor="middle">ns</text>
<rect x="1821.6" y="1845.7" width="11.6" height="0" fill="#f8766d" stroke="#000" stroke-width="1.25"/>
<line x1="1821.6" y1="1845.7" x2="1833.2" y2="1845.7" stroke="#000" stroke-width="2.0"/>
<rect x="1834.9" y="1845.7" width="11.6" height="0" fill="#00bfc4" stroke="#000" stroke-width="1.25"/>
<line x1="1834.9" y1="1845.7" x2="1846.5" y2="1845.7" stroke="#000" stroke-width="2.0"/>
<circle cx="1840.7" cy="1839.6" r="3.3" fill="#000"/>
<line x1="1833.8" y1="1867.3" x2="1833.8" y2="1878.3" stroke="#111" stroke-width="1.2"/>
<text transform="translate(1843.3,1892.7) rotate(-45)" font-size="20.7" text-anchor="end">Eosinophils</text>
<text x="1833.8" y="1429.3" font-size="17.5" text-anchor="middle" font-weight="bold" fill="#111">****</text>
<line x1="1860.8" y1="1729.7" x2="1860.8" y2="1769.1" stroke="#000" stroke-width="1.2"/>
<line x1="1860.8" y1="1811.6" x2="1860.8" y2="1845.7" stroke="#000" stroke-width="1.2"/>
<rect x="1855" y="1769.1" width="11.6" height="42.6" fill="#f8766d" stroke="#000" stroke-width="1.25"/>
<line x1="1855" y1="1795.5" x2="1866.6" y2="1795.5" stroke="#000" stroke-width="2.0"/>
<circle cx="1860.8" cy="1435.2" r="3.3" fill="#000"/>
<circle cx="1860.8" cy="1615.8" r="3.3" fill="#000"/>
<line x1="1874.1" y1="1758.8" x2="1874.1" y2="1797.2" stroke="#000" stroke-width="1.2"/>
<line x1="1874.1" y1="1835.1" x2="1874.1" y2="1845.7" stroke="#000" stroke-width="1.2"/>
<rect x="1868.3" y="1797.2" width="11.6" height="37.9" fill="#00bfc4" stroke="#000" stroke-width="1.25"/>
<line x1="1868.3" y1="1810.8" x2="1879.9" y2="1810.8" stroke="#000" stroke-width="2.0"/>
<circle cx="1874.1" cy="1689.2" r="3.3" fill="#000"/>
<circle cx="1874.1" cy="1733.3" r="3.3" fill="#000"/>
<line x1="1867.2" y1="1867.3" x2="1867.2" y2="1878.3" stroke="#111" stroke-width="1.2"/>
<text transform="translate(1876.7,1892.7) rotate(-45)" font-size="20.7" text-anchor="end">Neutrophils</text>
<text x="1867.2" y="1430" font-size="20.7" text-anchor="middle">ns</text>
<rect x="1145.4" y="1407.2" width="741.9" height="460.1" fill="none" stroke="#111" stroke-width="1.3"/>
<line x1="1136" y1="1845.7" x2="1145.4" y2="1845.7" stroke="#111" stroke-width="1.2"/>
<text x="1129.6" y="1853" font-size="20.7" text-anchor="end">0.0</text>
<line x1="1136" y1="1760.5" x2="1145.4" y2="1760.5" stroke="#111" stroke-width="1.2"/>
<text x="1129.6" y="1767.8" font-size="20.7" text-anchor="end">0.1</text>
<line x1="1136" y1="1675.4" x2="1145.4" y2="1675.4" stroke="#111" stroke-width="1.2"/>
<text x="1129.6" y="1682.7" font-size="20.7" text-anchor="end">0.2</text>
<line x1="1136" y1="1590.2" x2="1145.4" y2="1590.2" stroke="#111" stroke-width="1.2"/>
<text x="1129.6" y="1597.5" font-size="20.7" text-anchor="end">0.3</text>
<line x1="1136" y1="1505.1" x2="1145.4" y2="1505.1" stroke="#111" stroke-width="1.2"/>
<text x="1129.6" y="1512.4" font-size="20.7" text-anchor="end">0.4</text>
<line x1="1136" y1="1419.9" x2="1145.4" y2="1419.9" stroke="#111" stroke-width="1.2"/>
<text x="1129.6" y="1427.2" font-size="20.7" text-anchor="end">0.5</text>
<text transform="translate(1075.5,1642) rotate(-90)" font-size="20.7" text-anchor="middle">Immune cell composition</text>
<text x="1910.8" y="1614.2" font-size="20.7">Response</text>
<line x1="1926.5" y1="1629.8" x2="1926.5" y2="1651.5" stroke="#000" stroke-width="1.2"/>
<rect x="1915.8" y="1633.3" width="21.4" height="14.7" fill="#f8766d" stroke="#000" stroke-width="1.5"/>
<line x1="1915.8" y1="1640.6" x2="1937.2" y2="1640.6" stroke="#000" stroke-width="2.0"/>
<text x="1946.6" y="1649.5" font-size="20.7">No</text>
<line x1="1926.5" y1="1656.2" x2="1926.5" y2="1677.9" stroke="#000" stroke-width="1.2"/>
<rect x="1915.8" y="1659.7" width="21.4" height="14.7" fill="#00bfc4" stroke="#000" stroke-width="1.5"/>
<line x1="1915.8" y1="1667.1" x2="1937.2" y2="1667.1" stroke="#000" stroke-width="2.0"/>
<text x="1946.6" y="1675.9" font-size="20.7">Yes</text>
<text x="941" y="1412" font-size="43" font-weight="bold">e</text>
</svg></body></html>
